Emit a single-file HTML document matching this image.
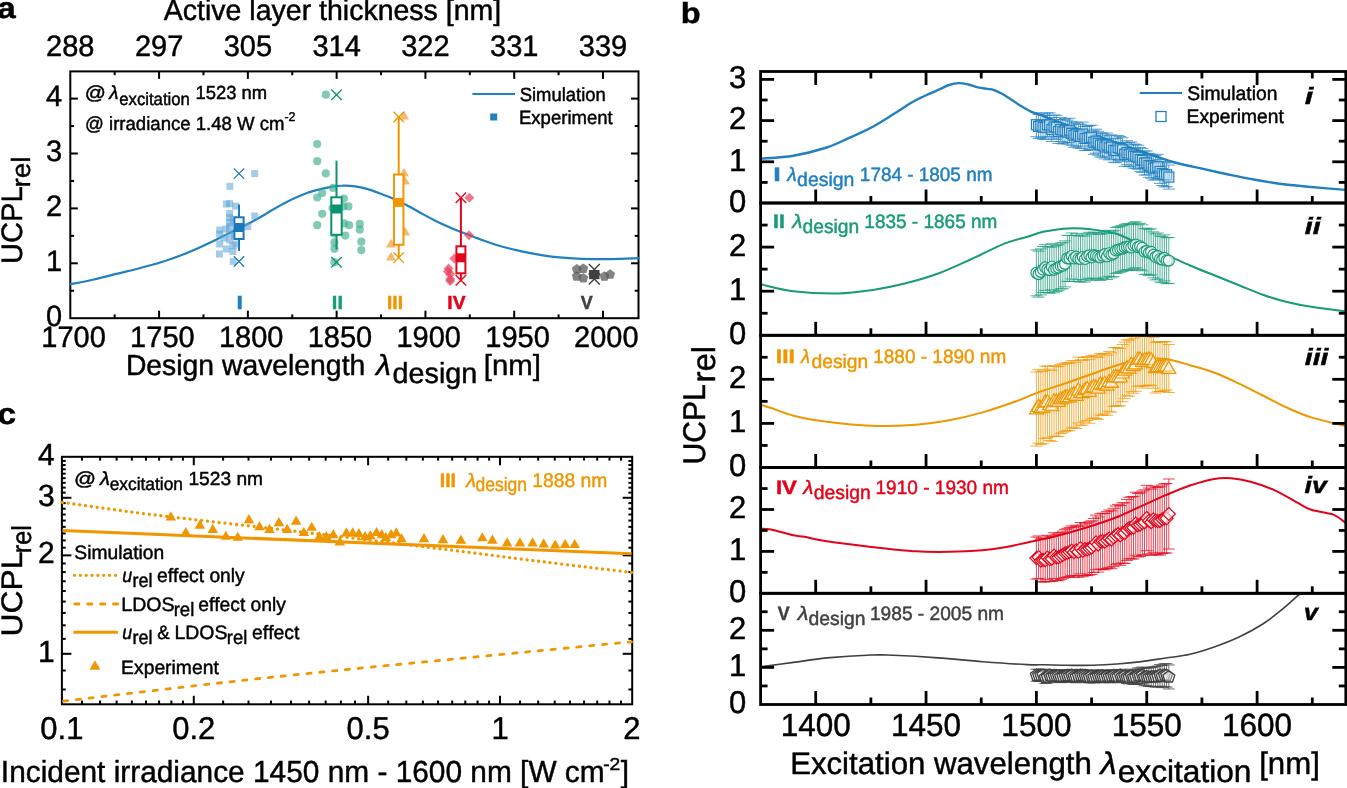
<!DOCTYPE html>
<html><head><meta charset="utf-8"><style>
html,body{margin:0;padding:0;background:#fff;overflow:hidden}
svg{display:block;font-family:"Liberation Sans",sans-serif;font-kerning:none;will-change:transform;text-rendering:geometricPrecision}
text{font-kerning:none}
</style></head><body>
<svg width="1347" height="788" viewBox="0 0 1347 788">
<rect width="1347" height="788" fill="#fff"/>
<text transform="translate(-2.87,17.90) scale(1.1447,1.0200)" font-size="29.00" fill="#000" stroke="#000" stroke-width="0.45" font-weight="bold">a</text>
<text transform="translate(163.84,20.30) scale(1.0000,1.0200)" font-size="28.51" fill="#000" stroke="#000" stroke-width="0.45">Active layer thickness [nm]</text>
<text transform="translate(46.11,55.50) scale(1,1.0200)" font-size="29.00" fill="#000" stroke="#000" stroke-width="0.45">288</text>
<text transform="translate(134.89,55.50) scale(1,1.0200)" font-size="29.00" fill="#000" stroke="#000" stroke-width="0.45">297</text>
<text transform="translate(223.67,55.50) scale(1,1.0200)" font-size="29.00" fill="#000" stroke="#000" stroke-width="0.45">305</text>
<text transform="translate(312.45,55.50) scale(1,1.0200)" font-size="29.00" fill="#000" stroke="#000" stroke-width="0.45">314</text>
<text transform="translate(401.23,55.50) scale(1,1.0200)" font-size="29.00" fill="#000" stroke="#000" stroke-width="0.45">322</text>
<text transform="translate(490.01,55.50) scale(1,1.0200)" font-size="29.00" fill="#000" stroke="#000" stroke-width="0.45">331</text>
<text transform="translate(578.79,55.50) scale(1,1.0200)" font-size="29.00" fill="#000" stroke="#000" stroke-width="0.45">339</text>
<text transform="translate(41.34,347.00) scale(1,1.0200)" font-size="29.00" fill="#000" stroke="#000" stroke-width="0.45">1700</text>
<text transform="translate(130.12,347.00) scale(1,1.0200)" font-size="29.00" fill="#000" stroke="#000" stroke-width="0.45">1750</text>
<text transform="translate(218.91,347.00) scale(1,1.0200)" font-size="29.00" fill="#000" stroke="#000" stroke-width="0.45">1800</text>
<text transform="translate(307.69,347.00) scale(1,1.0200)" font-size="29.00" fill="#000" stroke="#000" stroke-width="0.45">1850</text>
<text transform="translate(396.47,347.00) scale(1,1.0200)" font-size="29.00" fill="#000" stroke="#000" stroke-width="0.45">1900</text>
<text transform="translate(485.25,347.00) scale(1,1.0200)" font-size="29.00" fill="#000" stroke="#000" stroke-width="0.45">1950</text>
<text transform="translate(574.03,347.00) scale(1,1.0200)" font-size="29.00" fill="#000" stroke="#000" stroke-width="0.45">2000</text>
<text transform="translate(46.07,325.70) scale(1,1.0200)" font-size="29.00" fill="#000" stroke="#000" stroke-width="0.45">0</text>
<text transform="translate(46.07,270.80) scale(1,1.0200)" font-size="29.00" fill="#000" stroke="#000" stroke-width="0.45">1</text>
<text transform="translate(46.07,215.90) scale(1,1.0200)" font-size="29.00" fill="#000" stroke="#000" stroke-width="0.45">2</text>
<text transform="translate(46.07,161.00) scale(1,1.0200)" font-size="29.00" fill="#000" stroke="#000" stroke-width="0.45">3</text>
<text transform="translate(46.07,106.10) scale(1,1.0200)" font-size="29.00" fill="#000" stroke="#000" stroke-width="0.45">4</text>
<text transform="translate(125.88,375.40) scale(0.9940,1.0200)" font-size="28.50" fill="#000" stroke="#000" stroke-width="0.45">Design wavelength</text>
<text transform="translate(375.88,375.40) scale(1.0649,1.0200)" font-size="28.50" fill="#000" stroke="#000" stroke-width="0.45" font-style="italic">λ</text>
<text transform="translate(392.59,383.30) scale(1.0082,1.0200)" font-size="28.50" fill="#000" stroke="#000" stroke-width="0.45">design</text>
<text transform="translate(483.81,375.40) scale(1.0299,1.0200)" font-size="28.50" fill="#000" stroke="#000" stroke-width="0.45">[nm]</text>
<text transform="translate(22.10,264.05) rotate(-90) scale(1.0012,1.0138)" font-size="29.10" fill="#000" stroke="#000" stroke-width="0.45">UCPL</text>
<text transform="translate(29.70,187.55) rotate(-90) scale(1.0005,0.9448)" font-size="27.90" fill="#000" stroke="#000" stroke-width="0.45">rel</text>
<rect x="70.30" y="71.40" width="568.20" height="246.80" stroke="#000" stroke-width="2" fill="none"/>
<line x1="114.69" y1="318.20" x2="114.69" y2="314.40" stroke="#000" stroke-width="2"/>
<line x1="114.69" y1="71.40" x2="114.69" y2="75.20" stroke="#000" stroke-width="2"/>
<line x1="159.08" y1="318.20" x2="159.08" y2="310.70" stroke="#000" stroke-width="2"/>
<line x1="159.08" y1="71.40" x2="159.08" y2="78.90" stroke="#000" stroke-width="2"/>
<line x1="203.47" y1="318.20" x2="203.47" y2="314.40" stroke="#000" stroke-width="2"/>
<line x1="203.47" y1="71.40" x2="203.47" y2="75.20" stroke="#000" stroke-width="2"/>
<line x1="247.86" y1="318.20" x2="247.86" y2="310.70" stroke="#000" stroke-width="2"/>
<line x1="247.86" y1="71.40" x2="247.86" y2="78.90" stroke="#000" stroke-width="2"/>
<line x1="292.25" y1="318.20" x2="292.25" y2="314.40" stroke="#000" stroke-width="2"/>
<line x1="292.25" y1="71.40" x2="292.25" y2="75.20" stroke="#000" stroke-width="2"/>
<line x1="336.64" y1="318.20" x2="336.64" y2="310.70" stroke="#000" stroke-width="2"/>
<line x1="336.64" y1="71.40" x2="336.64" y2="78.90" stroke="#000" stroke-width="2"/>
<line x1="381.03" y1="318.20" x2="381.03" y2="314.40" stroke="#000" stroke-width="2"/>
<line x1="381.03" y1="71.40" x2="381.03" y2="75.20" stroke="#000" stroke-width="2"/>
<line x1="425.43" y1="318.20" x2="425.43" y2="310.70" stroke="#000" stroke-width="2"/>
<line x1="425.43" y1="71.40" x2="425.43" y2="78.90" stroke="#000" stroke-width="2"/>
<line x1="469.82" y1="318.20" x2="469.82" y2="314.40" stroke="#000" stroke-width="2"/>
<line x1="469.82" y1="71.40" x2="469.82" y2="75.20" stroke="#000" stroke-width="2"/>
<line x1="514.21" y1="318.20" x2="514.21" y2="310.70" stroke="#000" stroke-width="2"/>
<line x1="514.21" y1="71.40" x2="514.21" y2="78.90" stroke="#000" stroke-width="2"/>
<line x1="558.60" y1="318.20" x2="558.60" y2="314.40" stroke="#000" stroke-width="2"/>
<line x1="558.60" y1="71.40" x2="558.60" y2="75.20" stroke="#000" stroke-width="2"/>
<line x1="602.99" y1="318.20" x2="602.99" y2="310.70" stroke="#000" stroke-width="2"/>
<line x1="602.99" y1="71.40" x2="602.99" y2="78.90" stroke="#000" stroke-width="2"/>
<line x1="70.30" y1="290.75" x2="74.10" y2="290.75" stroke="#000" stroke-width="2"/>
<line x1="638.50" y1="290.75" x2="634.70" y2="290.75" stroke="#000" stroke-width="2"/>
<line x1="70.30" y1="263.30" x2="77.80" y2="263.30" stroke="#000" stroke-width="2"/>
<line x1="638.50" y1="263.30" x2="631.00" y2="263.30" stroke="#000" stroke-width="2"/>
<line x1="70.30" y1="235.85" x2="74.10" y2="235.85" stroke="#000" stroke-width="2"/>
<line x1="638.50" y1="235.85" x2="634.70" y2="235.85" stroke="#000" stroke-width="2"/>
<line x1="70.30" y1="208.40" x2="77.80" y2="208.40" stroke="#000" stroke-width="2"/>
<line x1="638.50" y1="208.40" x2="631.00" y2="208.40" stroke="#000" stroke-width="2"/>
<line x1="70.30" y1="180.95" x2="74.10" y2="180.95" stroke="#000" stroke-width="2"/>
<line x1="638.50" y1="180.95" x2="634.70" y2="180.95" stroke="#000" stroke-width="2"/>
<line x1="70.30" y1="153.50" x2="77.80" y2="153.50" stroke="#000" stroke-width="2"/>
<line x1="638.50" y1="153.50" x2="631.00" y2="153.50" stroke="#000" stroke-width="2"/>
<line x1="70.30" y1="126.05" x2="74.10" y2="126.05" stroke="#000" stroke-width="2"/>
<line x1="638.50" y1="126.05" x2="634.70" y2="126.05" stroke="#000" stroke-width="2"/>
<line x1="70.30" y1="98.60" x2="77.80" y2="98.60" stroke="#000" stroke-width="2"/>
<line x1="638.50" y1="98.60" x2="631.00" y2="98.60" stroke="#000" stroke-width="2"/>
<path d="M70.30,284.30 C74.22,283.50 85.93,281.28 93.80,279.50 C101.67,277.72 109.58,275.57 117.50,273.60 C125.42,271.63 133.38,269.80 141.30,267.70 C149.22,265.60 157.08,263.58 165.00,261.00 C172.92,258.42 180.88,255.45 188.80,252.20 C196.72,248.95 204.58,245.27 212.50,241.50 C220.42,237.73 229.95,232.77 236.30,229.60 C242.65,226.43 246.63,224.55 250.60,222.50 C254.57,220.45 254.57,220.47 260.10,217.30 C265.63,214.13 275.88,207.58 283.80,203.50 C291.72,199.42 299.68,195.57 307.60,192.80 C315.52,190.03 325.37,188.08 331.30,186.90 C337.23,185.72 339.25,185.80 343.20,185.70 C347.15,185.60 351.03,185.77 355.00,186.30 C358.97,186.83 362.83,187.70 367.00,188.90 C371.17,190.10 374.62,191.45 380.00,193.50 C385.38,195.55 392.87,198.15 399.30,201.20 C405.73,204.25 412.17,208.32 418.60,211.80 C425.03,215.28 431.47,218.97 437.90,222.10 C444.33,225.23 450.77,227.97 457.20,230.60 C463.63,233.23 470.07,235.55 476.50,237.90 C482.93,240.25 489.37,242.70 495.80,244.70 C502.23,246.70 508.67,248.37 515.10,249.90 C521.53,251.43 527.97,252.75 534.40,253.90 C540.83,255.05 547.27,256.05 553.70,256.80 C560.13,257.55 566.57,258.02 573.00,258.40 C579.43,258.78 585.87,258.98 592.30,259.10 C598.73,259.22 603.90,259.25 611.60,259.10 C619.30,258.95 634.02,258.35 638.50,258.20" fill="none" stroke="#2080c0" stroke-width="2.2" stroke-linejoin="round" stroke-linecap="round"/>
<text transform="translate(84.86,99.30) scale(1.1255,1.0200)" font-size="18.50" fill="#000" stroke="#000" stroke-width="0.45">@</text>
<text transform="translate(109.15,99.30) scale(1.0155,1.0200)" font-size="18.50" fill="#000" stroke="#000" stroke-width="0.45" font-style="italic">λ</text>
<text transform="translate(119.29,104.50) scale(0.9715,1.0200)" font-size="17.20" fill="#000" stroke="#000" stroke-width="0.45">excitation</text>
<text transform="translate(195.40,99.40) scale(0.9962,1.0200)" font-size="18.50" fill="#000" stroke="#000" stroke-width="0.45">1523 nm</text>
<text transform="translate(85.04,129.80) scale(0.9985,1.0200)" font-size="18.60" fill="#000" stroke="#000" stroke-width="0.45">@ irradiance 1.48 W cm</text>
<text transform="translate(284.45,121.40) scale(0.9869,1.0200)" font-size="12.50" fill="#000" stroke="#000" stroke-width="0.45">-2</text>
<line x1="472.40" y1="94.10" x2="515.10" y2="94.10" stroke="#2080c0" stroke-width="2"/>
<text transform="translate(519.66,101.00) scale(0.9825,1.0200)" font-size="18.80" fill="#000" stroke="#000" stroke-width="0.45">Simulation</text>
<rect x="490.20" y="113.50" width="7" height="7" fill="#2080c0"/>
<text transform="translate(518.98,123.60) scale(0.9871,1.0200)" font-size="18.80" fill="#000" stroke="#000" stroke-width="0.45">Experiment</text>
<rect x="251.20" y="170.10" width="7" height="7" fill="#5aa2d6" fill-opacity="0.55"/>
<rect x="226.40" y="182.80" width="7" height="7" fill="#5aa2d6" fill-opacity="0.55"/>
<rect x="226.10" y="200.10" width="7" height="7" fill="#5aa2d6" fill-opacity="0.55"/>
<rect x="231.90" y="202.60" width="7" height="7" fill="#5aa2d6" fill-opacity="0.55"/>
<rect x="223.00" y="200.50" width="7" height="7" fill="#5aa2d6" fill-opacity="0.55"/>
<rect x="226.10" y="210.00" width="7" height="7" fill="#5aa2d6" fill-opacity="0.55"/>
<rect x="226.10" y="214.20" width="7" height="7" fill="#5aa2d6" fill-opacity="0.55"/>
<rect x="251.20" y="212.50" width="7" height="7" fill="#5aa2d6" fill-opacity="0.55"/>
<rect x="226.10" y="219.10" width="7" height="7" fill="#5aa2d6" fill-opacity="0.55"/>
<rect x="226.10" y="223.20" width="7" height="7" fill="#5aa2d6" fill-opacity="0.55"/>
<rect x="216.20" y="226.50" width="7" height="7" fill="#5aa2d6" fill-opacity="0.55"/>
<rect x="244.30" y="223.20" width="7" height="7" fill="#5aa2d6" fill-opacity="0.55"/>
<rect x="216.20" y="230.70" width="7" height="7" fill="#5aa2d6" fill-opacity="0.55"/>
<rect x="226.10" y="229.80" width="7" height="7" fill="#5aa2d6" fill-opacity="0.55"/>
<rect x="231.10" y="232.30" width="7" height="7" fill="#5aa2d6" fill-opacity="0.55"/>
<rect x="226.10" y="236.50" width="7" height="7" fill="#5aa2d6" fill-opacity="0.55"/>
<rect x="216.20" y="240.50" width="7" height="7" fill="#5aa2d6" fill-opacity="0.55"/>
<rect x="222.80" y="245.50" width="7" height="7" fill="#5aa2d6" fill-opacity="0.55"/>
<rect x="229.40" y="242.20" width="7" height="7" fill="#5aa2d6" fill-opacity="0.55"/>
<rect x="229.40" y="248.00" width="7" height="7" fill="#5aa2d6" fill-opacity="0.55"/>
<rect x="215.90" y="250.50" width="7" height="7" fill="#5aa2d6" fill-opacity="0.55"/>
<rect x="229.70" y="257.90" width="7" height="7" fill="#5aa2d6" fill-opacity="0.55"/>
<rect x="236.00" y="225.70" width="7" height="7" fill="#5aa2d6" fill-opacity="0.55"/>
<rect x="234.40" y="232.30" width="7" height="7" fill="#5aa2d6" fill-opacity="0.55"/>
<rect x="222.50" y="225.50" width="7" height="7" fill="#5aa2d6" fill-opacity="0.55"/>
<rect x="229.50" y="216.50" width="7" height="7" fill="#5aa2d6" fill-opacity="0.55"/>
<rect x="220.50" y="234.50" width="7" height="7" fill="#5aa2d6" fill-opacity="0.55"/>
<rect x="232.50" y="240.50" width="7" height="7" fill="#5aa2d6" fill-opacity="0.55"/>
<line x1="239.00" y1="204.50" x2="239.00" y2="217.30" stroke="#1a78bd" stroke-width="2"/>
<line x1="239.00" y1="239.00" x2="239.00" y2="251.00" stroke="#1a78bd" stroke-width="2"/>
<rect x="234.40" y="217.30" width="9.20" height="21.70" stroke="#1a78bd" stroke-width="2" fill="#fff"/>
<rect x="234.50" y="223.00" width="9" height="9" fill="#1a78bd" fill-opacity="1.0"/>
<line x1="233.75" y1="168.35" x2="244.25" y2="178.85" stroke="#1a78bd" stroke-width="1.3"/>
<line x1="233.75" y1="178.85" x2="244.25" y2="168.35" stroke="#1a78bd" stroke-width="1.3"/>
<line x1="233.75" y1="256.25" x2="244.25" y2="266.75" stroke="#1a78bd" stroke-width="1.3"/>
<line x1="233.75" y1="266.75" x2="244.25" y2="256.25" stroke="#1a78bd" stroke-width="1.3"/>
<circle cx="325.80" cy="94.70" r="4.1" fill="#3fae8f" fill-opacity="0.65"/>
<circle cx="317.20" cy="144.00" r="4.1" fill="#3fae8f" fill-opacity="0.65"/>
<circle cx="317.20" cy="161.20" r="4.1" fill="#3fae8f" fill-opacity="0.65"/>
<circle cx="325.80" cy="173.40" r="4.1" fill="#3fae8f" fill-opacity="0.65"/>
<circle cx="333.10" cy="187.90" r="4.1" fill="#3fae8f" fill-opacity="0.65"/>
<circle cx="322.20" cy="192.90" r="4.1" fill="#3fae8f" fill-opacity="0.65"/>
<circle cx="317.20" cy="197.50" r="4.1" fill="#3fae8f" fill-opacity="0.65"/>
<circle cx="322.20" cy="213.80" r="4.1" fill="#3fae8f" fill-opacity="0.65"/>
<circle cx="317.20" cy="225.20" r="4.1" fill="#3fae8f" fill-opacity="0.65"/>
<circle cx="343.80" cy="198.50" r="4.1" fill="#3fae8f" fill-opacity="0.65"/>
<circle cx="348.40" cy="206.40" r="4.1" fill="#3fae8f" fill-opacity="0.65"/>
<circle cx="343.30" cy="206.40" r="4.1" fill="#3fae8f" fill-opacity="0.65"/>
<circle cx="344.10" cy="223.40" r="4.1" fill="#3fae8f" fill-opacity="0.65"/>
<circle cx="349.10" cy="225.20" r="4.1" fill="#3fae8f" fill-opacity="0.65"/>
<circle cx="345.30" cy="235.60" r="4.1" fill="#3fae8f" fill-opacity="0.65"/>
<circle cx="359.80" cy="223.90" r="4.1" fill="#3fae8f" fill-opacity="0.65"/>
<circle cx="359.80" cy="229.70" r="4.1" fill="#3fae8f" fill-opacity="0.65"/>
<circle cx="361.30" cy="241.70" r="4.1" fill="#3fae8f" fill-opacity="0.65"/>
<circle cx="361.30" cy="250.10" r="4.1" fill="#3fae8f" fill-opacity="0.65"/>
<circle cx="334.40" cy="233.60" r="4.1" fill="#3fae8f" fill-opacity="0.65"/>
<circle cx="334.40" cy="242.40" r="4.1" fill="#3fae8f" fill-opacity="0.65"/>
<circle cx="334.40" cy="248.80" r="4.1" fill="#3fae8f" fill-opacity="0.65"/>
<circle cx="334.40" cy="262.20" r="4.1" fill="#3fae8f" fill-opacity="0.65"/>
<circle cx="332.60" cy="208.20" r="4.1" fill="#3fae8f" fill-opacity="0.65"/>
<line x1="336.50" y1="160.70" x2="336.50" y2="197.30" stroke="#0a9370" stroke-width="2"/>
<line x1="336.50" y1="234.80" x2="336.50" y2="249.50" stroke="#0a9370" stroke-width="2"/>
<rect x="331.30" y="197.30" width="10.40" height="37.50" stroke="#0a9370" stroke-width="2" fill="#fff"/>
<rect x="332.00" y="204.50" width="9" height="9" fill="#0a9370" fill-opacity="1.0"/>
<line x1="331.25" y1="89.45" x2="341.75" y2="99.95" stroke="#0a9370" stroke-width="1.3"/>
<line x1="331.25" y1="99.95" x2="341.75" y2="89.45" stroke="#0a9370" stroke-width="1.3"/>
<line x1="331.25" y1="256.95" x2="341.75" y2="267.45" stroke="#0a9370" stroke-width="1.3"/>
<line x1="331.25" y1="267.45" x2="341.75" y2="256.95" stroke="#0a9370" stroke-width="1.3"/>
<polygon points="404.00,110.78 409.00,119.48 399.00,119.48" fill="#f2a040" fill-opacity="0.75"/>
<polygon points="404.00,167.78 409.00,176.48 399.00,176.48" fill="#f2a040" fill-opacity="0.75"/>
<polygon points="405.00,175.78 410.00,184.48 400.00,184.48" fill="#f2a040" fill-opacity="0.75"/>
<polygon points="405.00,226.78 410.00,235.48 400.00,235.48" fill="#f2a040" fill-opacity="0.75"/>
<polygon points="391.00,238.78 396.00,247.48 386.00,247.48" fill="#f2a040" fill-opacity="0.75"/>
<polygon points="391.00,251.78 396.00,260.48 386.00,260.48" fill="#f2a040" fill-opacity="0.75"/>
<line x1="398.70" y1="117.00" x2="398.70" y2="174.50" stroke="#f09600" stroke-width="2"/>
<line x1="398.70" y1="244.80" x2="398.70" y2="257.60" stroke="#f09600" stroke-width="2"/>
<rect x="393.95" y="174.50" width="9.50" height="70.30" stroke="#f09600" stroke-width="2" fill="#fff"/>
<rect x="394.20" y="197.90" width="9" height="9" fill="#f09600" fill-opacity="1.0"/>
<line x1="393.45" y1="111.75" x2="403.95" y2="122.25" stroke="#f09600" stroke-width="1.3"/>
<line x1="393.45" y1="122.25" x2="403.95" y2="111.75" stroke="#f09600" stroke-width="1.3"/>
<line x1="393.45" y1="252.35" x2="403.95" y2="262.85" stroke="#f09600" stroke-width="1.3"/>
<line x1="393.45" y1="262.85" x2="403.95" y2="252.35" stroke="#f09600" stroke-width="1.3"/>
<polygon points="469.30,192.80 474.30,197.80 469.30,202.80 464.30,197.80" fill="#e8405a" fill-opacity="0.7"/>
<polygon points="469.00,230.20 474.00,235.20 469.00,240.20 464.00,235.20" fill="#e8405a" fill-opacity="0.7"/>
<polygon points="454.30,253.60 459.30,258.60 454.30,263.60 449.30,258.60" fill="#e8405a" fill-opacity="0.7"/>
<polygon points="448.60,263.40 453.60,268.40 448.60,273.40 443.60,268.40" fill="#e8405a" fill-opacity="0.7"/>
<polygon points="447.80,266.60 452.80,271.60 447.80,276.60 442.80,271.60" fill="#e8405a" fill-opacity="0.7"/>
<polygon points="450.20,269.10 455.20,274.10 450.20,279.10 445.20,274.10" fill="#e8405a" fill-opacity="0.7"/>
<polygon points="450.20,274.00 455.20,279.00 450.20,284.00 445.20,279.00" fill="#e8405a" fill-opacity="0.7"/>
<polygon points="450.20,276.00 455.20,281.00 450.20,286.00 445.20,281.00" fill="#e8405a" fill-opacity="0.7"/>
<line x1="460.90" y1="197.80" x2="460.90" y2="246.30" stroke="#e2041a" stroke-width="2"/>
<line x1="460.90" y1="273.30" x2="460.90" y2="280.30" stroke="#e2041a" stroke-width="2"/>
<rect x="456.40" y="246.30" width="9.00" height="27.00" stroke="#e2041a" stroke-width="2" fill="#fff"/>
<rect x="456.40" y="253.30" width="9" height="9" fill="#e2041a" fill-opacity="1.0"/>
<line x1="455.65" y1="192.55" x2="466.15" y2="203.05" stroke="#e2041a" stroke-width="1.3"/>
<line x1="455.65" y1="203.05" x2="466.15" y2="192.55" stroke="#e2041a" stroke-width="1.3"/>
<line x1="455.65" y1="275.05" x2="466.15" y2="285.55" stroke="#e2041a" stroke-width="1.3"/>
<line x1="455.65" y1="285.55" x2="466.15" y2="275.05" stroke="#e2041a" stroke-width="1.3"/>
<polygon points="576.80,264.05 581.79,267.68 579.89,273.55 573.71,273.55 571.81,267.68" fill="#5a5a5a" fill-opacity="0.75"/>
<polygon points="576.80,271.15 581.79,274.78 579.89,280.65 573.71,280.65 571.81,274.78" fill="#5a5a5a" fill-opacity="0.75"/>
<polygon points="583.30,263.45 588.29,267.08 586.39,272.95 580.21,272.95 578.31,267.08" fill="#5a5a5a" fill-opacity="0.75"/>
<polygon points="583.30,272.95 588.29,276.58 586.39,282.45 580.21,282.45 578.31,276.58" fill="#5a5a5a" fill-opacity="0.75"/>
<polygon points="604.40,271.15 609.39,274.78 607.49,280.65 601.31,280.65 599.41,274.78" fill="#5a5a5a" fill-opacity="0.75"/>
<polygon points="610.10,269.35 615.09,272.98 613.19,278.85 607.01,278.85 605.11,272.98" fill="#5a5a5a" fill-opacity="0.75"/>
<line x1="588.80" y1="264.00" x2="599.80" y2="275.00" stroke="#404040" stroke-width="1.4"/>
<line x1="588.80" y1="275.00" x2="599.80" y2="264.00" stroke="#404040" stroke-width="1.4"/>
<line x1="588.80" y1="273.50" x2="599.80" y2="284.50" stroke="#404040" stroke-width="1.4"/>
<line x1="588.80" y1="284.50" x2="599.80" y2="273.50" stroke="#404040" stroke-width="1.4"/>
<rect x="589.10" y="270.00" width="10.4" height="9.2" fill="#404040"/>
<text transform="translate(236.47,308.60) scale(1.2317,1.0200)" font-size="18.60" fill="#2080c0" stroke="#2080c0" stroke-width="0.45" font-weight="bold">I</text>
<text transform="translate(331.87,308.60) scale(1.0705,1.0200)" font-size="18.60" fill="#189b7a" stroke="#189b7a" stroke-width="0.45" font-weight="bold">II</text>
<text transform="translate(387.02,308.60) scale(1.0296,1.0200)" font-size="18.60" fill="#f09600" stroke="#f09600" stroke-width="0.45" font-weight="bold">III</text>
<text transform="translate(447.31,308.60) scale(1.0369,1.0200)" font-size="18.60" fill="#e2041a" stroke="#e2041a" stroke-width="0.45" font-weight="bold">IV</text>
<text transform="translate(580.78,308.60) scale(0.9628,1.0200)" font-size="18.60" fill="#404040" stroke="#404040" stroke-width="0.45" font-weight="bold">V</text>
<text transform="translate(680.65,23.40) scale(1.1460,1.0200)" font-size="28.40" fill="#000" stroke="#000" stroke-width="0.45" font-weight="bold">b</text>
<text transform="translate(728.96,88.20) scale(1,1.0200)" font-size="31.00" fill="#000" stroke="#000" stroke-width="0.45">3</text>
<text transform="translate(728.96,129.40) scale(1,1.0200)" font-size="31.00" fill="#000" stroke="#000" stroke-width="0.45">2</text>
<text transform="translate(728.96,170.60) scale(1,1.0200)" font-size="31.00" fill="#000" stroke="#000" stroke-width="0.45">1</text>
<text transform="translate(728.96,211.80) scale(1,1.0200)" font-size="31.00" fill="#000" stroke="#000" stroke-width="0.45">0</text>
<text transform="translate(728.96,255.90) scale(1,1.0200)" font-size="31.00" fill="#000" stroke="#000" stroke-width="0.45">2</text>
<text transform="translate(728.96,300.00) scale(1,1.0200)" font-size="31.00" fill="#000" stroke="#000" stroke-width="0.45">1</text>
<text transform="translate(728.96,344.10) scale(1,1.0200)" font-size="31.00" fill="#000" stroke="#000" stroke-width="0.45">0</text>
<text transform="translate(728.96,388.10) scale(1,1.0200)" font-size="31.00" fill="#000" stroke="#000" stroke-width="0.45">2</text>
<text transform="translate(728.96,432.20) scale(1,1.0200)" font-size="31.00" fill="#000" stroke="#000" stroke-width="0.45">1</text>
<text transform="translate(728.96,476.30) scale(1,1.0200)" font-size="31.00" fill="#000" stroke="#000" stroke-width="0.45">0</text>
<text transform="translate(728.96,518.30) scale(1,1.0200)" font-size="31.00" fill="#000" stroke="#000" stroke-width="0.45">2</text>
<text transform="translate(728.96,560.20) scale(1,1.0200)" font-size="31.00" fill="#000" stroke="#000" stroke-width="0.45">1</text>
<text transform="translate(728.96,602.10) scale(1,1.0200)" font-size="31.00" fill="#000" stroke="#000" stroke-width="0.45">0</text>
<text transform="translate(728.96,639.10) scale(1,1.0200)" font-size="31.00" fill="#000" stroke="#000" stroke-width="0.45">2</text>
<text transform="translate(728.96,676.20) scale(1,1.0200)" font-size="31.00" fill="#000" stroke="#000" stroke-width="0.45">1</text>
<text transform="translate(728.96,713.30) scale(1,1.0200)" font-size="31.00" fill="#000" stroke="#000" stroke-width="0.45">0</text>
<text transform="translate(780.66,736.30) scale(1,1.0200)" font-size="31.50" fill="#000" stroke="#000" stroke-width="0.45">1400</text>
<text transform="translate(891.01,736.30) scale(1,1.0200)" font-size="31.50" fill="#000" stroke="#000" stroke-width="0.45">1450</text>
<text transform="translate(1001.36,736.30) scale(1,1.0200)" font-size="31.50" fill="#000" stroke="#000" stroke-width="0.45">1500</text>
<text transform="translate(1111.71,736.30) scale(1,1.0200)" font-size="31.50" fill="#000" stroke="#000" stroke-width="0.45">1550</text>
<text transform="translate(1222.06,736.30) scale(1,1.0200)" font-size="31.50" fill="#000" stroke="#000" stroke-width="0.45">1600</text>
<text transform="translate(790.14,774.00) scale(1.0223,1.0200)" font-size="30.50" fill="#000" stroke="#000" stroke-width="0.45">Excitation wavelength</text>
<text transform="translate(1100.60,774.10) scale(1.0830,1.0200)" font-size="30.50" fill="#000" stroke="#000" stroke-width="0.45" font-style="italic">λ</text>
<text transform="translate(1117.76,782.10) scale(1.0376,1.0200)" font-size="30.50" fill="#000" stroke="#000" stroke-width="0.45">excitation</text>
<text transform="translate(1259.18,774.00) scale(1.0224,1.0200)" font-size="30.50" fill="#000" stroke="#000" stroke-width="0.45">[nm]</text>
<text transform="translate(705.20,464.52) rotate(-90) scale(1.0004,1.0420)" font-size="30.10" fill="#000" stroke="#000" stroke-width="0.45">UCPL</text>
<text transform="translate(714.70,382.59) rotate(-90) scale(1.0008,0.9953)" font-size="33.00" fill="#000" stroke="#000" stroke-width="0.45">rel</text>
<defs><clipPath id="sp0"><rect x="760.6" y="71.5" width="585.1999999999999" height="131.5"/></clipPath><clipPath id="sp1"><rect x="760.6" y="203.0" width="585.1999999999999" height="132.3"/></clipPath><clipPath id="sp2"><rect x="760.6" y="335.3" width="585.1999999999999" height="132.2"/></clipPath><clipPath id="sp3"><rect x="760.6" y="467.5" width="585.1999999999999" height="125.79999999999995"/></clipPath><clipPath id="sp4"><rect x="760.6" y="593.3" width="585.1999999999999" height="111.20000000000005"/></clipPath></defs>
<g clip-path="url(#sp0)">
<path d="M760.60,158.60 C766.07,158.12 782.37,157.55 793.40,155.70 C804.43,153.85 817.52,150.47 826.80,147.50 C836.08,144.53 841.67,141.23 849.10,137.90 C856.53,134.57 863.98,131.47 871.40,127.50 C878.82,123.53 887.17,118.10 893.60,114.10 C900.03,110.10 905.60,106.17 910.00,103.50 C914.40,100.83 916.72,99.73 920.00,98.10 C923.28,96.47 926.48,95.15 929.70,93.70 C932.92,92.25 936.08,90.85 939.30,89.40 C942.52,87.95 945.78,86.05 949.00,85.00 C952.22,83.95 955.38,83.18 958.60,83.10 C961.82,83.02 965.08,83.78 968.30,84.50 C971.52,85.22 974.68,86.67 977.90,87.40 C981.12,88.13 985.02,88.48 987.60,88.90 C990.18,89.32 991.00,89.10 993.40,89.90 C995.80,90.70 998.95,92.02 1002.00,93.70 C1005.05,95.38 1008.47,97.90 1011.70,100.00 C1014.93,102.10 1018.18,104.37 1021.40,106.30 C1024.62,108.23 1027.78,110.15 1031.00,111.60 C1034.22,113.05 1035.87,113.18 1040.70,115.00 C1045.53,116.82 1050.12,118.83 1060.00,122.50 C1069.88,126.17 1086.67,132.25 1100.00,137.00 C1113.33,141.75 1127.85,146.83 1140.00,151.00 C1152.15,155.17 1162.57,159.05 1172.90,162.00 C1183.23,164.95 1192.73,166.62 1202.00,168.70 C1211.27,170.78 1219.67,172.65 1228.50,174.50 C1237.33,176.35 1246.17,178.22 1255.00,179.80 C1263.83,181.38 1272.67,182.85 1281.50,184.00 C1290.33,185.15 1297.38,185.72 1308.00,186.70 C1318.62,187.68 1339.00,189.37 1345.20,189.90" fill="none" stroke="#2080c0" stroke-width="2.4" stroke-linejoin="round" stroke-linecap="round"/>
<line x1="1036.40" y1="112.69" x2="1036.40" y2="136.69" stroke="#2080c0" stroke-width="1.0" stroke-opacity="0.75"/>
<line x1="1030.40" y1="112.69" x2="1042.40" y2="112.69" stroke="#2080c0" stroke-width="1.0" stroke-opacity="0.75"/>
<line x1="1030.40" y1="136.69" x2="1042.40" y2="136.69" stroke="#2080c0" stroke-width="1.0" stroke-opacity="0.75"/>
<line x1="1038.61" y1="114.42" x2="1038.61" y2="138.42" stroke="#2080c0" stroke-width="1.0" stroke-opacity="0.75"/>
<line x1="1032.61" y1="114.42" x2="1044.61" y2="114.42" stroke="#2080c0" stroke-width="1.0" stroke-opacity="0.75"/>
<line x1="1032.61" y1="138.42" x2="1044.61" y2="138.42" stroke="#2080c0" stroke-width="1.0" stroke-opacity="0.75"/>
<line x1="1040.81" y1="113.75" x2="1040.81" y2="137.75" stroke="#2080c0" stroke-width="1.0" stroke-opacity="0.75"/>
<line x1="1034.81" y1="113.75" x2="1046.81" y2="113.75" stroke="#2080c0" stroke-width="1.0" stroke-opacity="0.75"/>
<line x1="1034.81" y1="137.75" x2="1046.81" y2="137.75" stroke="#2080c0" stroke-width="1.0" stroke-opacity="0.75"/>
<line x1="1043.02" y1="115.12" x2="1043.02" y2="139.12" stroke="#2080c0" stroke-width="1.0" stroke-opacity="0.75"/>
<line x1="1037.02" y1="115.12" x2="1049.02" y2="115.12" stroke="#2080c0" stroke-width="1.0" stroke-opacity="0.75"/>
<line x1="1037.02" y1="139.12" x2="1049.02" y2="139.12" stroke="#2080c0" stroke-width="1.0" stroke-opacity="0.75"/>
<line x1="1045.23" y1="115.43" x2="1045.23" y2="139.43" stroke="#2080c0" stroke-width="1.0" stroke-opacity="0.75"/>
<line x1="1039.23" y1="115.43" x2="1051.23" y2="115.43" stroke="#2080c0" stroke-width="1.0" stroke-opacity="0.75"/>
<line x1="1039.23" y1="139.43" x2="1051.23" y2="139.43" stroke="#2080c0" stroke-width="1.0" stroke-opacity="0.75"/>
<line x1="1047.43" y1="112.83" x2="1047.43" y2="136.83" stroke="#2080c0" stroke-width="1.0" stroke-opacity="0.75"/>
<line x1="1041.43" y1="112.83" x2="1053.43" y2="112.83" stroke="#2080c0" stroke-width="1.0" stroke-opacity="0.75"/>
<line x1="1041.43" y1="136.83" x2="1053.43" y2="136.83" stroke="#2080c0" stroke-width="1.0" stroke-opacity="0.75"/>
<line x1="1049.64" y1="112.97" x2="1049.64" y2="136.97" stroke="#2080c0" stroke-width="1.0" stroke-opacity="0.75"/>
<line x1="1043.64" y1="112.97" x2="1055.64" y2="112.97" stroke="#2080c0" stroke-width="1.0" stroke-opacity="0.75"/>
<line x1="1043.64" y1="136.97" x2="1055.64" y2="136.97" stroke="#2080c0" stroke-width="1.0" stroke-opacity="0.75"/>
<line x1="1051.85" y1="117.49" x2="1051.85" y2="141.49" stroke="#2080c0" stroke-width="1.0" stroke-opacity="0.75"/>
<line x1="1045.85" y1="117.49" x2="1057.85" y2="117.49" stroke="#2080c0" stroke-width="1.0" stroke-opacity="0.75"/>
<line x1="1045.85" y1="141.49" x2="1057.85" y2="141.49" stroke="#2080c0" stroke-width="1.0" stroke-opacity="0.75"/>
<line x1="1054.06" y1="115.00" x2="1054.06" y2="139.00" stroke="#2080c0" stroke-width="1.0" stroke-opacity="0.75"/>
<line x1="1048.06" y1="115.00" x2="1060.06" y2="115.00" stroke="#2080c0" stroke-width="1.0" stroke-opacity="0.75"/>
<line x1="1048.06" y1="139.00" x2="1060.06" y2="139.00" stroke="#2080c0" stroke-width="1.0" stroke-opacity="0.75"/>
<line x1="1056.26" y1="115.27" x2="1056.26" y2="139.27" stroke="#2080c0" stroke-width="1.0" stroke-opacity="0.75"/>
<line x1="1050.26" y1="115.27" x2="1062.26" y2="115.27" stroke="#2080c0" stroke-width="1.0" stroke-opacity="0.75"/>
<line x1="1050.26" y1="139.27" x2="1062.26" y2="139.27" stroke="#2080c0" stroke-width="1.0" stroke-opacity="0.75"/>
<line x1="1058.47" y1="119.48" x2="1058.47" y2="143.48" stroke="#2080c0" stroke-width="1.0" stroke-opacity="0.75"/>
<line x1="1052.47" y1="119.48" x2="1064.47" y2="119.48" stroke="#2080c0" stroke-width="1.0" stroke-opacity="0.75"/>
<line x1="1052.47" y1="143.48" x2="1064.47" y2="143.48" stroke="#2080c0" stroke-width="1.0" stroke-opacity="0.75"/>
<line x1="1060.68" y1="117.45" x2="1060.68" y2="141.45" stroke="#2080c0" stroke-width="1.0" stroke-opacity="0.75"/>
<line x1="1054.68" y1="117.45" x2="1066.68" y2="117.45" stroke="#2080c0" stroke-width="1.0" stroke-opacity="0.75"/>
<line x1="1054.68" y1="141.45" x2="1066.68" y2="141.45" stroke="#2080c0" stroke-width="1.0" stroke-opacity="0.75"/>
<line x1="1062.88" y1="119.88" x2="1062.88" y2="143.88" stroke="#2080c0" stroke-width="1.0" stroke-opacity="0.75"/>
<line x1="1056.88" y1="119.88" x2="1068.88" y2="119.88" stroke="#2080c0" stroke-width="1.0" stroke-opacity="0.75"/>
<line x1="1056.88" y1="143.88" x2="1068.88" y2="143.88" stroke="#2080c0" stroke-width="1.0" stroke-opacity="0.75"/>
<line x1="1065.09" y1="118.68" x2="1065.09" y2="142.68" stroke="#2080c0" stroke-width="1.0" stroke-opacity="0.75"/>
<line x1="1059.09" y1="118.68" x2="1071.09" y2="118.68" stroke="#2080c0" stroke-width="1.0" stroke-opacity="0.75"/>
<line x1="1059.09" y1="142.68" x2="1071.09" y2="142.68" stroke="#2080c0" stroke-width="1.0" stroke-opacity="0.75"/>
<line x1="1067.30" y1="120.10" x2="1067.30" y2="144.10" stroke="#2080c0" stroke-width="1.0" stroke-opacity="0.75"/>
<line x1="1061.30" y1="120.10" x2="1073.30" y2="120.10" stroke="#2080c0" stroke-width="1.0" stroke-opacity="0.75"/>
<line x1="1061.30" y1="144.10" x2="1073.30" y2="144.10" stroke="#2080c0" stroke-width="1.0" stroke-opacity="0.75"/>
<line x1="1069.51" y1="118.25" x2="1069.51" y2="142.25" stroke="#2080c0" stroke-width="1.0" stroke-opacity="0.75"/>
<line x1="1063.51" y1="118.25" x2="1075.51" y2="118.25" stroke="#2080c0" stroke-width="1.0" stroke-opacity="0.75"/>
<line x1="1063.51" y1="142.25" x2="1075.51" y2="142.25" stroke="#2080c0" stroke-width="1.0" stroke-opacity="0.75"/>
<line x1="1071.71" y1="121.37" x2="1071.71" y2="145.37" stroke="#2080c0" stroke-width="1.0" stroke-opacity="0.75"/>
<line x1="1065.71" y1="121.37" x2="1077.71" y2="121.37" stroke="#2080c0" stroke-width="1.0" stroke-opacity="0.75"/>
<line x1="1065.71" y1="145.37" x2="1077.71" y2="145.37" stroke="#2080c0" stroke-width="1.0" stroke-opacity="0.75"/>
<line x1="1073.92" y1="123.24" x2="1073.92" y2="147.24" stroke="#2080c0" stroke-width="1.0" stroke-opacity="0.75"/>
<line x1="1067.92" y1="123.24" x2="1079.92" y2="123.24" stroke="#2080c0" stroke-width="1.0" stroke-opacity="0.75"/>
<line x1="1067.92" y1="147.24" x2="1079.92" y2="147.24" stroke="#2080c0" stroke-width="1.0" stroke-opacity="0.75"/>
<line x1="1076.13" y1="122.22" x2="1076.13" y2="146.22" stroke="#2080c0" stroke-width="1.0" stroke-opacity="0.75"/>
<line x1="1070.13" y1="122.22" x2="1082.13" y2="122.22" stroke="#2080c0" stroke-width="1.0" stroke-opacity="0.75"/>
<line x1="1070.13" y1="146.22" x2="1082.13" y2="146.22" stroke="#2080c0" stroke-width="1.0" stroke-opacity="0.75"/>
<line x1="1078.33" y1="124.01" x2="1078.33" y2="148.01" stroke="#2080c0" stroke-width="1.0" stroke-opacity="0.75"/>
<line x1="1072.33" y1="124.01" x2="1084.33" y2="124.01" stroke="#2080c0" stroke-width="1.0" stroke-opacity="0.75"/>
<line x1="1072.33" y1="148.01" x2="1084.33" y2="148.01" stroke="#2080c0" stroke-width="1.0" stroke-opacity="0.75"/>
<line x1="1080.54" y1="124.36" x2="1080.54" y2="148.36" stroke="#2080c0" stroke-width="1.0" stroke-opacity="0.75"/>
<line x1="1074.54" y1="124.36" x2="1086.54" y2="124.36" stroke="#2080c0" stroke-width="1.0" stroke-opacity="0.75"/>
<line x1="1074.54" y1="148.36" x2="1086.54" y2="148.36" stroke="#2080c0" stroke-width="1.0" stroke-opacity="0.75"/>
<line x1="1082.75" y1="122.12" x2="1082.75" y2="146.12" stroke="#2080c0" stroke-width="1.0" stroke-opacity="0.75"/>
<line x1="1076.75" y1="122.12" x2="1088.75" y2="122.12" stroke="#2080c0" stroke-width="1.0" stroke-opacity="0.75"/>
<line x1="1076.75" y1="146.12" x2="1088.75" y2="146.12" stroke="#2080c0" stroke-width="1.0" stroke-opacity="0.75"/>
<line x1="1084.95" y1="126.39" x2="1084.95" y2="150.39" stroke="#2080c0" stroke-width="1.0" stroke-opacity="0.75"/>
<line x1="1078.95" y1="126.39" x2="1090.95" y2="126.39" stroke="#2080c0" stroke-width="1.0" stroke-opacity="0.75"/>
<line x1="1078.95" y1="150.39" x2="1090.95" y2="150.39" stroke="#2080c0" stroke-width="1.0" stroke-opacity="0.75"/>
<line x1="1087.16" y1="126.36" x2="1087.16" y2="150.36" stroke="#2080c0" stroke-width="1.0" stroke-opacity="0.75"/>
<line x1="1081.16" y1="126.36" x2="1093.16" y2="126.36" stroke="#2080c0" stroke-width="1.0" stroke-opacity="0.75"/>
<line x1="1081.16" y1="150.36" x2="1093.16" y2="150.36" stroke="#2080c0" stroke-width="1.0" stroke-opacity="0.75"/>
<line x1="1089.37" y1="125.71" x2="1089.37" y2="149.71" stroke="#2080c0" stroke-width="1.0" stroke-opacity="0.75"/>
<line x1="1083.37" y1="125.71" x2="1095.37" y2="125.71" stroke="#2080c0" stroke-width="1.0" stroke-opacity="0.75"/>
<line x1="1083.37" y1="149.71" x2="1095.37" y2="149.71" stroke="#2080c0" stroke-width="1.0" stroke-opacity="0.75"/>
<line x1="1091.58" y1="125.16" x2="1091.58" y2="149.16" stroke="#2080c0" stroke-width="1.0" stroke-opacity="0.75"/>
<line x1="1085.58" y1="125.16" x2="1097.58" y2="125.16" stroke="#2080c0" stroke-width="1.0" stroke-opacity="0.75"/>
<line x1="1085.58" y1="149.16" x2="1097.58" y2="149.16" stroke="#2080c0" stroke-width="1.0" stroke-opacity="0.75"/>
<line x1="1093.78" y1="130.23" x2="1093.78" y2="154.23" stroke="#2080c0" stroke-width="1.0" stroke-opacity="0.75"/>
<line x1="1087.78" y1="130.23" x2="1099.78" y2="130.23" stroke="#2080c0" stroke-width="1.0" stroke-opacity="0.75"/>
<line x1="1087.78" y1="154.23" x2="1099.78" y2="154.23" stroke="#2080c0" stroke-width="1.0" stroke-opacity="0.75"/>
<line x1="1095.99" y1="129.16" x2="1095.99" y2="153.16" stroke="#2080c0" stroke-width="1.0" stroke-opacity="0.75"/>
<line x1="1089.99" y1="129.16" x2="1101.99" y2="129.16" stroke="#2080c0" stroke-width="1.0" stroke-opacity="0.75"/>
<line x1="1089.99" y1="153.16" x2="1101.99" y2="153.16" stroke="#2080c0" stroke-width="1.0" stroke-opacity="0.75"/>
<line x1="1098.20" y1="131.29" x2="1098.20" y2="155.29" stroke="#2080c0" stroke-width="1.0" stroke-opacity="0.75"/>
<line x1="1092.20" y1="131.29" x2="1104.20" y2="131.29" stroke="#2080c0" stroke-width="1.0" stroke-opacity="0.75"/>
<line x1="1092.20" y1="155.29" x2="1104.20" y2="155.29" stroke="#2080c0" stroke-width="1.0" stroke-opacity="0.75"/>
<line x1="1100.40" y1="132.99" x2="1100.40" y2="156.99" stroke="#2080c0" stroke-width="1.0" stroke-opacity="0.75"/>
<line x1="1094.40" y1="132.99" x2="1106.40" y2="132.99" stroke="#2080c0" stroke-width="1.0" stroke-opacity="0.75"/>
<line x1="1094.40" y1="156.99" x2="1106.40" y2="156.99" stroke="#2080c0" stroke-width="1.0" stroke-opacity="0.75"/>
<line x1="1102.61" y1="133.07" x2="1102.61" y2="157.07" stroke="#2080c0" stroke-width="1.0" stroke-opacity="0.75"/>
<line x1="1096.61" y1="133.07" x2="1108.61" y2="133.07" stroke="#2080c0" stroke-width="1.0" stroke-opacity="0.75"/>
<line x1="1096.61" y1="157.07" x2="1108.61" y2="157.07" stroke="#2080c0" stroke-width="1.0" stroke-opacity="0.75"/>
<line x1="1104.82" y1="134.91" x2="1104.82" y2="158.91" stroke="#2080c0" stroke-width="1.0" stroke-opacity="0.75"/>
<line x1="1098.82" y1="134.91" x2="1110.82" y2="134.91" stroke="#2080c0" stroke-width="1.0" stroke-opacity="0.75"/>
<line x1="1098.82" y1="158.91" x2="1110.82" y2="158.91" stroke="#2080c0" stroke-width="1.0" stroke-opacity="0.75"/>
<line x1="1107.02" y1="133.07" x2="1107.02" y2="157.07" stroke="#2080c0" stroke-width="1.0" stroke-opacity="0.75"/>
<line x1="1101.02" y1="133.07" x2="1113.02" y2="133.07" stroke="#2080c0" stroke-width="1.0" stroke-opacity="0.75"/>
<line x1="1101.02" y1="157.07" x2="1113.02" y2="157.07" stroke="#2080c0" stroke-width="1.0" stroke-opacity="0.75"/>
<line x1="1109.23" y1="135.90" x2="1109.23" y2="159.90" stroke="#2080c0" stroke-width="1.0" stroke-opacity="0.75"/>
<line x1="1103.23" y1="135.90" x2="1115.23" y2="135.90" stroke="#2080c0" stroke-width="1.0" stroke-opacity="0.75"/>
<line x1="1103.23" y1="159.90" x2="1115.23" y2="159.90" stroke="#2080c0" stroke-width="1.0" stroke-opacity="0.75"/>
<line x1="1111.44" y1="134.92" x2="1111.44" y2="158.92" stroke="#2080c0" stroke-width="1.0" stroke-opacity="0.75"/>
<line x1="1105.44" y1="134.92" x2="1117.44" y2="134.92" stroke="#2080c0" stroke-width="1.0" stroke-opacity="0.75"/>
<line x1="1105.44" y1="158.92" x2="1117.44" y2="158.92" stroke="#2080c0" stroke-width="1.0" stroke-opacity="0.75"/>
<line x1="1113.64" y1="138.18" x2="1113.64" y2="162.18" stroke="#2080c0" stroke-width="1.0" stroke-opacity="0.75"/>
<line x1="1107.64" y1="138.18" x2="1119.64" y2="138.18" stroke="#2080c0" stroke-width="1.0" stroke-opacity="0.75"/>
<line x1="1107.64" y1="162.18" x2="1119.64" y2="162.18" stroke="#2080c0" stroke-width="1.0" stroke-opacity="0.75"/>
<line x1="1115.85" y1="138.69" x2="1115.85" y2="162.69" stroke="#2080c0" stroke-width="1.0" stroke-opacity="0.75"/>
<line x1="1109.85" y1="138.69" x2="1121.85" y2="138.69" stroke="#2080c0" stroke-width="1.0" stroke-opacity="0.75"/>
<line x1="1109.85" y1="162.69" x2="1121.85" y2="162.69" stroke="#2080c0" stroke-width="1.0" stroke-opacity="0.75"/>
<line x1="1118.06" y1="135.59" x2="1118.06" y2="159.59" stroke="#2080c0" stroke-width="1.0" stroke-opacity="0.75"/>
<line x1="1112.06" y1="135.59" x2="1124.06" y2="135.59" stroke="#2080c0" stroke-width="1.0" stroke-opacity="0.75"/>
<line x1="1112.06" y1="159.59" x2="1124.06" y2="159.59" stroke="#2080c0" stroke-width="1.0" stroke-opacity="0.75"/>
<line x1="1120.27" y1="136.58" x2="1120.27" y2="160.58" stroke="#2080c0" stroke-width="1.0" stroke-opacity="0.75"/>
<line x1="1114.27" y1="136.58" x2="1126.27" y2="136.58" stroke="#2080c0" stroke-width="1.0" stroke-opacity="0.75"/>
<line x1="1114.27" y1="160.58" x2="1126.27" y2="160.58" stroke="#2080c0" stroke-width="1.0" stroke-opacity="0.75"/>
<line x1="1122.47" y1="137.78" x2="1122.47" y2="161.78" stroke="#2080c0" stroke-width="1.0" stroke-opacity="0.75"/>
<line x1="1116.47" y1="137.78" x2="1128.47" y2="137.78" stroke="#2080c0" stroke-width="1.0" stroke-opacity="0.75"/>
<line x1="1116.47" y1="161.78" x2="1128.47" y2="161.78" stroke="#2080c0" stroke-width="1.0" stroke-opacity="0.75"/>
<line x1="1124.68" y1="142.33" x2="1124.68" y2="166.33" stroke="#2080c0" stroke-width="1.0" stroke-opacity="0.75"/>
<line x1="1118.68" y1="142.33" x2="1130.68" y2="142.33" stroke="#2080c0" stroke-width="1.0" stroke-opacity="0.75"/>
<line x1="1118.68" y1="166.33" x2="1130.68" y2="166.33" stroke="#2080c0" stroke-width="1.0" stroke-opacity="0.75"/>
<line x1="1126.89" y1="140.68" x2="1126.89" y2="164.68" stroke="#2080c0" stroke-width="1.0" stroke-opacity="0.75"/>
<line x1="1120.89" y1="140.68" x2="1132.89" y2="140.68" stroke="#2080c0" stroke-width="1.0" stroke-opacity="0.75"/>
<line x1="1120.89" y1="164.68" x2="1132.89" y2="164.68" stroke="#2080c0" stroke-width="1.0" stroke-opacity="0.75"/>
<line x1="1129.09" y1="142.63" x2="1129.09" y2="166.63" stroke="#2080c0" stroke-width="1.0" stroke-opacity="0.75"/>
<line x1="1123.09" y1="142.63" x2="1135.09" y2="142.63" stroke="#2080c0" stroke-width="1.0" stroke-opacity="0.75"/>
<line x1="1123.09" y1="166.63" x2="1135.09" y2="166.63" stroke="#2080c0" stroke-width="1.0" stroke-opacity="0.75"/>
<line x1="1131.30" y1="142.01" x2="1131.30" y2="166.01" stroke="#2080c0" stroke-width="1.0" stroke-opacity="0.75"/>
<line x1="1125.30" y1="142.01" x2="1137.30" y2="142.01" stroke="#2080c0" stroke-width="1.0" stroke-opacity="0.75"/>
<line x1="1125.30" y1="166.01" x2="1137.30" y2="166.01" stroke="#2080c0" stroke-width="1.0" stroke-opacity="0.75"/>
<line x1="1133.51" y1="144.04" x2="1133.51" y2="168.04" stroke="#2080c0" stroke-width="1.0" stroke-opacity="0.75"/>
<line x1="1127.51" y1="144.04" x2="1139.51" y2="144.04" stroke="#2080c0" stroke-width="1.0" stroke-opacity="0.75"/>
<line x1="1127.51" y1="168.04" x2="1139.51" y2="168.04" stroke="#2080c0" stroke-width="1.0" stroke-opacity="0.75"/>
<line x1="1135.72" y1="144.43" x2="1135.72" y2="168.43" stroke="#2080c0" stroke-width="1.0" stroke-opacity="0.75"/>
<line x1="1129.72" y1="144.43" x2="1141.72" y2="144.43" stroke="#2080c0" stroke-width="1.0" stroke-opacity="0.75"/>
<line x1="1129.72" y1="168.43" x2="1141.72" y2="168.43" stroke="#2080c0" stroke-width="1.0" stroke-opacity="0.75"/>
<line x1="1137.92" y1="145.25" x2="1137.92" y2="169.25" stroke="#2080c0" stroke-width="1.0" stroke-opacity="0.75"/>
<line x1="1131.92" y1="145.25" x2="1143.92" y2="145.25" stroke="#2080c0" stroke-width="1.0" stroke-opacity="0.75"/>
<line x1="1131.92" y1="169.25" x2="1143.92" y2="169.25" stroke="#2080c0" stroke-width="1.0" stroke-opacity="0.75"/>
<line x1="1140.13" y1="147.43" x2="1140.13" y2="171.43" stroke="#2080c0" stroke-width="1.0" stroke-opacity="0.75"/>
<line x1="1134.13" y1="147.43" x2="1146.13" y2="147.43" stroke="#2080c0" stroke-width="1.0" stroke-opacity="0.75"/>
<line x1="1134.13" y1="171.43" x2="1146.13" y2="171.43" stroke="#2080c0" stroke-width="1.0" stroke-opacity="0.75"/>
<line x1="1142.34" y1="148.42" x2="1142.34" y2="172.42" stroke="#2080c0" stroke-width="1.0" stroke-opacity="0.75"/>
<line x1="1136.34" y1="148.42" x2="1148.34" y2="148.42" stroke="#2080c0" stroke-width="1.0" stroke-opacity="0.75"/>
<line x1="1136.34" y1="172.42" x2="1148.34" y2="172.42" stroke="#2080c0" stroke-width="1.0" stroke-opacity="0.75"/>
<line x1="1144.54" y1="151.02" x2="1144.54" y2="175.02" stroke="#2080c0" stroke-width="1.0" stroke-opacity="0.75"/>
<line x1="1138.54" y1="151.02" x2="1150.54" y2="151.02" stroke="#2080c0" stroke-width="1.0" stroke-opacity="0.75"/>
<line x1="1138.54" y1="175.02" x2="1150.54" y2="175.02" stroke="#2080c0" stroke-width="1.0" stroke-opacity="0.75"/>
<line x1="1146.75" y1="150.91" x2="1146.75" y2="174.91" stroke="#2080c0" stroke-width="1.0" stroke-opacity="0.75"/>
<line x1="1140.75" y1="150.91" x2="1152.75" y2="150.91" stroke="#2080c0" stroke-width="1.0" stroke-opacity="0.75"/>
<line x1="1140.75" y1="174.91" x2="1152.75" y2="174.91" stroke="#2080c0" stroke-width="1.0" stroke-opacity="0.75"/>
<line x1="1148.96" y1="153.34" x2="1148.96" y2="177.34" stroke="#2080c0" stroke-width="1.0" stroke-opacity="0.75"/>
<line x1="1142.96" y1="153.34" x2="1154.96" y2="153.34" stroke="#2080c0" stroke-width="1.0" stroke-opacity="0.75"/>
<line x1="1142.96" y1="177.34" x2="1154.96" y2="177.34" stroke="#2080c0" stroke-width="1.0" stroke-opacity="0.75"/>
<line x1="1151.16" y1="154.18" x2="1151.16" y2="178.18" stroke="#2080c0" stroke-width="1.0" stroke-opacity="0.75"/>
<line x1="1145.16" y1="154.18" x2="1157.16" y2="154.18" stroke="#2080c0" stroke-width="1.0" stroke-opacity="0.75"/>
<line x1="1145.16" y1="178.18" x2="1157.16" y2="178.18" stroke="#2080c0" stroke-width="1.0" stroke-opacity="0.75"/>
<line x1="1153.37" y1="156.05" x2="1153.37" y2="180.05" stroke="#2080c0" stroke-width="1.0" stroke-opacity="0.75"/>
<line x1="1147.37" y1="156.05" x2="1159.37" y2="156.05" stroke="#2080c0" stroke-width="1.0" stroke-opacity="0.75"/>
<line x1="1147.37" y1="180.05" x2="1159.37" y2="180.05" stroke="#2080c0" stroke-width="1.0" stroke-opacity="0.75"/>
<line x1="1155.58" y1="155.66" x2="1155.58" y2="179.66" stroke="#2080c0" stroke-width="1.0" stroke-opacity="0.75"/>
<line x1="1149.58" y1="155.66" x2="1161.58" y2="155.66" stroke="#2080c0" stroke-width="1.0" stroke-opacity="0.75"/>
<line x1="1149.58" y1="179.66" x2="1161.58" y2="179.66" stroke="#2080c0" stroke-width="1.0" stroke-opacity="0.75"/>
<line x1="1157.79" y1="154.32" x2="1157.79" y2="178.32" stroke="#2080c0" stroke-width="1.0" stroke-opacity="0.75"/>
<line x1="1151.79" y1="154.32" x2="1163.79" y2="154.32" stroke="#2080c0" stroke-width="1.0" stroke-opacity="0.75"/>
<line x1="1151.79" y1="178.32" x2="1163.79" y2="178.32" stroke="#2080c0" stroke-width="1.0" stroke-opacity="0.75"/>
<line x1="1159.99" y1="159.40" x2="1159.99" y2="183.40" stroke="#2080c0" stroke-width="1.0" stroke-opacity="0.75"/>
<line x1="1153.99" y1="159.40" x2="1165.99" y2="159.40" stroke="#2080c0" stroke-width="1.0" stroke-opacity="0.75"/>
<line x1="1153.99" y1="183.40" x2="1165.99" y2="183.40" stroke="#2080c0" stroke-width="1.0" stroke-opacity="0.75"/>
<line x1="1162.20" y1="161.52" x2="1162.20" y2="185.52" stroke="#2080c0" stroke-width="1.0" stroke-opacity="0.75"/>
<line x1="1156.20" y1="161.52" x2="1168.20" y2="161.52" stroke="#2080c0" stroke-width="1.0" stroke-opacity="0.75"/>
<line x1="1156.20" y1="185.52" x2="1168.20" y2="185.52" stroke="#2080c0" stroke-width="1.0" stroke-opacity="0.75"/>
<line x1="1164.41" y1="162.82" x2="1164.41" y2="186.82" stroke="#2080c0" stroke-width="1.0" stroke-opacity="0.75"/>
<line x1="1158.41" y1="162.82" x2="1170.41" y2="162.82" stroke="#2080c0" stroke-width="1.0" stroke-opacity="0.75"/>
<line x1="1158.41" y1="186.82" x2="1170.41" y2="186.82" stroke="#2080c0" stroke-width="1.0" stroke-opacity="0.75"/>
<line x1="1166.61" y1="162.75" x2="1166.61" y2="186.75" stroke="#2080c0" stroke-width="1.0" stroke-opacity="0.75"/>
<line x1="1160.61" y1="162.75" x2="1172.61" y2="162.75" stroke="#2080c0" stroke-width="1.0" stroke-opacity="0.75"/>
<line x1="1160.61" y1="186.75" x2="1172.61" y2="186.75" stroke="#2080c0" stroke-width="1.0" stroke-opacity="0.75"/>
<line x1="1168.82" y1="165.07" x2="1168.82" y2="189.07" stroke="#2080c0" stroke-width="1.0" stroke-opacity="0.75"/>
<line x1="1162.82" y1="165.07" x2="1174.82" y2="165.07" stroke="#2080c0" stroke-width="1.0" stroke-opacity="0.75"/>
<line x1="1162.82" y1="189.07" x2="1174.82" y2="189.07" stroke="#2080c0" stroke-width="1.0" stroke-opacity="0.75"/>
<rect x="1031.40" y="119.69" width="10" height="10" fill="#cfe3f3" fill-opacity="0.5" stroke="#2080c0" stroke-width="1.2"/>
<rect x="1033.61" y="121.42" width="10" height="10" fill="#cfe3f3" fill-opacity="0.5" stroke="#2080c0" stroke-width="1.2"/>
<rect x="1035.81" y="120.75" width="10" height="10" fill="#cfe3f3" fill-opacity="0.5" stroke="#2080c0" stroke-width="1.2"/>
<rect x="1038.02" y="122.12" width="10" height="10" fill="#cfe3f3" fill-opacity="0.5" stroke="#2080c0" stroke-width="1.2"/>
<rect x="1040.23" y="122.43" width="10" height="10" fill="#cfe3f3" fill-opacity="0.5" stroke="#2080c0" stroke-width="1.2"/>
<rect x="1042.43" y="119.83" width="10" height="10" fill="#cfe3f3" fill-opacity="0.5" stroke="#2080c0" stroke-width="1.2"/>
<rect x="1044.64" y="119.97" width="10" height="10" fill="#cfe3f3" fill-opacity="0.5" stroke="#2080c0" stroke-width="1.2"/>
<rect x="1046.85" y="124.49" width="10" height="10" fill="#cfe3f3" fill-opacity="0.5" stroke="#2080c0" stroke-width="1.2"/>
<rect x="1049.06" y="122.00" width="10" height="10" fill="#cfe3f3" fill-opacity="0.5" stroke="#2080c0" stroke-width="1.2"/>
<rect x="1051.26" y="122.27" width="10" height="10" fill="#cfe3f3" fill-opacity="0.5" stroke="#2080c0" stroke-width="1.2"/>
<rect x="1053.47" y="126.48" width="10" height="10" fill="#cfe3f3" fill-opacity="0.5" stroke="#2080c0" stroke-width="1.2"/>
<rect x="1055.68" y="124.45" width="10" height="10" fill="#cfe3f3" fill-opacity="0.5" stroke="#2080c0" stroke-width="1.2"/>
<rect x="1057.88" y="126.88" width="10" height="10" fill="#cfe3f3" fill-opacity="0.5" stroke="#2080c0" stroke-width="1.2"/>
<rect x="1060.09" y="125.68" width="10" height="10" fill="#cfe3f3" fill-opacity="0.5" stroke="#2080c0" stroke-width="1.2"/>
<rect x="1062.30" y="127.10" width="10" height="10" fill="#cfe3f3" fill-opacity="0.5" stroke="#2080c0" stroke-width="1.2"/>
<rect x="1064.51" y="125.25" width="10" height="10" fill="#cfe3f3" fill-opacity="0.5" stroke="#2080c0" stroke-width="1.2"/>
<rect x="1066.71" y="128.37" width="10" height="10" fill="#cfe3f3" fill-opacity="0.5" stroke="#2080c0" stroke-width="1.2"/>
<rect x="1068.92" y="130.24" width="10" height="10" fill="#cfe3f3" fill-opacity="0.5" stroke="#2080c0" stroke-width="1.2"/>
<rect x="1071.13" y="129.22" width="10" height="10" fill="#cfe3f3" fill-opacity="0.5" stroke="#2080c0" stroke-width="1.2"/>
<rect x="1073.33" y="131.01" width="10" height="10" fill="#cfe3f3" fill-opacity="0.5" stroke="#2080c0" stroke-width="1.2"/>
<rect x="1075.54" y="131.36" width="10" height="10" fill="#cfe3f3" fill-opacity="0.5" stroke="#2080c0" stroke-width="1.2"/>
<rect x="1077.75" y="129.12" width="10" height="10" fill="#cfe3f3" fill-opacity="0.5" stroke="#2080c0" stroke-width="1.2"/>
<rect x="1079.95" y="133.39" width="10" height="10" fill="#cfe3f3" fill-opacity="0.5" stroke="#2080c0" stroke-width="1.2"/>
<rect x="1082.16" y="133.36" width="10" height="10" fill="#cfe3f3" fill-opacity="0.5" stroke="#2080c0" stroke-width="1.2"/>
<rect x="1084.37" y="132.71" width="10" height="10" fill="#cfe3f3" fill-opacity="0.5" stroke="#2080c0" stroke-width="1.2"/>
<rect x="1086.58" y="132.16" width="10" height="10" fill="#cfe3f3" fill-opacity="0.5" stroke="#2080c0" stroke-width="1.2"/>
<rect x="1088.78" y="137.23" width="10" height="10" fill="#cfe3f3" fill-opacity="0.5" stroke="#2080c0" stroke-width="1.2"/>
<rect x="1090.99" y="136.16" width="10" height="10" fill="#cfe3f3" fill-opacity="0.5" stroke="#2080c0" stroke-width="1.2"/>
<rect x="1093.20" y="138.29" width="10" height="10" fill="#cfe3f3" fill-opacity="0.5" stroke="#2080c0" stroke-width="1.2"/>
<rect x="1095.40" y="139.99" width="10" height="10" fill="#cfe3f3" fill-opacity="0.5" stroke="#2080c0" stroke-width="1.2"/>
<rect x="1097.61" y="140.07" width="10" height="10" fill="#cfe3f3" fill-opacity="0.5" stroke="#2080c0" stroke-width="1.2"/>
<rect x="1099.82" y="141.91" width="10" height="10" fill="#cfe3f3" fill-opacity="0.5" stroke="#2080c0" stroke-width="1.2"/>
<rect x="1102.02" y="140.07" width="10" height="10" fill="#cfe3f3" fill-opacity="0.5" stroke="#2080c0" stroke-width="1.2"/>
<rect x="1104.23" y="142.90" width="10" height="10" fill="#cfe3f3" fill-opacity="0.5" stroke="#2080c0" stroke-width="1.2"/>
<rect x="1106.44" y="141.92" width="10" height="10" fill="#cfe3f3" fill-opacity="0.5" stroke="#2080c0" stroke-width="1.2"/>
<rect x="1108.64" y="145.18" width="10" height="10" fill="#cfe3f3" fill-opacity="0.5" stroke="#2080c0" stroke-width="1.2"/>
<rect x="1110.85" y="145.69" width="10" height="10" fill="#cfe3f3" fill-opacity="0.5" stroke="#2080c0" stroke-width="1.2"/>
<rect x="1113.06" y="142.59" width="10" height="10" fill="#cfe3f3" fill-opacity="0.5" stroke="#2080c0" stroke-width="1.2"/>
<rect x="1115.27" y="143.58" width="10" height="10" fill="#cfe3f3" fill-opacity="0.5" stroke="#2080c0" stroke-width="1.2"/>
<rect x="1117.47" y="144.78" width="10" height="10" fill="#cfe3f3" fill-opacity="0.5" stroke="#2080c0" stroke-width="1.2"/>
<rect x="1119.68" y="149.33" width="10" height="10" fill="#cfe3f3" fill-opacity="0.5" stroke="#2080c0" stroke-width="1.2"/>
<rect x="1121.89" y="147.68" width="10" height="10" fill="#cfe3f3" fill-opacity="0.5" stroke="#2080c0" stroke-width="1.2"/>
<rect x="1124.09" y="149.63" width="10" height="10" fill="#cfe3f3" fill-opacity="0.5" stroke="#2080c0" stroke-width="1.2"/>
<rect x="1126.30" y="149.01" width="10" height="10" fill="#cfe3f3" fill-opacity="0.5" stroke="#2080c0" stroke-width="1.2"/>
<rect x="1128.51" y="151.04" width="10" height="10" fill="#cfe3f3" fill-opacity="0.5" stroke="#2080c0" stroke-width="1.2"/>
<rect x="1130.72" y="151.43" width="10" height="10" fill="#cfe3f3" fill-opacity="0.5" stroke="#2080c0" stroke-width="1.2"/>
<rect x="1132.92" y="152.25" width="10" height="10" fill="#cfe3f3" fill-opacity="0.5" stroke="#2080c0" stroke-width="1.2"/>
<rect x="1135.13" y="154.43" width="10" height="10" fill="#cfe3f3" fill-opacity="0.5" stroke="#2080c0" stroke-width="1.2"/>
<rect x="1137.34" y="155.42" width="10" height="10" fill="#cfe3f3" fill-opacity="0.5" stroke="#2080c0" stroke-width="1.2"/>
<rect x="1139.54" y="158.02" width="10" height="10" fill="#cfe3f3" fill-opacity="0.5" stroke="#2080c0" stroke-width="1.2"/>
<rect x="1141.75" y="157.91" width="10" height="10" fill="#cfe3f3" fill-opacity="0.5" stroke="#2080c0" stroke-width="1.2"/>
<rect x="1143.96" y="160.34" width="10" height="10" fill="#cfe3f3" fill-opacity="0.5" stroke="#2080c0" stroke-width="1.2"/>
<rect x="1146.16" y="161.18" width="10" height="10" fill="#cfe3f3" fill-opacity="0.5" stroke="#2080c0" stroke-width="1.2"/>
<rect x="1148.37" y="163.05" width="10" height="10" fill="#cfe3f3" fill-opacity="0.5" stroke="#2080c0" stroke-width="1.2"/>
<rect x="1150.58" y="162.66" width="10" height="10" fill="#cfe3f3" fill-opacity="0.5" stroke="#2080c0" stroke-width="1.2"/>
<rect x="1152.79" y="161.32" width="10" height="10" fill="#cfe3f3" fill-opacity="0.5" stroke="#2080c0" stroke-width="1.2"/>
<rect x="1154.99" y="166.40" width="10" height="10" fill="#cfe3f3" fill-opacity="0.5" stroke="#2080c0" stroke-width="1.2"/>
<rect x="1157.20" y="168.52" width="10" height="10" fill="#cfe3f3" fill-opacity="0.5" stroke="#2080c0" stroke-width="1.2"/>
<rect x="1159.41" y="169.82" width="10" height="10" fill="#cfe3f3" fill-opacity="0.5" stroke="#2080c0" stroke-width="1.2"/>
<rect x="1161.61" y="169.75" width="10" height="10" fill="#cfe3f3" fill-opacity="0.5" stroke="#2080c0" stroke-width="1.2"/>
<rect x="1163.82" y="172.07" width="10" height="10" fill="#cfe3f3" fill-opacity="0.5" stroke="#2080c0" stroke-width="1.2"/>
</g>
<rect x="760.60" y="71.50" width="585.20" height="131.50" stroke="#000" stroke-width="2.8" fill="none"/>
<line x1="815.70" y1="203.00" x2="815.70" y2="189.50" stroke="#000" stroke-width="2.8"/>
<line x1="815.70" y1="71.50" x2="815.70" y2="85.00" stroke="#000" stroke-width="2.8"/>
<line x1="870.88" y1="203.00" x2="870.88" y2="196.00" stroke="#000" stroke-width="2.8"/>
<line x1="870.88" y1="71.50" x2="870.88" y2="78.50" stroke="#000" stroke-width="2.8"/>
<line x1="926.05" y1="203.00" x2="926.05" y2="189.50" stroke="#000" stroke-width="2.8"/>
<line x1="926.05" y1="71.50" x2="926.05" y2="85.00" stroke="#000" stroke-width="2.8"/>
<line x1="981.23" y1="203.00" x2="981.23" y2="196.00" stroke="#000" stroke-width="2.8"/>
<line x1="981.23" y1="71.50" x2="981.23" y2="78.50" stroke="#000" stroke-width="2.8"/>
<line x1="1036.40" y1="203.00" x2="1036.40" y2="189.50" stroke="#000" stroke-width="2.8"/>
<line x1="1036.40" y1="71.50" x2="1036.40" y2="85.00" stroke="#000" stroke-width="2.8"/>
<line x1="1091.58" y1="203.00" x2="1091.58" y2="196.00" stroke="#000" stroke-width="2.8"/>
<line x1="1091.58" y1="71.50" x2="1091.58" y2="78.50" stroke="#000" stroke-width="2.8"/>
<line x1="1146.75" y1="203.00" x2="1146.75" y2="189.50" stroke="#000" stroke-width="2.8"/>
<line x1="1146.75" y1="71.50" x2="1146.75" y2="85.00" stroke="#000" stroke-width="2.8"/>
<line x1="1201.92" y1="203.00" x2="1201.92" y2="196.00" stroke="#000" stroke-width="2.8"/>
<line x1="1201.92" y1="71.50" x2="1201.92" y2="78.50" stroke="#000" stroke-width="2.8"/>
<line x1="1257.10" y1="203.00" x2="1257.10" y2="189.50" stroke="#000" stroke-width="2.8"/>
<line x1="1257.10" y1="71.50" x2="1257.10" y2="85.00" stroke="#000" stroke-width="2.8"/>
<line x1="1312.28" y1="203.00" x2="1312.28" y2="196.00" stroke="#000" stroke-width="2.8"/>
<line x1="1312.28" y1="71.50" x2="1312.28" y2="78.50" stroke="#000" stroke-width="2.8"/>
<line x1="760.60" y1="182.40" x2="767.60" y2="182.40" stroke="#000" stroke-width="2.8"/>
<line x1="1345.80" y1="182.40" x2="1338.80" y2="182.40" stroke="#000" stroke-width="2.8"/>
<line x1="760.60" y1="161.80" x2="774.10" y2="161.80" stroke="#000" stroke-width="2.8"/>
<line x1="1345.80" y1="161.80" x2="1332.30" y2="161.80" stroke="#000" stroke-width="2.8"/>
<line x1="760.60" y1="141.20" x2="767.60" y2="141.20" stroke="#000" stroke-width="2.8"/>
<line x1="1345.80" y1="141.20" x2="1338.80" y2="141.20" stroke="#000" stroke-width="2.8"/>
<line x1="760.60" y1="120.60" x2="774.10" y2="120.60" stroke="#000" stroke-width="2.8"/>
<line x1="1345.80" y1="120.60" x2="1332.30" y2="120.60" stroke="#000" stroke-width="2.8"/>
<line x1="760.60" y1="100.00" x2="767.60" y2="100.00" stroke="#000" stroke-width="2.8"/>
<line x1="1345.80" y1="100.00" x2="1338.80" y2="100.00" stroke="#000" stroke-width="2.8"/>
<line x1="760.60" y1="79.40" x2="774.10" y2="79.40" stroke="#000" stroke-width="2.8"/>
<line x1="1345.80" y1="79.40" x2="1332.30" y2="79.40" stroke="#000" stroke-width="2.8"/>
<g clip-path="url(#sp1)">
<path d="M760.60,284.20 C766.07,285.38 780.50,289.75 793.40,291.30 C806.30,292.85 825.00,293.68 838.00,293.50 C851.00,293.32 860.27,291.87 871.40,290.20 C882.53,288.53 893.67,286.28 904.80,283.50 C915.93,280.72 927.07,277.58 938.20,273.50 C949.33,269.42 960.47,264.02 971.60,259.00 C982.73,253.98 995.72,247.12 1005.00,243.40 C1014.28,239.68 1020.75,238.67 1027.30,236.70 C1033.85,234.73 1037.42,232.98 1044.30,231.60 C1051.18,230.22 1060.52,228.73 1068.60,228.40 C1076.68,228.07 1084.72,228.67 1092.80,229.60 C1100.88,230.53 1109.00,231.45 1117.10,234.00 C1125.20,236.55 1133.30,241.47 1141.40,244.90 C1149.50,248.33 1157.60,251.17 1165.70,254.60 C1173.80,258.03 1181.92,262.05 1190.00,265.50 C1198.08,268.95 1206.12,272.05 1214.20,275.30 C1222.28,278.55 1230.40,281.77 1238.50,285.00 C1246.60,288.23 1254.72,291.87 1262.80,294.70 C1270.88,297.53 1278.92,299.98 1287.00,302.00 C1295.08,304.02 1301.60,305.27 1311.30,306.80 C1321.00,308.33 1339.55,310.47 1345.20,311.20" fill="none" stroke="#189b7a" stroke-width="2.0" stroke-linejoin="round" stroke-linecap="round"/>
<line x1="1036.40" y1="249.84" x2="1036.40" y2="295.84" stroke="#189b7a" stroke-width="1.0" stroke-opacity="0.75"/>
<line x1="1030.40" y1="249.84" x2="1042.40" y2="249.84" stroke="#189b7a" stroke-width="1.0" stroke-opacity="0.75"/>
<line x1="1030.40" y1="295.84" x2="1042.40" y2="295.84" stroke="#189b7a" stroke-width="1.0" stroke-opacity="0.75"/>
<line x1="1038.61" y1="251.13" x2="1038.61" y2="297.13" stroke="#189b7a" stroke-width="1.0" stroke-opacity="0.75"/>
<line x1="1032.61" y1="251.13" x2="1044.61" y2="251.13" stroke="#189b7a" stroke-width="1.0" stroke-opacity="0.75"/>
<line x1="1032.61" y1="297.13" x2="1044.61" y2="297.13" stroke="#189b7a" stroke-width="1.0" stroke-opacity="0.75"/>
<line x1="1040.81" y1="248.89" x2="1040.81" y2="294.89" stroke="#189b7a" stroke-width="1.0" stroke-opacity="0.75"/>
<line x1="1034.81" y1="248.89" x2="1046.81" y2="248.89" stroke="#189b7a" stroke-width="1.0" stroke-opacity="0.75"/>
<line x1="1034.81" y1="294.89" x2="1046.81" y2="294.89" stroke="#189b7a" stroke-width="1.0" stroke-opacity="0.75"/>
<line x1="1043.02" y1="246.54" x2="1043.02" y2="292.54" stroke="#189b7a" stroke-width="1.0" stroke-opacity="0.75"/>
<line x1="1037.02" y1="246.54" x2="1049.02" y2="246.54" stroke="#189b7a" stroke-width="1.0" stroke-opacity="0.75"/>
<line x1="1037.02" y1="292.54" x2="1049.02" y2="292.54" stroke="#189b7a" stroke-width="1.0" stroke-opacity="0.75"/>
<line x1="1045.23" y1="244.45" x2="1045.23" y2="290.45" stroke="#189b7a" stroke-width="1.0" stroke-opacity="0.75"/>
<line x1="1039.23" y1="244.45" x2="1051.23" y2="244.45" stroke="#189b7a" stroke-width="1.0" stroke-opacity="0.75"/>
<line x1="1039.23" y1="290.45" x2="1051.23" y2="290.45" stroke="#189b7a" stroke-width="1.0" stroke-opacity="0.75"/>
<line x1="1047.43" y1="246.42" x2="1047.43" y2="292.42" stroke="#189b7a" stroke-width="1.0" stroke-opacity="0.75"/>
<line x1="1041.43" y1="246.42" x2="1053.43" y2="246.42" stroke="#189b7a" stroke-width="1.0" stroke-opacity="0.75"/>
<line x1="1041.43" y1="292.42" x2="1053.43" y2="292.42" stroke="#189b7a" stroke-width="1.0" stroke-opacity="0.75"/>
<line x1="1049.64" y1="247.16" x2="1049.64" y2="293.16" stroke="#189b7a" stroke-width="1.0" stroke-opacity="0.75"/>
<line x1="1043.64" y1="247.16" x2="1055.64" y2="247.16" stroke="#189b7a" stroke-width="1.0" stroke-opacity="0.75"/>
<line x1="1043.64" y1="293.16" x2="1055.64" y2="293.16" stroke="#189b7a" stroke-width="1.0" stroke-opacity="0.75"/>
<line x1="1051.85" y1="243.75" x2="1051.85" y2="289.75" stroke="#189b7a" stroke-width="1.0" stroke-opacity="0.75"/>
<line x1="1045.85" y1="243.75" x2="1057.85" y2="243.75" stroke="#189b7a" stroke-width="1.0" stroke-opacity="0.75"/>
<line x1="1045.85" y1="289.75" x2="1057.85" y2="289.75" stroke="#189b7a" stroke-width="1.0" stroke-opacity="0.75"/>
<line x1="1054.06" y1="246.80" x2="1054.06" y2="292.80" stroke="#189b7a" stroke-width="1.0" stroke-opacity="0.75"/>
<line x1="1048.06" y1="246.80" x2="1060.06" y2="246.80" stroke="#189b7a" stroke-width="1.0" stroke-opacity="0.75"/>
<line x1="1048.06" y1="292.80" x2="1060.06" y2="292.80" stroke="#189b7a" stroke-width="1.0" stroke-opacity="0.75"/>
<line x1="1056.26" y1="245.44" x2="1056.26" y2="291.44" stroke="#189b7a" stroke-width="1.0" stroke-opacity="0.75"/>
<line x1="1050.26" y1="245.44" x2="1062.26" y2="245.44" stroke="#189b7a" stroke-width="1.0" stroke-opacity="0.75"/>
<line x1="1050.26" y1="291.44" x2="1062.26" y2="291.44" stroke="#189b7a" stroke-width="1.0" stroke-opacity="0.75"/>
<line x1="1058.47" y1="244.60" x2="1058.47" y2="290.60" stroke="#189b7a" stroke-width="1.0" stroke-opacity="0.75"/>
<line x1="1052.47" y1="244.60" x2="1064.47" y2="244.60" stroke="#189b7a" stroke-width="1.0" stroke-opacity="0.75"/>
<line x1="1052.47" y1="290.60" x2="1064.47" y2="290.60" stroke="#189b7a" stroke-width="1.0" stroke-opacity="0.75"/>
<line x1="1060.68" y1="242.98" x2="1060.68" y2="288.98" stroke="#189b7a" stroke-width="1.0" stroke-opacity="0.75"/>
<line x1="1054.68" y1="242.98" x2="1066.68" y2="242.98" stroke="#189b7a" stroke-width="1.0" stroke-opacity="0.75"/>
<line x1="1054.68" y1="288.98" x2="1066.68" y2="288.98" stroke="#189b7a" stroke-width="1.0" stroke-opacity="0.75"/>
<line x1="1062.88" y1="242.68" x2="1062.88" y2="288.68" stroke="#189b7a" stroke-width="1.0" stroke-opacity="0.75"/>
<line x1="1056.88" y1="242.68" x2="1068.88" y2="242.68" stroke="#189b7a" stroke-width="1.0" stroke-opacity="0.75"/>
<line x1="1056.88" y1="288.68" x2="1068.88" y2="288.68" stroke="#189b7a" stroke-width="1.0" stroke-opacity="0.75"/>
<line x1="1065.09" y1="240.89" x2="1065.09" y2="286.89" stroke="#189b7a" stroke-width="1.0" stroke-opacity="0.75"/>
<line x1="1059.09" y1="240.89" x2="1071.09" y2="240.89" stroke="#189b7a" stroke-width="1.0" stroke-opacity="0.75"/>
<line x1="1059.09" y1="286.89" x2="1071.09" y2="286.89" stroke="#189b7a" stroke-width="1.0" stroke-opacity="0.75"/>
<line x1="1067.30" y1="235.38" x2="1067.30" y2="281.38" stroke="#189b7a" stroke-width="1.0" stroke-opacity="0.75"/>
<line x1="1061.30" y1="235.38" x2="1073.30" y2="235.38" stroke="#189b7a" stroke-width="1.0" stroke-opacity="0.75"/>
<line x1="1061.30" y1="281.38" x2="1073.30" y2="281.38" stroke="#189b7a" stroke-width="1.0" stroke-opacity="0.75"/>
<line x1="1069.51" y1="235.46" x2="1069.51" y2="281.46" stroke="#189b7a" stroke-width="1.0" stroke-opacity="0.75"/>
<line x1="1063.51" y1="235.46" x2="1075.51" y2="235.46" stroke="#189b7a" stroke-width="1.0" stroke-opacity="0.75"/>
<line x1="1063.51" y1="281.46" x2="1075.51" y2="281.46" stroke="#189b7a" stroke-width="1.0" stroke-opacity="0.75"/>
<line x1="1071.71" y1="232.98" x2="1071.71" y2="278.98" stroke="#189b7a" stroke-width="1.0" stroke-opacity="0.75"/>
<line x1="1065.71" y1="232.98" x2="1077.71" y2="232.98" stroke="#189b7a" stroke-width="1.0" stroke-opacity="0.75"/>
<line x1="1065.71" y1="278.98" x2="1077.71" y2="278.98" stroke="#189b7a" stroke-width="1.0" stroke-opacity="0.75"/>
<line x1="1073.92" y1="235.47" x2="1073.92" y2="281.47" stroke="#189b7a" stroke-width="1.0" stroke-opacity="0.75"/>
<line x1="1067.92" y1="235.47" x2="1079.92" y2="235.47" stroke="#189b7a" stroke-width="1.0" stroke-opacity="0.75"/>
<line x1="1067.92" y1="281.47" x2="1079.92" y2="281.47" stroke="#189b7a" stroke-width="1.0" stroke-opacity="0.75"/>
<line x1="1076.13" y1="233.72" x2="1076.13" y2="279.72" stroke="#189b7a" stroke-width="1.0" stroke-opacity="0.75"/>
<line x1="1070.13" y1="233.72" x2="1082.13" y2="233.72" stroke="#189b7a" stroke-width="1.0" stroke-opacity="0.75"/>
<line x1="1070.13" y1="279.72" x2="1082.13" y2="279.72" stroke="#189b7a" stroke-width="1.0" stroke-opacity="0.75"/>
<line x1="1078.33" y1="235.72" x2="1078.33" y2="281.72" stroke="#189b7a" stroke-width="1.0" stroke-opacity="0.75"/>
<line x1="1072.33" y1="235.72" x2="1084.33" y2="235.72" stroke="#189b7a" stroke-width="1.0" stroke-opacity="0.75"/>
<line x1="1072.33" y1="281.72" x2="1084.33" y2="281.72" stroke="#189b7a" stroke-width="1.0" stroke-opacity="0.75"/>
<line x1="1080.54" y1="235.92" x2="1080.54" y2="281.92" stroke="#189b7a" stroke-width="1.0" stroke-opacity="0.75"/>
<line x1="1074.54" y1="235.92" x2="1086.54" y2="235.92" stroke="#189b7a" stroke-width="1.0" stroke-opacity="0.75"/>
<line x1="1074.54" y1="281.92" x2="1086.54" y2="281.92" stroke="#189b7a" stroke-width="1.0" stroke-opacity="0.75"/>
<line x1="1082.75" y1="234.02" x2="1082.75" y2="280.02" stroke="#189b7a" stroke-width="1.0" stroke-opacity="0.75"/>
<line x1="1076.75" y1="234.02" x2="1088.75" y2="234.02" stroke="#189b7a" stroke-width="1.0" stroke-opacity="0.75"/>
<line x1="1076.75" y1="280.02" x2="1088.75" y2="280.02" stroke="#189b7a" stroke-width="1.0" stroke-opacity="0.75"/>
<line x1="1084.95" y1="235.99" x2="1084.95" y2="281.99" stroke="#189b7a" stroke-width="1.0" stroke-opacity="0.75"/>
<line x1="1078.95" y1="235.99" x2="1090.95" y2="235.99" stroke="#189b7a" stroke-width="1.0" stroke-opacity="0.75"/>
<line x1="1078.95" y1="281.99" x2="1090.95" y2="281.99" stroke="#189b7a" stroke-width="1.0" stroke-opacity="0.75"/>
<line x1="1087.16" y1="233.24" x2="1087.16" y2="279.24" stroke="#189b7a" stroke-width="1.0" stroke-opacity="0.75"/>
<line x1="1081.16" y1="233.24" x2="1093.16" y2="233.24" stroke="#189b7a" stroke-width="1.0" stroke-opacity="0.75"/>
<line x1="1081.16" y1="279.24" x2="1093.16" y2="279.24" stroke="#189b7a" stroke-width="1.0" stroke-opacity="0.75"/>
<line x1="1089.37" y1="232.31" x2="1089.37" y2="278.31" stroke="#189b7a" stroke-width="1.0" stroke-opacity="0.75"/>
<line x1="1083.37" y1="232.31" x2="1095.37" y2="232.31" stroke="#189b7a" stroke-width="1.0" stroke-opacity="0.75"/>
<line x1="1083.37" y1="278.31" x2="1095.37" y2="278.31" stroke="#189b7a" stroke-width="1.0" stroke-opacity="0.75"/>
<line x1="1091.58" y1="234.40" x2="1091.58" y2="280.40" stroke="#189b7a" stroke-width="1.0" stroke-opacity="0.75"/>
<line x1="1085.58" y1="234.40" x2="1097.58" y2="234.40" stroke="#189b7a" stroke-width="1.0" stroke-opacity="0.75"/>
<line x1="1085.58" y1="280.40" x2="1097.58" y2="280.40" stroke="#189b7a" stroke-width="1.0" stroke-opacity="0.75"/>
<line x1="1093.78" y1="232.13" x2="1093.78" y2="278.13" stroke="#189b7a" stroke-width="1.0" stroke-opacity="0.75"/>
<line x1="1087.78" y1="232.13" x2="1099.78" y2="232.13" stroke="#189b7a" stroke-width="1.0" stroke-opacity="0.75"/>
<line x1="1087.78" y1="278.13" x2="1099.78" y2="278.13" stroke="#189b7a" stroke-width="1.0" stroke-opacity="0.75"/>
<line x1="1095.99" y1="232.79" x2="1095.99" y2="278.79" stroke="#189b7a" stroke-width="1.0" stroke-opacity="0.75"/>
<line x1="1089.99" y1="232.79" x2="1101.99" y2="232.79" stroke="#189b7a" stroke-width="1.0" stroke-opacity="0.75"/>
<line x1="1089.99" y1="278.79" x2="1101.99" y2="278.79" stroke="#189b7a" stroke-width="1.0" stroke-opacity="0.75"/>
<line x1="1098.20" y1="233.63" x2="1098.20" y2="279.63" stroke="#189b7a" stroke-width="1.0" stroke-opacity="0.75"/>
<line x1="1092.20" y1="233.63" x2="1104.20" y2="233.63" stroke="#189b7a" stroke-width="1.0" stroke-opacity="0.75"/>
<line x1="1092.20" y1="279.63" x2="1104.20" y2="279.63" stroke="#189b7a" stroke-width="1.0" stroke-opacity="0.75"/>
<line x1="1100.40" y1="234.44" x2="1100.40" y2="280.44" stroke="#189b7a" stroke-width="1.0" stroke-opacity="0.75"/>
<line x1="1094.40" y1="234.44" x2="1106.40" y2="234.44" stroke="#189b7a" stroke-width="1.0" stroke-opacity="0.75"/>
<line x1="1094.40" y1="280.44" x2="1106.40" y2="280.44" stroke="#189b7a" stroke-width="1.0" stroke-opacity="0.75"/>
<line x1="1102.61" y1="232.62" x2="1102.61" y2="278.62" stroke="#189b7a" stroke-width="1.0" stroke-opacity="0.75"/>
<line x1="1096.61" y1="232.62" x2="1108.61" y2="232.62" stroke="#189b7a" stroke-width="1.0" stroke-opacity="0.75"/>
<line x1="1096.61" y1="278.62" x2="1108.61" y2="278.62" stroke="#189b7a" stroke-width="1.0" stroke-opacity="0.75"/>
<line x1="1104.82" y1="231.17" x2="1104.82" y2="277.17" stroke="#189b7a" stroke-width="1.0" stroke-opacity="0.75"/>
<line x1="1098.82" y1="231.17" x2="1110.82" y2="231.17" stroke="#189b7a" stroke-width="1.0" stroke-opacity="0.75"/>
<line x1="1098.82" y1="277.17" x2="1110.82" y2="277.17" stroke="#189b7a" stroke-width="1.0" stroke-opacity="0.75"/>
<line x1="1107.02" y1="233.47" x2="1107.02" y2="279.47" stroke="#189b7a" stroke-width="1.0" stroke-opacity="0.75"/>
<line x1="1101.02" y1="233.47" x2="1113.02" y2="233.47" stroke="#189b7a" stroke-width="1.0" stroke-opacity="0.75"/>
<line x1="1101.02" y1="279.47" x2="1113.02" y2="279.47" stroke="#189b7a" stroke-width="1.0" stroke-opacity="0.75"/>
<line x1="1109.23" y1="230.26" x2="1109.23" y2="276.26" stroke="#189b7a" stroke-width="1.0" stroke-opacity="0.75"/>
<line x1="1103.23" y1="230.26" x2="1115.23" y2="230.26" stroke="#189b7a" stroke-width="1.0" stroke-opacity="0.75"/>
<line x1="1103.23" y1="276.26" x2="1115.23" y2="276.26" stroke="#189b7a" stroke-width="1.0" stroke-opacity="0.75"/>
<line x1="1111.44" y1="231.83" x2="1111.44" y2="277.83" stroke="#189b7a" stroke-width="1.0" stroke-opacity="0.75"/>
<line x1="1105.44" y1="231.83" x2="1117.44" y2="231.83" stroke="#189b7a" stroke-width="1.0" stroke-opacity="0.75"/>
<line x1="1105.44" y1="277.83" x2="1117.44" y2="277.83" stroke="#189b7a" stroke-width="1.0" stroke-opacity="0.75"/>
<line x1="1113.64" y1="230.59" x2="1113.64" y2="276.59" stroke="#189b7a" stroke-width="1.0" stroke-opacity="0.75"/>
<line x1="1107.64" y1="230.59" x2="1119.64" y2="230.59" stroke="#189b7a" stroke-width="1.0" stroke-opacity="0.75"/>
<line x1="1107.64" y1="276.59" x2="1119.64" y2="276.59" stroke="#189b7a" stroke-width="1.0" stroke-opacity="0.75"/>
<line x1="1115.85" y1="227.51" x2="1115.85" y2="273.51" stroke="#189b7a" stroke-width="1.0" stroke-opacity="0.75"/>
<line x1="1109.85" y1="227.51" x2="1121.85" y2="227.51" stroke="#189b7a" stroke-width="1.0" stroke-opacity="0.75"/>
<line x1="1109.85" y1="273.51" x2="1121.85" y2="273.51" stroke="#189b7a" stroke-width="1.0" stroke-opacity="0.75"/>
<line x1="1118.06" y1="226.84" x2="1118.06" y2="272.84" stroke="#189b7a" stroke-width="1.0" stroke-opacity="0.75"/>
<line x1="1112.06" y1="226.84" x2="1124.06" y2="226.84" stroke="#189b7a" stroke-width="1.0" stroke-opacity="0.75"/>
<line x1="1112.06" y1="272.84" x2="1124.06" y2="272.84" stroke="#189b7a" stroke-width="1.0" stroke-opacity="0.75"/>
<line x1="1120.27" y1="226.08" x2="1120.27" y2="272.08" stroke="#189b7a" stroke-width="1.0" stroke-opacity="0.75"/>
<line x1="1114.27" y1="226.08" x2="1126.27" y2="226.08" stroke="#189b7a" stroke-width="1.0" stroke-opacity="0.75"/>
<line x1="1114.27" y1="272.08" x2="1126.27" y2="272.08" stroke="#189b7a" stroke-width="1.0" stroke-opacity="0.75"/>
<line x1="1122.47" y1="225.58" x2="1122.47" y2="271.58" stroke="#189b7a" stroke-width="1.0" stroke-opacity="0.75"/>
<line x1="1116.47" y1="225.58" x2="1128.47" y2="225.58" stroke="#189b7a" stroke-width="1.0" stroke-opacity="0.75"/>
<line x1="1116.47" y1="271.58" x2="1128.47" y2="271.58" stroke="#189b7a" stroke-width="1.0" stroke-opacity="0.75"/>
<line x1="1124.68" y1="224.38" x2="1124.68" y2="270.38" stroke="#189b7a" stroke-width="1.0" stroke-opacity="0.75"/>
<line x1="1118.68" y1="224.38" x2="1130.68" y2="224.38" stroke="#189b7a" stroke-width="1.0" stroke-opacity="0.75"/>
<line x1="1118.68" y1="270.38" x2="1130.68" y2="270.38" stroke="#189b7a" stroke-width="1.0" stroke-opacity="0.75"/>
<line x1="1126.89" y1="223.84" x2="1126.89" y2="269.84" stroke="#189b7a" stroke-width="1.0" stroke-opacity="0.75"/>
<line x1="1120.89" y1="223.84" x2="1132.89" y2="223.84" stroke="#189b7a" stroke-width="1.0" stroke-opacity="0.75"/>
<line x1="1120.89" y1="269.84" x2="1132.89" y2="269.84" stroke="#189b7a" stroke-width="1.0" stroke-opacity="0.75"/>
<line x1="1129.09" y1="223.68" x2="1129.09" y2="269.68" stroke="#189b7a" stroke-width="1.0" stroke-opacity="0.75"/>
<line x1="1123.09" y1="223.68" x2="1135.09" y2="223.68" stroke="#189b7a" stroke-width="1.0" stroke-opacity="0.75"/>
<line x1="1123.09" y1="269.68" x2="1135.09" y2="269.68" stroke="#189b7a" stroke-width="1.0" stroke-opacity="0.75"/>
<line x1="1131.30" y1="224.56" x2="1131.30" y2="270.56" stroke="#189b7a" stroke-width="1.0" stroke-opacity="0.75"/>
<line x1="1125.30" y1="224.56" x2="1137.30" y2="224.56" stroke="#189b7a" stroke-width="1.0" stroke-opacity="0.75"/>
<line x1="1125.30" y1="270.56" x2="1137.30" y2="270.56" stroke="#189b7a" stroke-width="1.0" stroke-opacity="0.75"/>
<line x1="1133.51" y1="222.43" x2="1133.51" y2="268.43" stroke="#189b7a" stroke-width="1.0" stroke-opacity="0.75"/>
<line x1="1127.51" y1="222.43" x2="1139.51" y2="222.43" stroke="#189b7a" stroke-width="1.0" stroke-opacity="0.75"/>
<line x1="1127.51" y1="268.43" x2="1139.51" y2="268.43" stroke="#189b7a" stroke-width="1.0" stroke-opacity="0.75"/>
<line x1="1135.72" y1="221.72" x2="1135.72" y2="267.72" stroke="#189b7a" stroke-width="1.0" stroke-opacity="0.75"/>
<line x1="1129.72" y1="221.72" x2="1141.72" y2="221.72" stroke="#189b7a" stroke-width="1.0" stroke-opacity="0.75"/>
<line x1="1129.72" y1="267.72" x2="1141.72" y2="267.72" stroke="#189b7a" stroke-width="1.0" stroke-opacity="0.75"/>
<line x1="1137.92" y1="224.08" x2="1137.92" y2="270.08" stroke="#189b7a" stroke-width="1.0" stroke-opacity="0.75"/>
<line x1="1131.92" y1="224.08" x2="1143.92" y2="224.08" stroke="#189b7a" stroke-width="1.0" stroke-opacity="0.75"/>
<line x1="1131.92" y1="270.08" x2="1143.92" y2="270.08" stroke="#189b7a" stroke-width="1.0" stroke-opacity="0.75"/>
<line x1="1140.13" y1="223.35" x2="1140.13" y2="269.35" stroke="#189b7a" stroke-width="1.0" stroke-opacity="0.75"/>
<line x1="1134.13" y1="223.35" x2="1146.13" y2="223.35" stroke="#189b7a" stroke-width="1.0" stroke-opacity="0.75"/>
<line x1="1134.13" y1="269.35" x2="1146.13" y2="269.35" stroke="#189b7a" stroke-width="1.0" stroke-opacity="0.75"/>
<line x1="1142.34" y1="224.80" x2="1142.34" y2="270.80" stroke="#189b7a" stroke-width="1.0" stroke-opacity="0.75"/>
<line x1="1136.34" y1="224.80" x2="1148.34" y2="224.80" stroke="#189b7a" stroke-width="1.0" stroke-opacity="0.75"/>
<line x1="1136.34" y1="270.80" x2="1148.34" y2="270.80" stroke="#189b7a" stroke-width="1.0" stroke-opacity="0.75"/>
<line x1="1144.54" y1="228.71" x2="1144.54" y2="274.71" stroke="#189b7a" stroke-width="1.0" stroke-opacity="0.75"/>
<line x1="1138.54" y1="228.71" x2="1150.54" y2="228.71" stroke="#189b7a" stroke-width="1.0" stroke-opacity="0.75"/>
<line x1="1138.54" y1="274.71" x2="1150.54" y2="274.71" stroke="#189b7a" stroke-width="1.0" stroke-opacity="0.75"/>
<line x1="1146.75" y1="228.08" x2="1146.75" y2="274.08" stroke="#189b7a" stroke-width="1.0" stroke-opacity="0.75"/>
<line x1="1140.75" y1="228.08" x2="1152.75" y2="228.08" stroke="#189b7a" stroke-width="1.0" stroke-opacity="0.75"/>
<line x1="1140.75" y1="274.08" x2="1152.75" y2="274.08" stroke="#189b7a" stroke-width="1.0" stroke-opacity="0.75"/>
<line x1="1148.96" y1="229.59" x2="1148.96" y2="275.59" stroke="#189b7a" stroke-width="1.0" stroke-opacity="0.75"/>
<line x1="1142.96" y1="229.59" x2="1154.96" y2="229.59" stroke="#189b7a" stroke-width="1.0" stroke-opacity="0.75"/>
<line x1="1142.96" y1="275.59" x2="1154.96" y2="275.59" stroke="#189b7a" stroke-width="1.0" stroke-opacity="0.75"/>
<line x1="1151.16" y1="228.85" x2="1151.16" y2="274.85" stroke="#189b7a" stroke-width="1.0" stroke-opacity="0.75"/>
<line x1="1145.16" y1="228.85" x2="1157.16" y2="228.85" stroke="#189b7a" stroke-width="1.0" stroke-opacity="0.75"/>
<line x1="1145.16" y1="274.85" x2="1157.16" y2="274.85" stroke="#189b7a" stroke-width="1.0" stroke-opacity="0.75"/>
<line x1="1153.37" y1="231.86" x2="1153.37" y2="277.86" stroke="#189b7a" stroke-width="1.0" stroke-opacity="0.75"/>
<line x1="1147.37" y1="231.86" x2="1159.37" y2="231.86" stroke="#189b7a" stroke-width="1.0" stroke-opacity="0.75"/>
<line x1="1147.37" y1="277.86" x2="1159.37" y2="277.86" stroke="#189b7a" stroke-width="1.0" stroke-opacity="0.75"/>
<line x1="1155.58" y1="233.92" x2="1155.58" y2="279.92" stroke="#189b7a" stroke-width="1.0" stroke-opacity="0.75"/>
<line x1="1149.58" y1="233.92" x2="1161.58" y2="233.92" stroke="#189b7a" stroke-width="1.0" stroke-opacity="0.75"/>
<line x1="1149.58" y1="279.92" x2="1161.58" y2="279.92" stroke="#189b7a" stroke-width="1.0" stroke-opacity="0.75"/>
<line x1="1157.79" y1="233.08" x2="1157.79" y2="279.08" stroke="#189b7a" stroke-width="1.0" stroke-opacity="0.75"/>
<line x1="1151.79" y1="233.08" x2="1163.79" y2="233.08" stroke="#189b7a" stroke-width="1.0" stroke-opacity="0.75"/>
<line x1="1151.79" y1="279.08" x2="1163.79" y2="279.08" stroke="#189b7a" stroke-width="1.0" stroke-opacity="0.75"/>
<line x1="1159.99" y1="236.00" x2="1159.99" y2="282.00" stroke="#189b7a" stroke-width="1.0" stroke-opacity="0.75"/>
<line x1="1153.99" y1="236.00" x2="1165.99" y2="236.00" stroke="#189b7a" stroke-width="1.0" stroke-opacity="0.75"/>
<line x1="1153.99" y1="282.00" x2="1165.99" y2="282.00" stroke="#189b7a" stroke-width="1.0" stroke-opacity="0.75"/>
<line x1="1162.20" y1="236.61" x2="1162.20" y2="282.61" stroke="#189b7a" stroke-width="1.0" stroke-opacity="0.75"/>
<line x1="1156.20" y1="236.61" x2="1168.20" y2="236.61" stroke="#189b7a" stroke-width="1.0" stroke-opacity="0.75"/>
<line x1="1156.20" y1="282.61" x2="1168.20" y2="282.61" stroke="#189b7a" stroke-width="1.0" stroke-opacity="0.75"/>
<line x1="1164.41" y1="234.86" x2="1164.41" y2="280.86" stroke="#189b7a" stroke-width="1.0" stroke-opacity="0.75"/>
<line x1="1158.41" y1="234.86" x2="1170.41" y2="234.86" stroke="#189b7a" stroke-width="1.0" stroke-opacity="0.75"/>
<line x1="1158.41" y1="280.86" x2="1170.41" y2="280.86" stroke="#189b7a" stroke-width="1.0" stroke-opacity="0.75"/>
<line x1="1166.61" y1="237.67" x2="1166.61" y2="283.67" stroke="#189b7a" stroke-width="1.0" stroke-opacity="0.75"/>
<line x1="1160.61" y1="237.67" x2="1172.61" y2="237.67" stroke="#189b7a" stroke-width="1.0" stroke-opacity="0.75"/>
<line x1="1160.61" y1="283.67" x2="1172.61" y2="283.67" stroke="#189b7a" stroke-width="1.0" stroke-opacity="0.75"/>
<line x1="1168.82" y1="237.57" x2="1168.82" y2="283.57" stroke="#189b7a" stroke-width="1.0" stroke-opacity="0.75"/>
<line x1="1162.82" y1="237.57" x2="1174.82" y2="237.57" stroke="#189b7a" stroke-width="1.0" stroke-opacity="0.75"/>
<line x1="1162.82" y1="283.57" x2="1174.82" y2="283.57" stroke="#189b7a" stroke-width="1.0" stroke-opacity="0.75"/>
<circle cx="1036.40" cy="272.84" r="5.5" fill="#fff" fill-opacity="0.6" stroke="#189b7a" stroke-width="1.2"/>
<circle cx="1038.61" cy="274.13" r="5.5" fill="#fff" fill-opacity="0.6" stroke="#189b7a" stroke-width="1.2"/>
<circle cx="1040.81" cy="271.89" r="5.5" fill="#fff" fill-opacity="0.6" stroke="#189b7a" stroke-width="1.2"/>
<circle cx="1043.02" cy="269.54" r="5.5" fill="#fff" fill-opacity="0.6" stroke="#189b7a" stroke-width="1.2"/>
<circle cx="1045.23" cy="267.45" r="5.5" fill="#fff" fill-opacity="0.6" stroke="#189b7a" stroke-width="1.2"/>
<circle cx="1047.43" cy="269.42" r="5.5" fill="#fff" fill-opacity="0.6" stroke="#189b7a" stroke-width="1.2"/>
<circle cx="1049.64" cy="270.16" r="5.5" fill="#fff" fill-opacity="0.6" stroke="#189b7a" stroke-width="1.2"/>
<circle cx="1051.85" cy="266.75" r="5.5" fill="#fff" fill-opacity="0.6" stroke="#189b7a" stroke-width="1.2"/>
<circle cx="1054.06" cy="269.80" r="5.5" fill="#fff" fill-opacity="0.6" stroke="#189b7a" stroke-width="1.2"/>
<circle cx="1056.26" cy="268.44" r="5.5" fill="#fff" fill-opacity="0.6" stroke="#189b7a" stroke-width="1.2"/>
<circle cx="1058.47" cy="267.60" r="5.5" fill="#fff" fill-opacity="0.6" stroke="#189b7a" stroke-width="1.2"/>
<circle cx="1060.68" cy="265.98" r="5.5" fill="#fff" fill-opacity="0.6" stroke="#189b7a" stroke-width="1.2"/>
<circle cx="1062.88" cy="265.68" r="5.5" fill="#fff" fill-opacity="0.6" stroke="#189b7a" stroke-width="1.2"/>
<circle cx="1065.09" cy="263.89" r="5.5" fill="#fff" fill-opacity="0.6" stroke="#189b7a" stroke-width="1.2"/>
<circle cx="1067.30" cy="258.38" r="5.5" fill="#fff" fill-opacity="0.6" stroke="#189b7a" stroke-width="1.2"/>
<circle cx="1069.51" cy="258.46" r="5.5" fill="#fff" fill-opacity="0.6" stroke="#189b7a" stroke-width="1.2"/>
<circle cx="1071.71" cy="255.98" r="5.5" fill="#fff" fill-opacity="0.6" stroke="#189b7a" stroke-width="1.2"/>
<circle cx="1073.92" cy="258.47" r="5.5" fill="#fff" fill-opacity="0.6" stroke="#189b7a" stroke-width="1.2"/>
<circle cx="1076.13" cy="256.72" r="5.5" fill="#fff" fill-opacity="0.6" stroke="#189b7a" stroke-width="1.2"/>
<circle cx="1078.33" cy="258.72" r="5.5" fill="#fff" fill-opacity="0.6" stroke="#189b7a" stroke-width="1.2"/>
<circle cx="1080.54" cy="258.92" r="5.5" fill="#fff" fill-opacity="0.6" stroke="#189b7a" stroke-width="1.2"/>
<circle cx="1082.75" cy="257.02" r="5.5" fill="#fff" fill-opacity="0.6" stroke="#189b7a" stroke-width="1.2"/>
<circle cx="1084.95" cy="258.99" r="5.5" fill="#fff" fill-opacity="0.6" stroke="#189b7a" stroke-width="1.2"/>
<circle cx="1087.16" cy="256.24" r="5.5" fill="#fff" fill-opacity="0.6" stroke="#189b7a" stroke-width="1.2"/>
<circle cx="1089.37" cy="255.31" r="5.5" fill="#fff" fill-opacity="0.6" stroke="#189b7a" stroke-width="1.2"/>
<circle cx="1091.58" cy="257.40" r="5.5" fill="#fff" fill-opacity="0.6" stroke="#189b7a" stroke-width="1.2"/>
<circle cx="1093.78" cy="255.13" r="5.5" fill="#fff" fill-opacity="0.6" stroke="#189b7a" stroke-width="1.2"/>
<circle cx="1095.99" cy="255.79" r="5.5" fill="#fff" fill-opacity="0.6" stroke="#189b7a" stroke-width="1.2"/>
<circle cx="1098.20" cy="256.63" r="5.5" fill="#fff" fill-opacity="0.6" stroke="#189b7a" stroke-width="1.2"/>
<circle cx="1100.40" cy="257.44" r="5.5" fill="#fff" fill-opacity="0.6" stroke="#189b7a" stroke-width="1.2"/>
<circle cx="1102.61" cy="255.62" r="5.5" fill="#fff" fill-opacity="0.6" stroke="#189b7a" stroke-width="1.2"/>
<circle cx="1104.82" cy="254.17" r="5.5" fill="#fff" fill-opacity="0.6" stroke="#189b7a" stroke-width="1.2"/>
<circle cx="1107.02" cy="256.47" r="5.5" fill="#fff" fill-opacity="0.6" stroke="#189b7a" stroke-width="1.2"/>
<circle cx="1109.23" cy="253.26" r="5.5" fill="#fff" fill-opacity="0.6" stroke="#189b7a" stroke-width="1.2"/>
<circle cx="1111.44" cy="254.83" r="5.5" fill="#fff" fill-opacity="0.6" stroke="#189b7a" stroke-width="1.2"/>
<circle cx="1113.64" cy="253.59" r="5.5" fill="#fff" fill-opacity="0.6" stroke="#189b7a" stroke-width="1.2"/>
<circle cx="1115.85" cy="250.51" r="5.5" fill="#fff" fill-opacity="0.6" stroke="#189b7a" stroke-width="1.2"/>
<circle cx="1118.06" cy="249.84" r="5.5" fill="#fff" fill-opacity="0.6" stroke="#189b7a" stroke-width="1.2"/>
<circle cx="1120.27" cy="249.08" r="5.5" fill="#fff" fill-opacity="0.6" stroke="#189b7a" stroke-width="1.2"/>
<circle cx="1122.47" cy="248.58" r="5.5" fill="#fff" fill-opacity="0.6" stroke="#189b7a" stroke-width="1.2"/>
<circle cx="1124.68" cy="247.38" r="5.5" fill="#fff" fill-opacity="0.6" stroke="#189b7a" stroke-width="1.2"/>
<circle cx="1126.89" cy="246.84" r="5.5" fill="#fff" fill-opacity="0.6" stroke="#189b7a" stroke-width="1.2"/>
<circle cx="1129.09" cy="246.68" r="5.5" fill="#fff" fill-opacity="0.6" stroke="#189b7a" stroke-width="1.2"/>
<circle cx="1131.30" cy="247.56" r="5.5" fill="#fff" fill-opacity="0.6" stroke="#189b7a" stroke-width="1.2"/>
<circle cx="1133.51" cy="245.43" r="5.5" fill="#fff" fill-opacity="0.6" stroke="#189b7a" stroke-width="1.2"/>
<circle cx="1135.72" cy="244.72" r="5.5" fill="#fff" fill-opacity="0.6" stroke="#189b7a" stroke-width="1.2"/>
<circle cx="1137.92" cy="247.08" r="5.5" fill="#fff" fill-opacity="0.6" stroke="#189b7a" stroke-width="1.2"/>
<circle cx="1140.13" cy="246.35" r="5.5" fill="#fff" fill-opacity="0.6" stroke="#189b7a" stroke-width="1.2"/>
<circle cx="1142.34" cy="247.80" r="5.5" fill="#fff" fill-opacity="0.6" stroke="#189b7a" stroke-width="1.2"/>
<circle cx="1144.54" cy="251.71" r="5.5" fill="#fff" fill-opacity="0.6" stroke="#189b7a" stroke-width="1.2"/>
<circle cx="1146.75" cy="251.08" r="5.5" fill="#fff" fill-opacity="0.6" stroke="#189b7a" stroke-width="1.2"/>
<circle cx="1148.96" cy="252.59" r="5.5" fill="#fff" fill-opacity="0.6" stroke="#189b7a" stroke-width="1.2"/>
<circle cx="1151.16" cy="251.85" r="5.5" fill="#fff" fill-opacity="0.6" stroke="#189b7a" stroke-width="1.2"/>
<circle cx="1153.37" cy="254.86" r="5.5" fill="#fff" fill-opacity="0.6" stroke="#189b7a" stroke-width="1.2"/>
<circle cx="1155.58" cy="256.92" r="5.5" fill="#fff" fill-opacity="0.6" stroke="#189b7a" stroke-width="1.2"/>
<circle cx="1157.79" cy="256.08" r="5.5" fill="#fff" fill-opacity="0.6" stroke="#189b7a" stroke-width="1.2"/>
<circle cx="1159.99" cy="259.00" r="5.5" fill="#fff" fill-opacity="0.6" stroke="#189b7a" stroke-width="1.2"/>
<circle cx="1162.20" cy="259.61" r="5.5" fill="#fff" fill-opacity="0.6" stroke="#189b7a" stroke-width="1.2"/>
<circle cx="1164.41" cy="257.86" r="5.5" fill="#fff" fill-opacity="0.6" stroke="#189b7a" stroke-width="1.2"/>
<circle cx="1166.61" cy="260.67" r="5.5" fill="#fff" fill-opacity="0.6" stroke="#189b7a" stroke-width="1.2"/>
<circle cx="1168.82" cy="260.57" r="5.5" fill="#fff" fill-opacity="0.6" stroke="#189b7a" stroke-width="1.2"/>
</g>
<rect x="760.60" y="203.00" width="585.20" height="132.30" stroke="#000" stroke-width="2.8" fill="none"/>
<line x1="815.70" y1="335.30" x2="815.70" y2="321.80" stroke="#000" stroke-width="2.8"/>
<line x1="870.88" y1="335.30" x2="870.88" y2="328.30" stroke="#000" stroke-width="2.8"/>
<line x1="926.05" y1="335.30" x2="926.05" y2="321.80" stroke="#000" stroke-width="2.8"/>
<line x1="981.23" y1="335.30" x2="981.23" y2="328.30" stroke="#000" stroke-width="2.8"/>
<line x1="1036.40" y1="335.30" x2="1036.40" y2="321.80" stroke="#000" stroke-width="2.8"/>
<line x1="1091.58" y1="335.30" x2="1091.58" y2="328.30" stroke="#000" stroke-width="2.8"/>
<line x1="1146.75" y1="335.30" x2="1146.75" y2="321.80" stroke="#000" stroke-width="2.8"/>
<line x1="1201.92" y1="335.30" x2="1201.92" y2="328.30" stroke="#000" stroke-width="2.8"/>
<line x1="1257.10" y1="335.30" x2="1257.10" y2="321.80" stroke="#000" stroke-width="2.8"/>
<line x1="1312.28" y1="335.30" x2="1312.28" y2="328.30" stroke="#000" stroke-width="2.8"/>
<line x1="760.60" y1="313.25" x2="767.60" y2="313.25" stroke="#000" stroke-width="2.8"/>
<line x1="1345.80" y1="313.25" x2="1338.80" y2="313.25" stroke="#000" stroke-width="2.8"/>
<line x1="760.60" y1="291.20" x2="774.10" y2="291.20" stroke="#000" stroke-width="2.8"/>
<line x1="1345.80" y1="291.20" x2="1332.30" y2="291.20" stroke="#000" stroke-width="2.8"/>
<line x1="760.60" y1="269.15" x2="767.60" y2="269.15" stroke="#000" stroke-width="2.8"/>
<line x1="1345.80" y1="269.15" x2="1338.80" y2="269.15" stroke="#000" stroke-width="2.8"/>
<line x1="760.60" y1="247.10" x2="774.10" y2="247.10" stroke="#000" stroke-width="2.8"/>
<line x1="1345.80" y1="247.10" x2="1332.30" y2="247.10" stroke="#000" stroke-width="2.8"/>
<line x1="760.60" y1="225.05" x2="767.60" y2="225.05" stroke="#000" stroke-width="2.8"/>
<line x1="1345.80" y1="225.05" x2="1338.80" y2="225.05" stroke="#000" stroke-width="2.8"/>
<g clip-path="url(#sp2)">
<path d="M760.60,404.60 C762.35,405.17 765.63,406.15 771.10,408.00 C776.57,409.85 784.12,413.40 793.40,415.70 C802.68,418.00 813.80,420.12 826.80,421.80 C839.80,423.48 856.55,425.32 871.40,425.80 C886.25,426.28 902.92,425.63 915.90,424.70 C928.88,423.77 938.17,422.25 949.30,420.20 C960.43,418.15 971.57,415.55 982.70,412.40 C993.83,409.25 1006.82,404.63 1016.10,401.30 C1025.38,397.97 1029.65,395.58 1038.40,392.40 C1047.15,389.22 1059.53,385.32 1068.60,382.20 C1077.67,379.08 1084.72,376.53 1092.80,373.70 C1100.88,370.87 1109.00,367.55 1117.10,365.20 C1125.20,362.85 1133.30,360.62 1141.40,359.60 C1149.50,358.58 1157.60,358.17 1165.70,359.10 C1173.80,360.03 1181.92,362.97 1190.00,365.20 C1198.08,367.43 1206.12,369.47 1214.20,372.50 C1222.28,375.53 1230.40,379.57 1238.50,383.40 C1246.60,387.23 1254.72,391.45 1262.80,395.50 C1270.88,399.55 1278.92,404.05 1287.00,407.70 C1295.08,411.35 1301.60,414.37 1311.30,417.40 C1321.00,420.43 1339.55,424.48 1345.20,425.90" fill="none" stroke="#f09600" stroke-width="2.0" stroke-linejoin="round" stroke-linecap="round"/>
<line x1="1036.40" y1="372.08" x2="1036.40" y2="446.08" stroke="#f09600" stroke-width="1.0" stroke-opacity="0.75"/>
<line x1="1030.40" y1="372.08" x2="1042.40" y2="372.08" stroke="#f09600" stroke-width="1.0" stroke-opacity="0.75"/>
<line x1="1030.40" y1="446.08" x2="1042.40" y2="446.08" stroke="#f09600" stroke-width="1.0" stroke-opacity="0.75"/>
<line x1="1038.61" y1="369.63" x2="1038.61" y2="443.20" stroke="#f09600" stroke-width="1.0" stroke-opacity="0.75"/>
<line x1="1032.61" y1="369.63" x2="1044.61" y2="369.63" stroke="#f09600" stroke-width="1.0" stroke-opacity="0.75"/>
<line x1="1032.61" y1="443.20" x2="1044.61" y2="443.20" stroke="#f09600" stroke-width="1.0" stroke-opacity="0.75"/>
<line x1="1040.81" y1="371.28" x2="1040.81" y2="444.41" stroke="#f09600" stroke-width="1.0" stroke-opacity="0.75"/>
<line x1="1034.81" y1="371.28" x2="1046.81" y2="371.28" stroke="#f09600" stroke-width="1.0" stroke-opacity="0.75"/>
<line x1="1034.81" y1="444.41" x2="1046.81" y2="444.41" stroke="#f09600" stroke-width="1.0" stroke-opacity="0.75"/>
<line x1="1043.02" y1="370.98" x2="1043.02" y2="443.68" stroke="#f09600" stroke-width="1.0" stroke-opacity="0.75"/>
<line x1="1037.02" y1="370.98" x2="1049.02" y2="370.98" stroke="#f09600" stroke-width="1.0" stroke-opacity="0.75"/>
<line x1="1037.02" y1="443.68" x2="1049.02" y2="443.68" stroke="#f09600" stroke-width="1.0" stroke-opacity="0.75"/>
<line x1="1045.23" y1="366.20" x2="1045.23" y2="438.47" stroke="#f09600" stroke-width="1.0" stroke-opacity="0.75"/>
<line x1="1039.23" y1="366.20" x2="1051.23" y2="366.20" stroke="#f09600" stroke-width="1.0" stroke-opacity="0.75"/>
<line x1="1039.23" y1="438.47" x2="1051.23" y2="438.47" stroke="#f09600" stroke-width="1.0" stroke-opacity="0.75"/>
<line x1="1047.43" y1="365.95" x2="1047.43" y2="437.78" stroke="#f09600" stroke-width="1.0" stroke-opacity="0.75"/>
<line x1="1041.43" y1="365.95" x2="1053.43" y2="365.95" stroke="#f09600" stroke-width="1.0" stroke-opacity="0.75"/>
<line x1="1041.43" y1="437.78" x2="1053.43" y2="437.78" stroke="#f09600" stroke-width="1.0" stroke-opacity="0.75"/>
<line x1="1049.64" y1="369.16" x2="1049.64" y2="440.56" stroke="#f09600" stroke-width="1.0" stroke-opacity="0.75"/>
<line x1="1043.64" y1="369.16" x2="1055.64" y2="369.16" stroke="#f09600" stroke-width="1.0" stroke-opacity="0.75"/>
<line x1="1043.64" y1="440.56" x2="1055.64" y2="440.56" stroke="#f09600" stroke-width="1.0" stroke-opacity="0.75"/>
<line x1="1051.85" y1="370.40" x2="1051.85" y2="441.36" stroke="#f09600" stroke-width="1.0" stroke-opacity="0.75"/>
<line x1="1045.85" y1="370.40" x2="1057.85" y2="370.40" stroke="#f09600" stroke-width="1.0" stroke-opacity="0.75"/>
<line x1="1045.85" y1="441.36" x2="1057.85" y2="441.36" stroke="#f09600" stroke-width="1.0" stroke-opacity="0.75"/>
<line x1="1054.06" y1="365.64" x2="1054.06" y2="436.17" stroke="#f09600" stroke-width="1.0" stroke-opacity="0.75"/>
<line x1="1048.06" y1="365.64" x2="1060.06" y2="365.64" stroke="#f09600" stroke-width="1.0" stroke-opacity="0.75"/>
<line x1="1048.06" y1="436.17" x2="1060.06" y2="436.17" stroke="#f09600" stroke-width="1.0" stroke-opacity="0.75"/>
<line x1="1056.26" y1="366.39" x2="1056.26" y2="436.49" stroke="#f09600" stroke-width="1.0" stroke-opacity="0.75"/>
<line x1="1050.26" y1="366.39" x2="1062.26" y2="366.39" stroke="#f09600" stroke-width="1.0" stroke-opacity="0.75"/>
<line x1="1050.26" y1="436.49" x2="1062.26" y2="436.49" stroke="#f09600" stroke-width="1.0" stroke-opacity="0.75"/>
<line x1="1058.47" y1="366.72" x2="1058.47" y2="436.39" stroke="#f09600" stroke-width="1.0" stroke-opacity="0.75"/>
<line x1="1052.47" y1="366.72" x2="1064.47" y2="366.72" stroke="#f09600" stroke-width="1.0" stroke-opacity="0.75"/>
<line x1="1052.47" y1="436.39" x2="1064.47" y2="436.39" stroke="#f09600" stroke-width="1.0" stroke-opacity="0.75"/>
<line x1="1060.68" y1="364.40" x2="1060.68" y2="433.64" stroke="#f09600" stroke-width="1.0" stroke-opacity="0.75"/>
<line x1="1054.68" y1="364.40" x2="1066.68" y2="364.40" stroke="#f09600" stroke-width="1.0" stroke-opacity="0.75"/>
<line x1="1054.68" y1="433.64" x2="1066.68" y2="433.64" stroke="#f09600" stroke-width="1.0" stroke-opacity="0.75"/>
<line x1="1062.88" y1="363.98" x2="1062.88" y2="432.78" stroke="#f09600" stroke-width="1.0" stroke-opacity="0.75"/>
<line x1="1056.88" y1="363.98" x2="1068.88" y2="363.98" stroke="#f09600" stroke-width="1.0" stroke-opacity="0.75"/>
<line x1="1056.88" y1="432.78" x2="1068.88" y2="432.78" stroke="#f09600" stroke-width="1.0" stroke-opacity="0.75"/>
<line x1="1065.09" y1="362.99" x2="1065.09" y2="431.36" stroke="#f09600" stroke-width="1.0" stroke-opacity="0.75"/>
<line x1="1059.09" y1="362.99" x2="1071.09" y2="362.99" stroke="#f09600" stroke-width="1.0" stroke-opacity="0.75"/>
<line x1="1059.09" y1="431.36" x2="1071.09" y2="431.36" stroke="#f09600" stroke-width="1.0" stroke-opacity="0.75"/>
<line x1="1067.30" y1="362.65" x2="1067.30" y2="430.58" stroke="#f09600" stroke-width="1.0" stroke-opacity="0.75"/>
<line x1="1061.30" y1="362.65" x2="1073.30" y2="362.65" stroke="#f09600" stroke-width="1.0" stroke-opacity="0.75"/>
<line x1="1061.30" y1="430.58" x2="1073.30" y2="430.58" stroke="#f09600" stroke-width="1.0" stroke-opacity="0.75"/>
<line x1="1069.51" y1="363.32" x2="1069.51" y2="430.82" stroke="#f09600" stroke-width="1.0" stroke-opacity="0.75"/>
<line x1="1063.51" y1="363.32" x2="1075.51" y2="363.32" stroke="#f09600" stroke-width="1.0" stroke-opacity="0.75"/>
<line x1="1063.51" y1="430.82" x2="1075.51" y2="430.82" stroke="#f09600" stroke-width="1.0" stroke-opacity="0.75"/>
<line x1="1071.71" y1="360.87" x2="1071.71" y2="427.94" stroke="#f09600" stroke-width="1.0" stroke-opacity="0.75"/>
<line x1="1065.71" y1="360.87" x2="1077.71" y2="360.87" stroke="#f09600" stroke-width="1.0" stroke-opacity="0.75"/>
<line x1="1065.71" y1="427.94" x2="1077.71" y2="427.94" stroke="#f09600" stroke-width="1.0" stroke-opacity="0.75"/>
<line x1="1073.92" y1="360.65" x2="1073.92" y2="427.28" stroke="#f09600" stroke-width="1.0" stroke-opacity="0.75"/>
<line x1="1067.92" y1="360.65" x2="1079.92" y2="360.65" stroke="#f09600" stroke-width="1.0" stroke-opacity="0.75"/>
<line x1="1067.92" y1="427.28" x2="1079.92" y2="427.28" stroke="#f09600" stroke-width="1.0" stroke-opacity="0.75"/>
<line x1="1076.13" y1="362.33" x2="1076.13" y2="428.53" stroke="#f09600" stroke-width="1.0" stroke-opacity="0.75"/>
<line x1="1070.13" y1="362.33" x2="1082.13" y2="362.33" stroke="#f09600" stroke-width="1.0" stroke-opacity="0.75"/>
<line x1="1070.13" y1="428.53" x2="1082.13" y2="428.53" stroke="#f09600" stroke-width="1.0" stroke-opacity="0.75"/>
<line x1="1078.33" y1="357.18" x2="1078.33" y2="422.94" stroke="#f09600" stroke-width="1.0" stroke-opacity="0.75"/>
<line x1="1072.33" y1="357.18" x2="1084.33" y2="357.18" stroke="#f09600" stroke-width="1.0" stroke-opacity="0.75"/>
<line x1="1072.33" y1="422.94" x2="1084.33" y2="422.94" stroke="#f09600" stroke-width="1.0" stroke-opacity="0.75"/>
<line x1="1080.54" y1="359.75" x2="1080.54" y2="425.08" stroke="#f09600" stroke-width="1.0" stroke-opacity="0.75"/>
<line x1="1074.54" y1="359.75" x2="1086.54" y2="359.75" stroke="#f09600" stroke-width="1.0" stroke-opacity="0.75"/>
<line x1="1074.54" y1="425.08" x2="1086.54" y2="425.08" stroke="#f09600" stroke-width="1.0" stroke-opacity="0.75"/>
<line x1="1082.75" y1="360.36" x2="1082.75" y2="425.26" stroke="#f09600" stroke-width="1.0" stroke-opacity="0.75"/>
<line x1="1076.75" y1="360.36" x2="1088.75" y2="360.36" stroke="#f09600" stroke-width="1.0" stroke-opacity="0.75"/>
<line x1="1076.75" y1="425.26" x2="1088.75" y2="425.26" stroke="#f09600" stroke-width="1.0" stroke-opacity="0.75"/>
<line x1="1084.95" y1="357.43" x2="1084.95" y2="421.89" stroke="#f09600" stroke-width="1.0" stroke-opacity="0.75"/>
<line x1="1078.95" y1="357.43" x2="1090.95" y2="357.43" stroke="#f09600" stroke-width="1.0" stroke-opacity="0.75"/>
<line x1="1078.95" y1="421.89" x2="1090.95" y2="421.89" stroke="#f09600" stroke-width="1.0" stroke-opacity="0.75"/>
<line x1="1087.16" y1="356.52" x2="1087.16" y2="420.55" stroke="#f09600" stroke-width="1.0" stroke-opacity="0.75"/>
<line x1="1081.16" y1="356.52" x2="1093.16" y2="356.52" stroke="#f09600" stroke-width="1.0" stroke-opacity="0.75"/>
<line x1="1081.16" y1="420.55" x2="1093.16" y2="420.55" stroke="#f09600" stroke-width="1.0" stroke-opacity="0.75"/>
<line x1="1089.37" y1="359.62" x2="1089.37" y2="423.22" stroke="#f09600" stroke-width="1.0" stroke-opacity="0.75"/>
<line x1="1083.37" y1="359.62" x2="1095.37" y2="359.62" stroke="#f09600" stroke-width="1.0" stroke-opacity="0.75"/>
<line x1="1083.37" y1="423.22" x2="1095.37" y2="423.22" stroke="#f09600" stroke-width="1.0" stroke-opacity="0.75"/>
<line x1="1091.58" y1="355.85" x2="1091.58" y2="419.02" stroke="#f09600" stroke-width="1.0" stroke-opacity="0.75"/>
<line x1="1085.58" y1="355.85" x2="1097.58" y2="355.85" stroke="#f09600" stroke-width="1.0" stroke-opacity="0.75"/>
<line x1="1085.58" y1="419.02" x2="1097.58" y2="419.02" stroke="#f09600" stroke-width="1.0" stroke-opacity="0.75"/>
<line x1="1093.78" y1="355.16" x2="1093.78" y2="417.89" stroke="#f09600" stroke-width="1.0" stroke-opacity="0.75"/>
<line x1="1087.78" y1="355.16" x2="1099.78" y2="355.16" stroke="#f09600" stroke-width="1.0" stroke-opacity="0.75"/>
<line x1="1087.78" y1="417.89" x2="1099.78" y2="417.89" stroke="#f09600" stroke-width="1.0" stroke-opacity="0.75"/>
<line x1="1095.99" y1="356.26" x2="1095.99" y2="418.56" stroke="#f09600" stroke-width="1.0" stroke-opacity="0.75"/>
<line x1="1089.99" y1="356.26" x2="1101.99" y2="356.26" stroke="#f09600" stroke-width="1.0" stroke-opacity="0.75"/>
<line x1="1089.99" y1="418.56" x2="1101.99" y2="418.56" stroke="#f09600" stroke-width="1.0" stroke-opacity="0.75"/>
<line x1="1098.20" y1="357.46" x2="1098.20" y2="419.32" stroke="#f09600" stroke-width="1.0" stroke-opacity="0.75"/>
<line x1="1092.20" y1="357.46" x2="1104.20" y2="357.46" stroke="#f09600" stroke-width="1.0" stroke-opacity="0.75"/>
<line x1="1092.20" y1="419.32" x2="1104.20" y2="419.32" stroke="#f09600" stroke-width="1.0" stroke-opacity="0.75"/>
<line x1="1100.40" y1="353.49" x2="1100.40" y2="414.93" stroke="#f09600" stroke-width="1.0" stroke-opacity="0.75"/>
<line x1="1094.40" y1="353.49" x2="1106.40" y2="353.49" stroke="#f09600" stroke-width="1.0" stroke-opacity="0.75"/>
<line x1="1094.40" y1="414.93" x2="1106.40" y2="414.93" stroke="#f09600" stroke-width="1.0" stroke-opacity="0.75"/>
<line x1="1102.61" y1="354.43" x2="1102.61" y2="415.43" stroke="#f09600" stroke-width="1.0" stroke-opacity="0.75"/>
<line x1="1096.61" y1="354.43" x2="1108.61" y2="354.43" stroke="#f09600" stroke-width="1.0" stroke-opacity="0.75"/>
<line x1="1096.61" y1="415.43" x2="1108.61" y2="415.43" stroke="#f09600" stroke-width="1.0" stroke-opacity="0.75"/>
<line x1="1104.82" y1="353.32" x2="1104.82" y2="413.89" stroke="#f09600" stroke-width="1.0" stroke-opacity="0.75"/>
<line x1="1098.82" y1="353.32" x2="1110.82" y2="353.32" stroke="#f09600" stroke-width="1.0" stroke-opacity="0.75"/>
<line x1="1098.82" y1="413.89" x2="1110.82" y2="413.89" stroke="#f09600" stroke-width="1.0" stroke-opacity="0.75"/>
<line x1="1107.02" y1="355.13" x2="1107.02" y2="415.27" stroke="#f09600" stroke-width="1.0" stroke-opacity="0.75"/>
<line x1="1101.02" y1="355.13" x2="1113.02" y2="355.13" stroke="#f09600" stroke-width="1.0" stroke-opacity="0.75"/>
<line x1="1101.02" y1="415.27" x2="1113.02" y2="415.27" stroke="#f09600" stroke-width="1.0" stroke-opacity="0.75"/>
<line x1="1109.23" y1="351.58" x2="1109.23" y2="411.28" stroke="#f09600" stroke-width="1.0" stroke-opacity="0.75"/>
<line x1="1103.23" y1="351.58" x2="1115.23" y2="351.58" stroke="#f09600" stroke-width="1.0" stroke-opacity="0.75"/>
<line x1="1103.23" y1="411.28" x2="1115.23" y2="411.28" stroke="#f09600" stroke-width="1.0" stroke-opacity="0.75"/>
<line x1="1111.44" y1="352.90" x2="1111.44" y2="412.17" stroke="#f09600" stroke-width="1.0" stroke-opacity="0.75"/>
<line x1="1105.44" y1="352.90" x2="1117.44" y2="352.90" stroke="#f09600" stroke-width="1.0" stroke-opacity="0.75"/>
<line x1="1105.44" y1="412.17" x2="1117.44" y2="412.17" stroke="#f09600" stroke-width="1.0" stroke-opacity="0.75"/>
<line x1="1113.64" y1="347.60" x2="1113.64" y2="406.43" stroke="#f09600" stroke-width="1.0" stroke-opacity="0.75"/>
<line x1="1107.64" y1="347.60" x2="1119.64" y2="347.60" stroke="#f09600" stroke-width="1.0" stroke-opacity="0.75"/>
<line x1="1107.64" y1="406.43" x2="1119.64" y2="406.43" stroke="#f09600" stroke-width="1.0" stroke-opacity="0.75"/>
<line x1="1115.85" y1="347.42" x2="1115.85" y2="405.82" stroke="#f09600" stroke-width="1.0" stroke-opacity="0.75"/>
<line x1="1109.85" y1="347.42" x2="1121.85" y2="347.42" stroke="#f09600" stroke-width="1.0" stroke-opacity="0.75"/>
<line x1="1109.85" y1="405.82" x2="1121.85" y2="405.82" stroke="#f09600" stroke-width="1.0" stroke-opacity="0.75"/>
<line x1="1118.06" y1="348.12" x2="1118.06" y2="406.08" stroke="#f09600" stroke-width="1.0" stroke-opacity="0.75"/>
<line x1="1112.06" y1="348.12" x2="1124.06" y2="348.12" stroke="#f09600" stroke-width="1.0" stroke-opacity="0.75"/>
<line x1="1112.06" y1="406.08" x2="1124.06" y2="406.08" stroke="#f09600" stroke-width="1.0" stroke-opacity="0.75"/>
<line x1="1120.27" y1="348.34" x2="1120.27" y2="405.88" stroke="#f09600" stroke-width="1.0" stroke-opacity="0.75"/>
<line x1="1114.27" y1="348.34" x2="1126.27" y2="348.34" stroke="#f09600" stroke-width="1.0" stroke-opacity="0.75"/>
<line x1="1114.27" y1="405.88" x2="1126.27" y2="405.88" stroke="#f09600" stroke-width="1.0" stroke-opacity="0.75"/>
<line x1="1122.47" y1="344.56" x2="1122.47" y2="401.66" stroke="#f09600" stroke-width="1.0" stroke-opacity="0.75"/>
<line x1="1116.47" y1="344.56" x2="1128.47" y2="344.56" stroke="#f09600" stroke-width="1.0" stroke-opacity="0.75"/>
<line x1="1116.47" y1="401.66" x2="1128.47" y2="401.66" stroke="#f09600" stroke-width="1.0" stroke-opacity="0.75"/>
<line x1="1124.68" y1="342.02" x2="1124.68" y2="398.68" stroke="#f09600" stroke-width="1.0" stroke-opacity="0.75"/>
<line x1="1118.68" y1="342.02" x2="1130.68" y2="342.02" stroke="#f09600" stroke-width="1.0" stroke-opacity="0.75"/>
<line x1="1118.68" y1="398.68" x2="1130.68" y2="398.68" stroke="#f09600" stroke-width="1.0" stroke-opacity="0.75"/>
<line x1="1126.89" y1="339.61" x2="1126.89" y2="395.84" stroke="#f09600" stroke-width="1.0" stroke-opacity="0.75"/>
<line x1="1120.89" y1="339.61" x2="1132.89" y2="339.61" stroke="#f09600" stroke-width="1.0" stroke-opacity="0.75"/>
<line x1="1120.89" y1="395.84" x2="1132.89" y2="395.84" stroke="#f09600" stroke-width="1.0" stroke-opacity="0.75"/>
<line x1="1129.09" y1="340.28" x2="1129.09" y2="396.08" stroke="#f09600" stroke-width="1.0" stroke-opacity="0.75"/>
<line x1="1123.09" y1="340.28" x2="1135.09" y2="340.28" stroke="#f09600" stroke-width="1.0" stroke-opacity="0.75"/>
<line x1="1123.09" y1="396.08" x2="1135.09" y2="396.08" stroke="#f09600" stroke-width="1.0" stroke-opacity="0.75"/>
<line x1="1131.30" y1="336.46" x2="1131.30" y2="391.83" stroke="#f09600" stroke-width="1.0" stroke-opacity="0.75"/>
<line x1="1125.30" y1="336.46" x2="1137.30" y2="336.46" stroke="#f09600" stroke-width="1.0" stroke-opacity="0.75"/>
<line x1="1125.30" y1="391.83" x2="1137.30" y2="391.83" stroke="#f09600" stroke-width="1.0" stroke-opacity="0.75"/>
<line x1="1133.51" y1="338.37" x2="1133.51" y2="393.31" stroke="#f09600" stroke-width="1.0" stroke-opacity="0.75"/>
<line x1="1127.51" y1="338.37" x2="1139.51" y2="338.37" stroke="#f09600" stroke-width="1.0" stroke-opacity="0.75"/>
<line x1="1127.51" y1="393.31" x2="1139.51" y2="393.31" stroke="#f09600" stroke-width="1.0" stroke-opacity="0.75"/>
<line x1="1135.72" y1="336.78" x2="1135.72" y2="391.28" stroke="#f09600" stroke-width="1.0" stroke-opacity="0.75"/>
<line x1="1129.72" y1="336.78" x2="1141.72" y2="336.78" stroke="#f09600" stroke-width="1.0" stroke-opacity="0.75"/>
<line x1="1129.72" y1="391.28" x2="1141.72" y2="391.28" stroke="#f09600" stroke-width="1.0" stroke-opacity="0.75"/>
<line x1="1137.92" y1="332.27" x2="1137.92" y2="386.33" stroke="#f09600" stroke-width="1.0" stroke-opacity="0.75"/>
<line x1="1131.92" y1="332.27" x2="1143.92" y2="332.27" stroke="#f09600" stroke-width="1.0" stroke-opacity="0.75"/>
<line x1="1131.92" y1="386.33" x2="1143.92" y2="386.33" stroke="#f09600" stroke-width="1.0" stroke-opacity="0.75"/>
<line x1="1140.13" y1="332.25" x2="1140.13" y2="385.89" stroke="#f09600" stroke-width="1.0" stroke-opacity="0.75"/>
<line x1="1134.13" y1="332.25" x2="1146.13" y2="332.25" stroke="#f09600" stroke-width="1.0" stroke-opacity="0.75"/>
<line x1="1134.13" y1="385.89" x2="1146.13" y2="385.89" stroke="#f09600" stroke-width="1.0" stroke-opacity="0.75"/>
<line x1="1142.34" y1="334.84" x2="1142.34" y2="388.04" stroke="#f09600" stroke-width="1.0" stroke-opacity="0.75"/>
<line x1="1136.34" y1="334.84" x2="1148.34" y2="334.84" stroke="#f09600" stroke-width="1.0" stroke-opacity="0.75"/>
<line x1="1136.34" y1="388.04" x2="1148.34" y2="388.04" stroke="#f09600" stroke-width="1.0" stroke-opacity="0.75"/>
<line x1="1144.54" y1="333.27" x2="1144.54" y2="386.03" stroke="#f09600" stroke-width="1.0" stroke-opacity="0.75"/>
<line x1="1138.54" y1="333.27" x2="1150.54" y2="333.27" stroke="#f09600" stroke-width="1.0" stroke-opacity="0.75"/>
<line x1="1138.54" y1="386.03" x2="1150.54" y2="386.03" stroke="#f09600" stroke-width="1.0" stroke-opacity="0.75"/>
<line x1="1146.75" y1="333.67" x2="1146.75" y2="386.00" stroke="#f09600" stroke-width="1.0" stroke-opacity="0.75"/>
<line x1="1140.75" y1="333.67" x2="1152.75" y2="333.67" stroke="#f09600" stroke-width="1.0" stroke-opacity="0.75"/>
<line x1="1140.75" y1="386.00" x2="1152.75" y2="386.00" stroke="#f09600" stroke-width="1.0" stroke-opacity="0.75"/>
<line x1="1148.96" y1="333.12" x2="1148.96" y2="385.02" stroke="#f09600" stroke-width="1.0" stroke-opacity="0.75"/>
<line x1="1142.96" y1="333.12" x2="1154.96" y2="333.12" stroke="#f09600" stroke-width="1.0" stroke-opacity="0.75"/>
<line x1="1142.96" y1="385.02" x2="1154.96" y2="385.02" stroke="#f09600" stroke-width="1.0" stroke-opacity="0.75"/>
<line x1="1151.16" y1="334.04" x2="1151.16" y2="385.51" stroke="#f09600" stroke-width="1.0" stroke-opacity="0.75"/>
<line x1="1145.16" y1="334.04" x2="1157.16" y2="334.04" stroke="#f09600" stroke-width="1.0" stroke-opacity="0.75"/>
<line x1="1145.16" y1="385.51" x2="1157.16" y2="385.51" stroke="#f09600" stroke-width="1.0" stroke-opacity="0.75"/>
<line x1="1153.37" y1="337.23" x2="1153.37" y2="388.27" stroke="#f09600" stroke-width="1.0" stroke-opacity="0.75"/>
<line x1="1147.37" y1="337.23" x2="1159.37" y2="337.23" stroke="#f09600" stroke-width="1.0" stroke-opacity="0.75"/>
<line x1="1147.37" y1="388.27" x2="1159.37" y2="388.27" stroke="#f09600" stroke-width="1.0" stroke-opacity="0.75"/>
<line x1="1155.58" y1="342.46" x2="1155.58" y2="393.06" stroke="#f09600" stroke-width="1.0" stroke-opacity="0.75"/>
<line x1="1149.58" y1="342.46" x2="1161.58" y2="342.46" stroke="#f09600" stroke-width="1.0" stroke-opacity="0.75"/>
<line x1="1149.58" y1="393.06" x2="1161.58" y2="393.06" stroke="#f09600" stroke-width="1.0" stroke-opacity="0.75"/>
<line x1="1157.79" y1="341.54" x2="1157.79" y2="391.71" stroke="#f09600" stroke-width="1.0" stroke-opacity="0.75"/>
<line x1="1151.79" y1="341.54" x2="1163.79" y2="341.54" stroke="#f09600" stroke-width="1.0" stroke-opacity="0.75"/>
<line x1="1151.79" y1="391.71" x2="1163.79" y2="391.71" stroke="#f09600" stroke-width="1.0" stroke-opacity="0.75"/>
<line x1="1159.99" y1="341.81" x2="1159.99" y2="391.54" stroke="#f09600" stroke-width="1.0" stroke-opacity="0.75"/>
<line x1="1153.99" y1="341.81" x2="1165.99" y2="341.81" stroke="#f09600" stroke-width="1.0" stroke-opacity="0.75"/>
<line x1="1153.99" y1="391.54" x2="1165.99" y2="391.54" stroke="#f09600" stroke-width="1.0" stroke-opacity="0.75"/>
<line x1="1162.20" y1="342.05" x2="1162.20" y2="391.35" stroke="#f09600" stroke-width="1.0" stroke-opacity="0.75"/>
<line x1="1156.20" y1="342.05" x2="1168.20" y2="342.05" stroke="#f09600" stroke-width="1.0" stroke-opacity="0.75"/>
<line x1="1156.20" y1="391.35" x2="1168.20" y2="391.35" stroke="#f09600" stroke-width="1.0" stroke-opacity="0.75"/>
<line x1="1164.41" y1="341.89" x2="1164.41" y2="390.75" stroke="#f09600" stroke-width="1.0" stroke-opacity="0.75"/>
<line x1="1158.41" y1="341.89" x2="1170.41" y2="341.89" stroke="#f09600" stroke-width="1.0" stroke-opacity="0.75"/>
<line x1="1158.41" y1="390.75" x2="1170.41" y2="390.75" stroke="#f09600" stroke-width="1.0" stroke-opacity="0.75"/>
<line x1="1166.61" y1="341.64" x2="1166.61" y2="390.07" stroke="#f09600" stroke-width="1.0" stroke-opacity="0.75"/>
<line x1="1160.61" y1="341.64" x2="1172.61" y2="341.64" stroke="#f09600" stroke-width="1.0" stroke-opacity="0.75"/>
<line x1="1160.61" y1="390.07" x2="1172.61" y2="390.07" stroke="#f09600" stroke-width="1.0" stroke-opacity="0.75"/>
<line x1="1168.82" y1="344.52" x2="1168.82" y2="392.52" stroke="#f09600" stroke-width="1.0" stroke-opacity="0.75"/>
<line x1="1162.82" y1="344.52" x2="1174.82" y2="344.52" stroke="#f09600" stroke-width="1.0" stroke-opacity="0.75"/>
<line x1="1162.82" y1="392.52" x2="1174.82" y2="392.52" stroke="#f09600" stroke-width="1.0" stroke-opacity="0.75"/>
<polygon points="1036.40,401.77 1043.40,413.95 1029.40,413.95" fill="#fff" fill-opacity="0.5" stroke="#f09600" stroke-width="1.2"/>
<polygon points="1038.61,399.11 1045.61,411.29 1031.61,411.29" fill="#fff" fill-opacity="0.5" stroke="#f09600" stroke-width="1.2"/>
<polygon points="1040.81,400.53 1047.81,412.71 1033.81,412.71" fill="#fff" fill-opacity="0.5" stroke="#f09600" stroke-width="1.2"/>
<polygon points="1043.02,400.02 1050.02,412.20 1036.02,412.20" fill="#fff" fill-opacity="0.5" stroke="#f09600" stroke-width="1.2"/>
<polygon points="1045.23,395.03 1052.23,407.21 1038.23,407.21" fill="#fff" fill-opacity="0.5" stroke="#f09600" stroke-width="1.2"/>
<polygon points="1047.43,394.56 1054.43,406.74 1040.43,406.74" fill="#fff" fill-opacity="0.5" stroke="#f09600" stroke-width="1.2"/>
<polygon points="1049.64,397.55 1056.64,409.73 1042.64,409.73" fill="#fff" fill-opacity="0.5" stroke="#f09600" stroke-width="1.2"/>
<polygon points="1051.85,398.57 1058.85,410.75 1044.85,410.75" fill="#fff" fill-opacity="0.5" stroke="#f09600" stroke-width="1.2"/>
<polygon points="1054.06,393.60 1061.06,405.78 1047.06,405.78" fill="#fff" fill-opacity="0.5" stroke="#f09600" stroke-width="1.2"/>
<polygon points="1056.26,394.13 1063.26,406.31 1049.26,406.31" fill="#fff" fill-opacity="0.5" stroke="#f09600" stroke-width="1.2"/>
<polygon points="1058.47,394.25 1065.47,406.43 1051.47,406.43" fill="#fff" fill-opacity="0.5" stroke="#f09600" stroke-width="1.2"/>
<polygon points="1060.68,391.71 1067.68,403.89 1053.68,403.89" fill="#fff" fill-opacity="0.5" stroke="#f09600" stroke-width="1.2"/>
<polygon points="1062.88,391.08 1069.88,403.26 1055.88,403.26" fill="#fff" fill-opacity="0.5" stroke="#f09600" stroke-width="1.2"/>
<polygon points="1065.09,389.87 1072.09,402.05 1058.09,402.05" fill="#fff" fill-opacity="0.5" stroke="#f09600" stroke-width="1.2"/>
<polygon points="1067.30,389.31 1074.30,401.49 1060.30,401.49" fill="#fff" fill-opacity="0.5" stroke="#f09600" stroke-width="1.2"/>
<polygon points="1069.51,389.77 1076.51,401.95 1062.51,401.95" fill="#fff" fill-opacity="0.5" stroke="#f09600" stroke-width="1.2"/>
<polygon points="1071.71,387.09 1078.71,399.27 1064.71,399.27" fill="#fff" fill-opacity="0.5" stroke="#f09600" stroke-width="1.2"/>
<polygon points="1073.92,386.65 1080.92,398.83 1066.92,398.83" fill="#fff" fill-opacity="0.5" stroke="#f09600" stroke-width="1.2"/>
<polygon points="1076.13,388.13 1083.13,400.31 1069.13,400.31" fill="#fff" fill-opacity="0.5" stroke="#f09600" stroke-width="1.2"/>
<polygon points="1078.33,382.75 1085.33,394.93 1071.33,394.93" fill="#fff" fill-opacity="0.5" stroke="#f09600" stroke-width="1.2"/>
<polygon points="1080.54,385.11 1087.54,397.29 1073.54,397.29" fill="#fff" fill-opacity="0.5" stroke="#f09600" stroke-width="1.2"/>
<polygon points="1082.75,385.50 1089.75,397.68 1075.75,397.68" fill="#fff" fill-opacity="0.5" stroke="#f09600" stroke-width="1.2"/>
<polygon points="1084.95,382.35 1091.95,394.53 1077.95,394.53" fill="#fff" fill-opacity="0.5" stroke="#f09600" stroke-width="1.2"/>
<polygon points="1087.16,381.23 1094.16,393.41 1080.16,393.41" fill="#fff" fill-opacity="0.5" stroke="#f09600" stroke-width="1.2"/>
<polygon points="1089.37,384.11 1096.37,396.29 1082.37,396.29" fill="#fff" fill-opacity="0.5" stroke="#f09600" stroke-width="1.2"/>
<polygon points="1091.58,380.12 1098.58,392.30 1084.58,392.30" fill="#fff" fill-opacity="0.5" stroke="#f09600" stroke-width="1.2"/>
<polygon points="1093.78,379.22 1100.78,391.40 1086.78,391.40" fill="#fff" fill-opacity="0.5" stroke="#f09600" stroke-width="1.2"/>
<polygon points="1095.99,380.10 1102.99,392.28 1088.99,392.28" fill="#fff" fill-opacity="0.5" stroke="#f09600" stroke-width="1.2"/>
<polygon points="1098.20,381.08 1105.20,393.26 1091.20,393.26" fill="#fff" fill-opacity="0.5" stroke="#f09600" stroke-width="1.2"/>
<polygon points="1100.40,376.90 1107.40,389.08 1093.40,389.08" fill="#fff" fill-opacity="0.5" stroke="#f09600" stroke-width="1.2"/>
<polygon points="1102.61,377.62 1109.61,389.80 1095.61,389.80" fill="#fff" fill-opacity="0.5" stroke="#f09600" stroke-width="1.2"/>
<polygon points="1104.82,376.29 1111.82,388.47 1097.82,388.47" fill="#fff" fill-opacity="0.5" stroke="#f09600" stroke-width="1.2"/>
<polygon points="1107.02,377.89 1114.02,390.07 1100.02,390.07" fill="#fff" fill-opacity="0.5" stroke="#f09600" stroke-width="1.2"/>
<polygon points="1109.23,374.12 1116.23,386.30 1102.23,386.30" fill="#fff" fill-opacity="0.5" stroke="#f09600" stroke-width="1.2"/>
<polygon points="1111.44,375.23 1118.44,387.41 1104.44,387.41" fill="#fff" fill-opacity="0.5" stroke="#f09600" stroke-width="1.2"/>
<polygon points="1113.64,369.71 1120.64,381.89 1106.64,381.89" fill="#fff" fill-opacity="0.5" stroke="#f09600" stroke-width="1.2"/>
<polygon points="1115.85,369.31 1122.85,381.49 1108.85,381.49" fill="#fff" fill-opacity="0.5" stroke="#f09600" stroke-width="1.2"/>
<polygon points="1118.06,369.79 1125.06,381.97 1111.06,381.97" fill="#fff" fill-opacity="0.5" stroke="#f09600" stroke-width="1.2"/>
<polygon points="1120.27,369.80 1127.27,381.98 1113.27,381.98" fill="#fff" fill-opacity="0.5" stroke="#f09600" stroke-width="1.2"/>
<polygon points="1122.47,365.80 1129.47,377.98 1115.47,377.98" fill="#fff" fill-opacity="0.5" stroke="#f09600" stroke-width="1.2"/>
<polygon points="1124.68,363.04 1131.68,375.22 1117.68,375.22" fill="#fff" fill-opacity="0.5" stroke="#f09600" stroke-width="1.2"/>
<polygon points="1126.89,360.42 1133.89,372.60 1119.89,372.60" fill="#fff" fill-opacity="0.5" stroke="#f09600" stroke-width="1.2"/>
<polygon points="1129.09,360.87 1136.09,373.05 1122.09,373.05" fill="#fff" fill-opacity="0.5" stroke="#f09600" stroke-width="1.2"/>
<polygon points="1131.30,356.84 1138.30,369.02 1124.30,369.02" fill="#fff" fill-opacity="0.5" stroke="#f09600" stroke-width="1.2"/>
<polygon points="1133.51,358.53 1140.51,370.71 1126.51,370.71" fill="#fff" fill-opacity="0.5" stroke="#f09600" stroke-width="1.2"/>
<polygon points="1135.72,356.72 1142.72,368.90 1128.72,368.90" fill="#fff" fill-opacity="0.5" stroke="#f09600" stroke-width="1.2"/>
<polygon points="1137.92,351.99 1144.92,364.17 1130.92,364.17" fill="#fff" fill-opacity="0.5" stroke="#f09600" stroke-width="1.2"/>
<polygon points="1140.13,351.76 1147.13,363.94 1133.13,363.94" fill="#fff" fill-opacity="0.5" stroke="#f09600" stroke-width="1.2"/>
<polygon points="1142.34,354.14 1149.34,366.32 1135.34,366.32" fill="#fff" fill-opacity="0.5" stroke="#f09600" stroke-width="1.2"/>
<polygon points="1144.54,352.34 1151.54,364.52 1137.54,364.52" fill="#fff" fill-opacity="0.5" stroke="#f09600" stroke-width="1.2"/>
<polygon points="1146.75,352.53 1153.75,364.71 1139.75,364.71" fill="#fff" fill-opacity="0.5" stroke="#f09600" stroke-width="1.2"/>
<polygon points="1148.96,351.76 1155.96,363.94 1141.96,363.94" fill="#fff" fill-opacity="0.5" stroke="#f09600" stroke-width="1.2"/>
<polygon points="1151.16,352.47 1158.16,364.65 1144.16,364.65" fill="#fff" fill-opacity="0.5" stroke="#f09600" stroke-width="1.2"/>
<polygon points="1153.37,355.44 1160.37,367.62 1146.37,367.62" fill="#fff" fill-opacity="0.5" stroke="#f09600" stroke-width="1.2"/>
<polygon points="1155.58,360.46 1162.58,372.64 1148.58,372.64" fill="#fff" fill-opacity="0.5" stroke="#f09600" stroke-width="1.2"/>
<polygon points="1157.79,359.32 1164.79,371.50 1150.79,371.50" fill="#fff" fill-opacity="0.5" stroke="#f09600" stroke-width="1.2"/>
<polygon points="1159.99,359.37 1166.99,371.55 1152.99,371.55" fill="#fff" fill-opacity="0.5" stroke="#f09600" stroke-width="1.2"/>
<polygon points="1162.20,359.39 1169.20,371.57 1155.20,371.57" fill="#fff" fill-opacity="0.5" stroke="#f09600" stroke-width="1.2"/>
<polygon points="1164.41,359.01 1171.41,371.19 1157.41,371.19" fill="#fff" fill-opacity="0.5" stroke="#f09600" stroke-width="1.2"/>
<polygon points="1166.61,358.55 1173.61,370.73 1159.61,370.73" fill="#fff" fill-opacity="0.5" stroke="#f09600" stroke-width="1.2"/>
<polygon points="1168.82,361.22 1175.82,373.40 1161.82,373.40" fill="#fff" fill-opacity="0.5" stroke="#f09600" stroke-width="1.2"/>
</g>
<rect x="760.60" y="335.30" width="585.20" height="132.20" stroke="#000" stroke-width="2.8" fill="none"/>
<line x1="815.70" y1="467.50" x2="815.70" y2="454.00" stroke="#000" stroke-width="2.8"/>
<line x1="870.88" y1="467.50" x2="870.88" y2="460.50" stroke="#000" stroke-width="2.8"/>
<line x1="926.05" y1="467.50" x2="926.05" y2="454.00" stroke="#000" stroke-width="2.8"/>
<line x1="981.23" y1="467.50" x2="981.23" y2="460.50" stroke="#000" stroke-width="2.8"/>
<line x1="1036.40" y1="467.50" x2="1036.40" y2="454.00" stroke="#000" stroke-width="2.8"/>
<line x1="1091.58" y1="467.50" x2="1091.58" y2="460.50" stroke="#000" stroke-width="2.8"/>
<line x1="1146.75" y1="467.50" x2="1146.75" y2="454.00" stroke="#000" stroke-width="2.8"/>
<line x1="1201.92" y1="467.50" x2="1201.92" y2="460.50" stroke="#000" stroke-width="2.8"/>
<line x1="1257.10" y1="467.50" x2="1257.10" y2="454.00" stroke="#000" stroke-width="2.8"/>
<line x1="1312.28" y1="467.50" x2="1312.28" y2="460.50" stroke="#000" stroke-width="2.8"/>
<line x1="760.60" y1="445.45" x2="767.60" y2="445.45" stroke="#000" stroke-width="2.8"/>
<line x1="1345.80" y1="445.45" x2="1338.80" y2="445.45" stroke="#000" stroke-width="2.8"/>
<line x1="760.60" y1="423.40" x2="774.10" y2="423.40" stroke="#000" stroke-width="2.8"/>
<line x1="1345.80" y1="423.40" x2="1332.30" y2="423.40" stroke="#000" stroke-width="2.8"/>
<line x1="760.60" y1="401.35" x2="767.60" y2="401.35" stroke="#000" stroke-width="2.8"/>
<line x1="1345.80" y1="401.35" x2="1338.80" y2="401.35" stroke="#000" stroke-width="2.8"/>
<line x1="760.60" y1="379.30" x2="774.10" y2="379.30" stroke="#000" stroke-width="2.8"/>
<line x1="1345.80" y1="379.30" x2="1332.30" y2="379.30" stroke="#000" stroke-width="2.8"/>
<line x1="760.60" y1="357.25" x2="767.60" y2="357.25" stroke="#000" stroke-width="2.8"/>
<line x1="1345.80" y1="357.25" x2="1338.80" y2="357.25" stroke="#000" stroke-width="2.8"/>
<g clip-path="url(#sp3)">
<path d="M760.60,528.60 C762.35,528.75 765.63,528.38 771.10,529.50 C776.57,530.62 787.83,534.08 793.40,535.30 C798.97,536.52 798.93,535.80 804.50,536.80 C810.07,537.80 815.65,539.62 826.80,541.30 C837.95,542.98 856.55,545.23 871.40,546.90 C886.25,548.57 902.92,550.48 915.90,551.30 C928.88,552.12 938.17,551.98 949.30,551.80 C960.43,551.62 973.42,550.95 982.70,550.20 C991.98,549.45 997.57,548.60 1005.00,547.30 C1012.43,546.00 1020.75,543.80 1027.30,542.40 C1033.85,541.00 1037.42,540.50 1044.30,538.90 C1051.18,537.30 1060.52,535.03 1068.60,532.80 C1076.68,530.57 1084.72,528.13 1092.80,525.50 C1100.88,522.87 1109.00,520.23 1117.10,517.00 C1125.20,513.77 1133.30,509.73 1141.40,506.10 C1149.50,502.47 1157.60,498.63 1165.70,495.20 C1173.80,491.77 1181.92,488.22 1190.00,485.50 C1198.08,482.78 1207.33,480.12 1214.20,478.90 C1221.07,477.68 1225.13,477.72 1231.20,478.20 C1237.27,478.68 1243.32,479.78 1250.60,481.80 C1257.88,483.82 1266.80,486.65 1274.90,490.30 C1283.00,493.95 1293.13,500.45 1299.20,503.70 C1305.27,506.95 1305.63,507.98 1311.30,509.80 C1316.97,511.62 1327.55,512.47 1333.20,514.60 C1338.85,516.73 1343.20,521.27 1345.20,522.60" fill="none" stroke="#e2041a" stroke-width="2.0" stroke-linejoin="round" stroke-linecap="round"/>
<line x1="1036.40" y1="537.12" x2="1036.40" y2="579.12" stroke="#e2041a" stroke-width="1.0" stroke-opacity="0.75"/>
<line x1="1030.40" y1="537.12" x2="1042.40" y2="537.12" stroke="#e2041a" stroke-width="1.0" stroke-opacity="0.75"/>
<line x1="1030.40" y1="579.12" x2="1042.40" y2="579.12" stroke="#e2041a" stroke-width="1.0" stroke-opacity="0.75"/>
<line x1="1038.61" y1="535.94" x2="1038.61" y2="578.40" stroke="#e2041a" stroke-width="1.0" stroke-opacity="0.75"/>
<line x1="1032.61" y1="535.94" x2="1044.61" y2="535.94" stroke="#e2041a" stroke-width="1.0" stroke-opacity="0.75"/>
<line x1="1032.61" y1="578.40" x2="1044.61" y2="578.40" stroke="#e2041a" stroke-width="1.0" stroke-opacity="0.75"/>
<line x1="1040.81" y1="539.11" x2="1040.81" y2="582.04" stroke="#e2041a" stroke-width="1.0" stroke-opacity="0.75"/>
<line x1="1034.81" y1="539.11" x2="1046.81" y2="539.11" stroke="#e2041a" stroke-width="1.0" stroke-opacity="0.75"/>
<line x1="1034.81" y1="582.04" x2="1046.81" y2="582.04" stroke="#e2041a" stroke-width="1.0" stroke-opacity="0.75"/>
<line x1="1043.02" y1="538.27" x2="1043.02" y2="581.67" stroke="#e2041a" stroke-width="1.0" stroke-opacity="0.75"/>
<line x1="1037.02" y1="538.27" x2="1049.02" y2="538.27" stroke="#e2041a" stroke-width="1.0" stroke-opacity="0.75"/>
<line x1="1037.02" y1="581.67" x2="1049.02" y2="581.67" stroke="#e2041a" stroke-width="1.0" stroke-opacity="0.75"/>
<line x1="1045.23" y1="538.11" x2="1045.23" y2="581.98" stroke="#e2041a" stroke-width="1.0" stroke-opacity="0.75"/>
<line x1="1039.23" y1="538.11" x2="1051.23" y2="538.11" stroke="#e2041a" stroke-width="1.0" stroke-opacity="0.75"/>
<line x1="1039.23" y1="581.98" x2="1051.23" y2="581.98" stroke="#e2041a" stroke-width="1.0" stroke-opacity="0.75"/>
<line x1="1047.43" y1="535.32" x2="1047.43" y2="579.65" stroke="#e2041a" stroke-width="1.0" stroke-opacity="0.75"/>
<line x1="1041.43" y1="535.32" x2="1053.43" y2="535.32" stroke="#e2041a" stroke-width="1.0" stroke-opacity="0.75"/>
<line x1="1041.43" y1="579.65" x2="1053.43" y2="579.65" stroke="#e2041a" stroke-width="1.0" stroke-opacity="0.75"/>
<line x1="1049.64" y1="536.80" x2="1049.64" y2="581.60" stroke="#e2041a" stroke-width="1.0" stroke-opacity="0.75"/>
<line x1="1043.64" y1="536.80" x2="1055.64" y2="536.80" stroke="#e2041a" stroke-width="1.0" stroke-opacity="0.75"/>
<line x1="1043.64" y1="581.60" x2="1055.64" y2="581.60" stroke="#e2041a" stroke-width="1.0" stroke-opacity="0.75"/>
<line x1="1051.85" y1="536.13" x2="1051.85" y2="581.39" stroke="#e2041a" stroke-width="1.0" stroke-opacity="0.75"/>
<line x1="1045.85" y1="536.13" x2="1057.85" y2="536.13" stroke="#e2041a" stroke-width="1.0" stroke-opacity="0.75"/>
<line x1="1045.85" y1="581.39" x2="1057.85" y2="581.39" stroke="#e2041a" stroke-width="1.0" stroke-opacity="0.75"/>
<line x1="1054.06" y1="532.72" x2="1054.06" y2="578.46" stroke="#e2041a" stroke-width="1.0" stroke-opacity="0.75"/>
<line x1="1048.06" y1="532.72" x2="1060.06" y2="532.72" stroke="#e2041a" stroke-width="1.0" stroke-opacity="0.75"/>
<line x1="1048.06" y1="578.46" x2="1060.06" y2="578.46" stroke="#e2041a" stroke-width="1.0" stroke-opacity="0.75"/>
<line x1="1056.26" y1="534.23" x2="1056.26" y2="580.43" stroke="#e2041a" stroke-width="1.0" stroke-opacity="0.75"/>
<line x1="1050.26" y1="534.23" x2="1062.26" y2="534.23" stroke="#e2041a" stroke-width="1.0" stroke-opacity="0.75"/>
<line x1="1050.26" y1="580.43" x2="1062.26" y2="580.43" stroke="#e2041a" stroke-width="1.0" stroke-opacity="0.75"/>
<line x1="1058.47" y1="534.01" x2="1058.47" y2="580.68" stroke="#e2041a" stroke-width="1.0" stroke-opacity="0.75"/>
<line x1="1052.47" y1="534.01" x2="1064.47" y2="534.01" stroke="#e2041a" stroke-width="1.0" stroke-opacity="0.75"/>
<line x1="1052.47" y1="580.68" x2="1064.47" y2="580.68" stroke="#e2041a" stroke-width="1.0" stroke-opacity="0.75"/>
<line x1="1060.68" y1="532.49" x2="1060.68" y2="579.62" stroke="#e2041a" stroke-width="1.0" stroke-opacity="0.75"/>
<line x1="1054.68" y1="532.49" x2="1066.68" y2="532.49" stroke="#e2041a" stroke-width="1.0" stroke-opacity="0.75"/>
<line x1="1054.68" y1="579.62" x2="1066.68" y2="579.62" stroke="#e2041a" stroke-width="1.0" stroke-opacity="0.75"/>
<line x1="1062.88" y1="531.08" x2="1062.88" y2="578.68" stroke="#e2041a" stroke-width="1.0" stroke-opacity="0.75"/>
<line x1="1056.88" y1="531.08" x2="1068.88" y2="531.08" stroke="#e2041a" stroke-width="1.0" stroke-opacity="0.75"/>
<line x1="1056.88" y1="578.68" x2="1068.88" y2="578.68" stroke="#e2041a" stroke-width="1.0" stroke-opacity="0.75"/>
<line x1="1065.09" y1="529.32" x2="1065.09" y2="577.39" stroke="#e2041a" stroke-width="1.0" stroke-opacity="0.75"/>
<line x1="1059.09" y1="529.32" x2="1071.09" y2="529.32" stroke="#e2041a" stroke-width="1.0" stroke-opacity="0.75"/>
<line x1="1059.09" y1="577.39" x2="1071.09" y2="577.39" stroke="#e2041a" stroke-width="1.0" stroke-opacity="0.75"/>
<line x1="1067.30" y1="528.70" x2="1067.30" y2="577.23" stroke="#e2041a" stroke-width="1.0" stroke-opacity="0.75"/>
<line x1="1061.30" y1="528.70" x2="1073.30" y2="528.70" stroke="#e2041a" stroke-width="1.0" stroke-opacity="0.75"/>
<line x1="1061.30" y1="577.23" x2="1073.30" y2="577.23" stroke="#e2041a" stroke-width="1.0" stroke-opacity="0.75"/>
<line x1="1069.51" y1="527.41" x2="1069.51" y2="576.41" stroke="#e2041a" stroke-width="1.0" stroke-opacity="0.75"/>
<line x1="1063.51" y1="527.41" x2="1075.51" y2="527.41" stroke="#e2041a" stroke-width="1.0" stroke-opacity="0.75"/>
<line x1="1063.51" y1="576.41" x2="1075.51" y2="576.41" stroke="#e2041a" stroke-width="1.0" stroke-opacity="0.75"/>
<line x1="1071.71" y1="525.94" x2="1071.71" y2="575.41" stroke="#e2041a" stroke-width="1.0" stroke-opacity="0.75"/>
<line x1="1065.71" y1="525.94" x2="1077.71" y2="525.94" stroke="#e2041a" stroke-width="1.0" stroke-opacity="0.75"/>
<line x1="1065.71" y1="575.41" x2="1077.71" y2="575.41" stroke="#e2041a" stroke-width="1.0" stroke-opacity="0.75"/>
<line x1="1073.92" y1="527.19" x2="1073.92" y2="577.12" stroke="#e2041a" stroke-width="1.0" stroke-opacity="0.75"/>
<line x1="1067.92" y1="527.19" x2="1079.92" y2="527.19" stroke="#e2041a" stroke-width="1.0" stroke-opacity="0.75"/>
<line x1="1067.92" y1="577.12" x2="1079.92" y2="577.12" stroke="#e2041a" stroke-width="1.0" stroke-opacity="0.75"/>
<line x1="1076.13" y1="525.15" x2="1076.13" y2="575.55" stroke="#e2041a" stroke-width="1.0" stroke-opacity="0.75"/>
<line x1="1070.13" y1="525.15" x2="1082.13" y2="525.15" stroke="#e2041a" stroke-width="1.0" stroke-opacity="0.75"/>
<line x1="1070.13" y1="575.55" x2="1082.13" y2="575.55" stroke="#e2041a" stroke-width="1.0" stroke-opacity="0.75"/>
<line x1="1078.33" y1="526.41" x2="1078.33" y2="577.27" stroke="#e2041a" stroke-width="1.0" stroke-opacity="0.75"/>
<line x1="1072.33" y1="526.41" x2="1084.33" y2="526.41" stroke="#e2041a" stroke-width="1.0" stroke-opacity="0.75"/>
<line x1="1072.33" y1="577.27" x2="1084.33" y2="577.27" stroke="#e2041a" stroke-width="1.0" stroke-opacity="0.75"/>
<line x1="1080.54" y1="522.51" x2="1080.54" y2="573.85" stroke="#e2041a" stroke-width="1.0" stroke-opacity="0.75"/>
<line x1="1074.54" y1="522.51" x2="1086.54" y2="522.51" stroke="#e2041a" stroke-width="1.0" stroke-opacity="0.75"/>
<line x1="1074.54" y1="573.85" x2="1086.54" y2="573.85" stroke="#e2041a" stroke-width="1.0" stroke-opacity="0.75"/>
<line x1="1082.75" y1="524.91" x2="1082.75" y2="576.71" stroke="#e2041a" stroke-width="1.0" stroke-opacity="0.75"/>
<line x1="1076.75" y1="524.91" x2="1088.75" y2="524.91" stroke="#e2041a" stroke-width="1.0" stroke-opacity="0.75"/>
<line x1="1076.75" y1="576.71" x2="1088.75" y2="576.71" stroke="#e2041a" stroke-width="1.0" stroke-opacity="0.75"/>
<line x1="1084.95" y1="523.04" x2="1084.95" y2="575.31" stroke="#e2041a" stroke-width="1.0" stroke-opacity="0.75"/>
<line x1="1078.95" y1="523.04" x2="1090.95" y2="523.04" stroke="#e2041a" stroke-width="1.0" stroke-opacity="0.75"/>
<line x1="1078.95" y1="575.31" x2="1090.95" y2="575.31" stroke="#e2041a" stroke-width="1.0" stroke-opacity="0.75"/>
<line x1="1087.16" y1="522.93" x2="1087.16" y2="575.66" stroke="#e2041a" stroke-width="1.0" stroke-opacity="0.75"/>
<line x1="1081.16" y1="522.93" x2="1093.16" y2="522.93" stroke="#e2041a" stroke-width="1.0" stroke-opacity="0.75"/>
<line x1="1081.16" y1="575.66" x2="1093.16" y2="575.66" stroke="#e2041a" stroke-width="1.0" stroke-opacity="0.75"/>
<line x1="1089.37" y1="521.79" x2="1089.37" y2="574.99" stroke="#e2041a" stroke-width="1.0" stroke-opacity="0.75"/>
<line x1="1083.37" y1="521.79" x2="1095.37" y2="521.79" stroke="#e2041a" stroke-width="1.0" stroke-opacity="0.75"/>
<line x1="1083.37" y1="574.99" x2="1095.37" y2="574.99" stroke="#e2041a" stroke-width="1.0" stroke-opacity="0.75"/>
<line x1="1091.58" y1="520.77" x2="1091.58" y2="574.43" stroke="#e2041a" stroke-width="1.0" stroke-opacity="0.75"/>
<line x1="1085.58" y1="520.77" x2="1097.58" y2="520.77" stroke="#e2041a" stroke-width="1.0" stroke-opacity="0.75"/>
<line x1="1085.58" y1="574.43" x2="1097.58" y2="574.43" stroke="#e2041a" stroke-width="1.0" stroke-opacity="0.75"/>
<line x1="1093.78" y1="518.44" x2="1093.78" y2="572.57" stroke="#e2041a" stroke-width="1.0" stroke-opacity="0.75"/>
<line x1="1087.78" y1="518.44" x2="1099.78" y2="518.44" stroke="#e2041a" stroke-width="1.0" stroke-opacity="0.75"/>
<line x1="1087.78" y1="572.57" x2="1099.78" y2="572.57" stroke="#e2041a" stroke-width="1.0" stroke-opacity="0.75"/>
<line x1="1095.99" y1="515.15" x2="1095.99" y2="569.75" stroke="#e2041a" stroke-width="1.0" stroke-opacity="0.75"/>
<line x1="1089.99" y1="515.15" x2="1101.99" y2="515.15" stroke="#e2041a" stroke-width="1.0" stroke-opacity="0.75"/>
<line x1="1089.99" y1="569.75" x2="1101.99" y2="569.75" stroke="#e2041a" stroke-width="1.0" stroke-opacity="0.75"/>
<line x1="1098.20" y1="517.05" x2="1098.20" y2="572.11" stroke="#e2041a" stroke-width="1.0" stroke-opacity="0.75"/>
<line x1="1092.20" y1="517.05" x2="1104.20" y2="517.05" stroke="#e2041a" stroke-width="1.0" stroke-opacity="0.75"/>
<line x1="1092.20" y1="572.11" x2="1104.20" y2="572.11" stroke="#e2041a" stroke-width="1.0" stroke-opacity="0.75"/>
<line x1="1100.40" y1="513.72" x2="1100.40" y2="569.25" stroke="#e2041a" stroke-width="1.0" stroke-opacity="0.75"/>
<line x1="1094.40" y1="513.72" x2="1106.40" y2="513.72" stroke="#e2041a" stroke-width="1.0" stroke-opacity="0.75"/>
<line x1="1094.40" y1="569.25" x2="1106.40" y2="569.25" stroke="#e2041a" stroke-width="1.0" stroke-opacity="0.75"/>
<line x1="1102.61" y1="513.20" x2="1102.61" y2="569.20" stroke="#e2041a" stroke-width="1.0" stroke-opacity="0.75"/>
<line x1="1096.61" y1="513.20" x2="1108.61" y2="513.20" stroke="#e2041a" stroke-width="1.0" stroke-opacity="0.75"/>
<line x1="1096.61" y1="569.20" x2="1108.61" y2="569.20" stroke="#e2041a" stroke-width="1.0" stroke-opacity="0.75"/>
<line x1="1104.82" y1="513.42" x2="1104.82" y2="569.88" stroke="#e2041a" stroke-width="1.0" stroke-opacity="0.75"/>
<line x1="1098.82" y1="513.42" x2="1110.82" y2="513.42" stroke="#e2041a" stroke-width="1.0" stroke-opacity="0.75"/>
<line x1="1098.82" y1="569.88" x2="1110.82" y2="569.88" stroke="#e2041a" stroke-width="1.0" stroke-opacity="0.75"/>
<line x1="1107.02" y1="511.63" x2="1107.02" y2="568.57" stroke="#e2041a" stroke-width="1.0" stroke-opacity="0.75"/>
<line x1="1101.02" y1="511.63" x2="1113.02" y2="511.63" stroke="#e2041a" stroke-width="1.0" stroke-opacity="0.75"/>
<line x1="1101.02" y1="568.57" x2="1113.02" y2="568.57" stroke="#e2041a" stroke-width="1.0" stroke-opacity="0.75"/>
<line x1="1109.23" y1="509.96" x2="1109.23" y2="567.36" stroke="#e2041a" stroke-width="1.0" stroke-opacity="0.75"/>
<line x1="1103.23" y1="509.96" x2="1115.23" y2="509.96" stroke="#e2041a" stroke-width="1.0" stroke-opacity="0.75"/>
<line x1="1103.23" y1="567.36" x2="1115.23" y2="567.36" stroke="#e2041a" stroke-width="1.0" stroke-opacity="0.75"/>
<line x1="1111.44" y1="510.82" x2="1111.44" y2="568.69" stroke="#e2041a" stroke-width="1.0" stroke-opacity="0.75"/>
<line x1="1105.44" y1="510.82" x2="1117.44" y2="510.82" stroke="#e2041a" stroke-width="1.0" stroke-opacity="0.75"/>
<line x1="1105.44" y1="568.69" x2="1117.44" y2="568.69" stroke="#e2041a" stroke-width="1.0" stroke-opacity="0.75"/>
<line x1="1113.64" y1="508.28" x2="1113.64" y2="566.62" stroke="#e2041a" stroke-width="1.0" stroke-opacity="0.75"/>
<line x1="1107.64" y1="508.28" x2="1119.64" y2="508.28" stroke="#e2041a" stroke-width="1.0" stroke-opacity="0.75"/>
<line x1="1107.64" y1="566.62" x2="1119.64" y2="566.62" stroke="#e2041a" stroke-width="1.0" stroke-opacity="0.75"/>
<line x1="1115.85" y1="505.97" x2="1115.85" y2="564.77" stroke="#e2041a" stroke-width="1.0" stroke-opacity="0.75"/>
<line x1="1109.85" y1="505.97" x2="1121.85" y2="505.97" stroke="#e2041a" stroke-width="1.0" stroke-opacity="0.75"/>
<line x1="1109.85" y1="564.77" x2="1121.85" y2="564.77" stroke="#e2041a" stroke-width="1.0" stroke-opacity="0.75"/>
<line x1="1118.06" y1="504.38" x2="1118.06" y2="563.64" stroke="#e2041a" stroke-width="1.0" stroke-opacity="0.75"/>
<line x1="1112.06" y1="504.38" x2="1124.06" y2="504.38" stroke="#e2041a" stroke-width="1.0" stroke-opacity="0.75"/>
<line x1="1112.06" y1="563.64" x2="1124.06" y2="563.64" stroke="#e2041a" stroke-width="1.0" stroke-opacity="0.75"/>
<line x1="1120.27" y1="505.58" x2="1120.27" y2="565.31" stroke="#e2041a" stroke-width="1.0" stroke-opacity="0.75"/>
<line x1="1114.27" y1="505.58" x2="1126.27" y2="505.58" stroke="#e2041a" stroke-width="1.0" stroke-opacity="0.75"/>
<line x1="1114.27" y1="565.31" x2="1126.27" y2="565.31" stroke="#e2041a" stroke-width="1.0" stroke-opacity="0.75"/>
<line x1="1122.47" y1="502.81" x2="1122.47" y2="563.01" stroke="#e2041a" stroke-width="1.0" stroke-opacity="0.75"/>
<line x1="1116.47" y1="502.81" x2="1128.47" y2="502.81" stroke="#e2041a" stroke-width="1.0" stroke-opacity="0.75"/>
<line x1="1116.47" y1="563.01" x2="1128.47" y2="563.01" stroke="#e2041a" stroke-width="1.0" stroke-opacity="0.75"/>
<line x1="1124.68" y1="502.80" x2="1124.68" y2="563.46" stroke="#e2041a" stroke-width="1.0" stroke-opacity="0.75"/>
<line x1="1118.68" y1="502.80" x2="1130.68" y2="502.80" stroke="#e2041a" stroke-width="1.0" stroke-opacity="0.75"/>
<line x1="1118.68" y1="563.46" x2="1130.68" y2="563.46" stroke="#e2041a" stroke-width="1.0" stroke-opacity="0.75"/>
<line x1="1126.89" y1="499.44" x2="1126.89" y2="560.57" stroke="#e2041a" stroke-width="1.0" stroke-opacity="0.75"/>
<line x1="1120.89" y1="499.44" x2="1132.89" y2="499.44" stroke="#e2041a" stroke-width="1.0" stroke-opacity="0.75"/>
<line x1="1120.89" y1="560.57" x2="1132.89" y2="560.57" stroke="#e2041a" stroke-width="1.0" stroke-opacity="0.75"/>
<line x1="1129.09" y1="497.19" x2="1129.09" y2="558.79" stroke="#e2041a" stroke-width="1.0" stroke-opacity="0.75"/>
<line x1="1123.09" y1="497.19" x2="1135.09" y2="497.19" stroke="#e2041a" stroke-width="1.0" stroke-opacity="0.75"/>
<line x1="1123.09" y1="558.79" x2="1135.09" y2="558.79" stroke="#e2041a" stroke-width="1.0" stroke-opacity="0.75"/>
<line x1="1131.30" y1="496.91" x2="1131.30" y2="558.97" stroke="#e2041a" stroke-width="1.0" stroke-opacity="0.75"/>
<line x1="1125.30" y1="496.91" x2="1137.30" y2="496.91" stroke="#e2041a" stroke-width="1.0" stroke-opacity="0.75"/>
<line x1="1125.30" y1="558.97" x2="1137.30" y2="558.97" stroke="#e2041a" stroke-width="1.0" stroke-opacity="0.75"/>
<line x1="1133.51" y1="496.40" x2="1133.51" y2="558.93" stroke="#e2041a" stroke-width="1.0" stroke-opacity="0.75"/>
<line x1="1127.51" y1="496.40" x2="1139.51" y2="496.40" stroke="#e2041a" stroke-width="1.0" stroke-opacity="0.75"/>
<line x1="1127.51" y1="558.93" x2="1139.51" y2="558.93" stroke="#e2041a" stroke-width="1.0" stroke-opacity="0.75"/>
<line x1="1135.72" y1="492.19" x2="1135.72" y2="555.19" stroke="#e2041a" stroke-width="1.0" stroke-opacity="0.75"/>
<line x1="1129.72" y1="492.19" x2="1141.72" y2="492.19" stroke="#e2041a" stroke-width="1.0" stroke-opacity="0.75"/>
<line x1="1129.72" y1="555.19" x2="1141.72" y2="555.19" stroke="#e2041a" stroke-width="1.0" stroke-opacity="0.75"/>
<line x1="1137.92" y1="493.43" x2="1137.92" y2="556.90" stroke="#e2041a" stroke-width="1.0" stroke-opacity="0.75"/>
<line x1="1131.92" y1="493.43" x2="1143.92" y2="493.43" stroke="#e2041a" stroke-width="1.0" stroke-opacity="0.75"/>
<line x1="1131.92" y1="556.90" x2="1143.92" y2="556.90" stroke="#e2041a" stroke-width="1.0" stroke-opacity="0.75"/>
<line x1="1140.13" y1="492.72" x2="1140.13" y2="556.65" stroke="#e2041a" stroke-width="1.0" stroke-opacity="0.75"/>
<line x1="1134.13" y1="492.72" x2="1146.13" y2="492.72" stroke="#e2041a" stroke-width="1.0" stroke-opacity="0.75"/>
<line x1="1134.13" y1="556.65" x2="1146.13" y2="556.65" stroke="#e2041a" stroke-width="1.0" stroke-opacity="0.75"/>
<line x1="1142.34" y1="491.02" x2="1142.34" y2="555.42" stroke="#e2041a" stroke-width="1.0" stroke-opacity="0.75"/>
<line x1="1136.34" y1="491.02" x2="1148.34" y2="491.02" stroke="#e2041a" stroke-width="1.0" stroke-opacity="0.75"/>
<line x1="1136.34" y1="555.42" x2="1148.34" y2="555.42" stroke="#e2041a" stroke-width="1.0" stroke-opacity="0.75"/>
<line x1="1144.54" y1="489.86" x2="1144.54" y2="554.73" stroke="#e2041a" stroke-width="1.0" stroke-opacity="0.75"/>
<line x1="1138.54" y1="489.86" x2="1150.54" y2="489.86" stroke="#e2041a" stroke-width="1.0" stroke-opacity="0.75"/>
<line x1="1138.54" y1="554.73" x2="1150.54" y2="554.73" stroke="#e2041a" stroke-width="1.0" stroke-opacity="0.75"/>
<line x1="1146.75" y1="485.36" x2="1146.75" y2="550.70" stroke="#e2041a" stroke-width="1.0" stroke-opacity="0.75"/>
<line x1="1140.75" y1="485.36" x2="1152.75" y2="485.36" stroke="#e2041a" stroke-width="1.0" stroke-opacity="0.75"/>
<line x1="1140.75" y1="550.70" x2="1152.75" y2="550.70" stroke="#e2041a" stroke-width="1.0" stroke-opacity="0.75"/>
<line x1="1148.96" y1="488.01" x2="1148.96" y2="553.81" stroke="#e2041a" stroke-width="1.0" stroke-opacity="0.75"/>
<line x1="1142.96" y1="488.01" x2="1154.96" y2="488.01" stroke="#e2041a" stroke-width="1.0" stroke-opacity="0.75"/>
<line x1="1142.96" y1="553.81" x2="1154.96" y2="553.81" stroke="#e2041a" stroke-width="1.0" stroke-opacity="0.75"/>
<line x1="1151.16" y1="489.12" x2="1151.16" y2="555.38" stroke="#e2041a" stroke-width="1.0" stroke-opacity="0.75"/>
<line x1="1145.16" y1="489.12" x2="1157.16" y2="489.12" stroke="#e2041a" stroke-width="1.0" stroke-opacity="0.75"/>
<line x1="1145.16" y1="555.38" x2="1157.16" y2="555.38" stroke="#e2041a" stroke-width="1.0" stroke-opacity="0.75"/>
<line x1="1153.37" y1="486.03" x2="1153.37" y2="552.77" stroke="#e2041a" stroke-width="1.0" stroke-opacity="0.75"/>
<line x1="1147.37" y1="486.03" x2="1159.37" y2="486.03" stroke="#e2041a" stroke-width="1.0" stroke-opacity="0.75"/>
<line x1="1147.37" y1="552.77" x2="1159.37" y2="552.77" stroke="#e2041a" stroke-width="1.0" stroke-opacity="0.75"/>
<line x1="1155.58" y1="487.09" x2="1155.58" y2="554.29" stroke="#e2041a" stroke-width="1.0" stroke-opacity="0.75"/>
<line x1="1149.58" y1="487.09" x2="1161.58" y2="487.09" stroke="#e2041a" stroke-width="1.0" stroke-opacity="0.75"/>
<line x1="1149.58" y1="554.29" x2="1161.58" y2="554.29" stroke="#e2041a" stroke-width="1.0" stroke-opacity="0.75"/>
<line x1="1157.79" y1="487.24" x2="1157.79" y2="554.91" stroke="#e2041a" stroke-width="1.0" stroke-opacity="0.75"/>
<line x1="1151.79" y1="487.24" x2="1163.79" y2="487.24" stroke="#e2041a" stroke-width="1.0" stroke-opacity="0.75"/>
<line x1="1151.79" y1="554.91" x2="1163.79" y2="554.91" stroke="#e2041a" stroke-width="1.0" stroke-opacity="0.75"/>
<line x1="1159.99" y1="486.84" x2="1159.99" y2="554.98" stroke="#e2041a" stroke-width="1.0" stroke-opacity="0.75"/>
<line x1="1153.99" y1="486.84" x2="1165.99" y2="486.84" stroke="#e2041a" stroke-width="1.0" stroke-opacity="0.75"/>
<line x1="1153.99" y1="554.98" x2="1165.99" y2="554.98" stroke="#e2041a" stroke-width="1.0" stroke-opacity="0.75"/>
<line x1="1162.20" y1="484.99" x2="1162.20" y2="553.59" stroke="#e2041a" stroke-width="1.0" stroke-opacity="0.75"/>
<line x1="1156.20" y1="484.99" x2="1168.20" y2="484.99" stroke="#e2041a" stroke-width="1.0" stroke-opacity="0.75"/>
<line x1="1156.20" y1="553.59" x2="1168.20" y2="553.59" stroke="#e2041a" stroke-width="1.0" stroke-opacity="0.75"/>
<line x1="1164.41" y1="483.76" x2="1164.41" y2="552.82" stroke="#e2041a" stroke-width="1.0" stroke-opacity="0.75"/>
<line x1="1158.41" y1="483.76" x2="1170.41" y2="483.76" stroke="#e2041a" stroke-width="1.0" stroke-opacity="0.75"/>
<line x1="1158.41" y1="552.82" x2="1170.41" y2="552.82" stroke="#e2041a" stroke-width="1.0" stroke-opacity="0.75"/>
<line x1="1166.61" y1="483.54" x2="1166.61" y2="553.07" stroke="#e2041a" stroke-width="1.0" stroke-opacity="0.75"/>
<line x1="1160.61" y1="483.54" x2="1172.61" y2="483.54" stroke="#e2041a" stroke-width="1.0" stroke-opacity="0.75"/>
<line x1="1160.61" y1="553.07" x2="1172.61" y2="553.07" stroke="#e2041a" stroke-width="1.0" stroke-opacity="0.75"/>
<line x1="1168.82" y1="479.01" x2="1168.82" y2="549.01" stroke="#e2041a" stroke-width="1.0" stroke-opacity="0.75"/>
<line x1="1162.82" y1="479.01" x2="1174.82" y2="479.01" stroke="#e2041a" stroke-width="1.0" stroke-opacity="0.75"/>
<line x1="1162.82" y1="549.01" x2="1174.82" y2="549.01" stroke="#e2041a" stroke-width="1.0" stroke-opacity="0.75"/>
<polygon points="1036.40,551.62 1042.90,558.12 1036.40,564.62 1029.90,558.12" fill="#fff" fill-opacity="0.6" stroke="#e2041a" stroke-width="1.2"/>
<polygon points="1038.61,550.67 1045.11,557.17 1038.61,563.67 1032.11,557.17" fill="#fff" fill-opacity="0.6" stroke="#e2041a" stroke-width="1.2"/>
<polygon points="1040.81,554.07 1047.31,560.57 1040.81,567.07 1034.31,560.57" fill="#fff" fill-opacity="0.6" stroke="#e2041a" stroke-width="1.2"/>
<polygon points="1043.02,553.47 1049.52,559.97 1043.02,566.47 1036.52,559.97" fill="#fff" fill-opacity="0.6" stroke="#e2041a" stroke-width="1.2"/>
<polygon points="1045.23,553.55 1051.73,560.05 1045.23,566.55 1038.73,560.05" fill="#fff" fill-opacity="0.6" stroke="#e2041a" stroke-width="1.2"/>
<polygon points="1047.43,550.99 1053.93,557.49 1047.43,563.99 1040.93,557.49" fill="#fff" fill-opacity="0.6" stroke="#e2041a" stroke-width="1.2"/>
<polygon points="1049.64,552.70 1056.14,559.20 1049.64,565.70 1043.14,559.20" fill="#fff" fill-opacity="0.6" stroke="#e2041a" stroke-width="1.2"/>
<polygon points="1051.85,552.26 1058.35,558.76 1051.85,565.26 1045.35,558.76" fill="#fff" fill-opacity="0.6" stroke="#e2041a" stroke-width="1.2"/>
<polygon points="1054.06,549.09 1060.56,555.59 1054.06,562.09 1047.56,555.59" fill="#fff" fill-opacity="0.6" stroke="#e2041a" stroke-width="1.2"/>
<polygon points="1056.26,550.83 1062.76,557.33 1056.26,563.83 1049.76,557.33" fill="#fff" fill-opacity="0.6" stroke="#e2041a" stroke-width="1.2"/>
<polygon points="1058.47,550.85 1064.97,557.35 1058.47,563.85 1051.97,557.35" fill="#fff" fill-opacity="0.6" stroke="#e2041a" stroke-width="1.2"/>
<polygon points="1060.68,549.55 1067.18,556.05 1060.68,562.55 1054.18,556.05" fill="#fff" fill-opacity="0.6" stroke="#e2041a" stroke-width="1.2"/>
<polygon points="1062.88,548.38 1069.38,554.88 1062.88,561.38 1056.38,554.88" fill="#fff" fill-opacity="0.6" stroke="#e2041a" stroke-width="1.2"/>
<polygon points="1065.09,546.86 1071.59,553.36 1065.09,559.86 1058.59,553.36" fill="#fff" fill-opacity="0.6" stroke="#e2041a" stroke-width="1.2"/>
<polygon points="1067.30,546.46 1073.80,552.96 1067.30,559.46 1060.80,552.96" fill="#fff" fill-opacity="0.6" stroke="#e2041a" stroke-width="1.2"/>
<polygon points="1069.51,545.41 1076.01,551.91 1069.51,558.41 1063.01,551.91" fill="#fff" fill-opacity="0.6" stroke="#e2041a" stroke-width="1.2"/>
<polygon points="1071.71,544.17 1078.21,550.67 1071.71,557.17 1065.21,550.67" fill="#fff" fill-opacity="0.6" stroke="#e2041a" stroke-width="1.2"/>
<polygon points="1073.92,545.65 1080.42,552.15 1073.92,558.65 1067.42,552.15" fill="#fff" fill-opacity="0.6" stroke="#e2041a" stroke-width="1.2"/>
<polygon points="1076.13,543.85 1082.63,550.35 1076.13,556.85 1069.63,550.35" fill="#fff" fill-opacity="0.6" stroke="#e2041a" stroke-width="1.2"/>
<polygon points="1078.33,545.34 1084.83,551.84 1078.33,558.34 1071.83,551.84" fill="#fff" fill-opacity="0.6" stroke="#e2041a" stroke-width="1.2"/>
<polygon points="1080.54,541.68 1087.04,548.18 1080.54,554.68 1074.04,548.18" fill="#fff" fill-opacity="0.6" stroke="#e2041a" stroke-width="1.2"/>
<polygon points="1082.75,544.31 1089.25,550.81 1082.75,557.31 1076.25,550.81" fill="#fff" fill-opacity="0.6" stroke="#e2041a" stroke-width="1.2"/>
<polygon points="1084.95,542.67 1091.45,549.17 1084.95,555.67 1078.45,549.17" fill="#fff" fill-opacity="0.6" stroke="#e2041a" stroke-width="1.2"/>
<polygon points="1087.16,542.80 1093.66,549.30 1087.16,555.80 1080.66,549.30" fill="#fff" fill-opacity="0.6" stroke="#e2041a" stroke-width="1.2"/>
<polygon points="1089.37,541.89 1095.87,548.39 1089.37,554.89 1082.87,548.39" fill="#fff" fill-opacity="0.6" stroke="#e2041a" stroke-width="1.2"/>
<polygon points="1091.58,541.10 1098.08,547.60 1091.58,554.10 1085.08,547.60" fill="#fff" fill-opacity="0.6" stroke="#e2041a" stroke-width="1.2"/>
<polygon points="1093.78,539.01 1100.28,545.51 1093.78,552.01 1087.28,545.51" fill="#fff" fill-opacity="0.6" stroke="#e2041a" stroke-width="1.2"/>
<polygon points="1095.99,535.95 1102.49,542.45 1095.99,548.95 1089.49,542.45" fill="#fff" fill-opacity="0.6" stroke="#e2041a" stroke-width="1.2"/>
<polygon points="1098.20,538.08 1104.70,544.58 1098.20,551.08 1091.70,544.58" fill="#fff" fill-opacity="0.6" stroke="#e2041a" stroke-width="1.2"/>
<polygon points="1100.40,534.99 1106.90,541.49 1100.40,547.99 1093.90,541.49" fill="#fff" fill-opacity="0.6" stroke="#e2041a" stroke-width="1.2"/>
<polygon points="1102.61,534.70 1109.11,541.20 1102.61,547.70 1096.11,541.20" fill="#fff" fill-opacity="0.6" stroke="#e2041a" stroke-width="1.2"/>
<polygon points="1104.82,535.15 1111.32,541.65 1104.82,548.15 1098.32,541.65" fill="#fff" fill-opacity="0.6" stroke="#e2041a" stroke-width="1.2"/>
<polygon points="1107.02,533.60 1113.52,540.10 1107.02,546.60 1100.52,540.10" fill="#fff" fill-opacity="0.6" stroke="#e2041a" stroke-width="1.2"/>
<polygon points="1109.23,532.16 1115.73,538.66 1109.23,545.16 1102.73,538.66" fill="#fff" fill-opacity="0.6" stroke="#e2041a" stroke-width="1.2"/>
<polygon points="1111.44,533.26 1117.94,539.76 1111.44,546.26 1104.94,539.76" fill="#fff" fill-opacity="0.6" stroke="#e2041a" stroke-width="1.2"/>
<polygon points="1113.64,530.95 1120.14,537.45 1113.64,543.95 1107.14,537.45" fill="#fff" fill-opacity="0.6" stroke="#e2041a" stroke-width="1.2"/>
<polygon points="1115.85,528.87 1122.35,535.37 1115.85,541.87 1109.35,535.37" fill="#fff" fill-opacity="0.6" stroke="#e2041a" stroke-width="1.2"/>
<polygon points="1118.06,527.51 1124.56,534.01 1118.06,540.51 1111.56,534.01" fill="#fff" fill-opacity="0.6" stroke="#e2041a" stroke-width="1.2"/>
<polygon points="1120.27,528.95 1126.77,535.45 1120.27,541.95 1113.77,535.45" fill="#fff" fill-opacity="0.6" stroke="#e2041a" stroke-width="1.2"/>
<polygon points="1122.47,526.41 1128.97,532.91 1122.47,539.41 1115.97,532.91" fill="#fff" fill-opacity="0.6" stroke="#e2041a" stroke-width="1.2"/>
<polygon points="1124.68,526.63 1131.18,533.13 1124.68,539.63 1118.18,533.13" fill="#fff" fill-opacity="0.6" stroke="#e2041a" stroke-width="1.2"/>
<polygon points="1126.89,523.51 1133.39,530.01 1126.89,536.51 1120.39,530.01" fill="#fff" fill-opacity="0.6" stroke="#e2041a" stroke-width="1.2"/>
<polygon points="1129.09,521.49 1135.59,527.99 1129.09,534.49 1122.59,527.99" fill="#fff" fill-opacity="0.6" stroke="#e2041a" stroke-width="1.2"/>
<polygon points="1131.30,521.44 1137.80,527.94 1131.30,534.44 1124.80,527.94" fill="#fff" fill-opacity="0.6" stroke="#e2041a" stroke-width="1.2"/>
<polygon points="1133.51,521.17 1140.01,527.67 1133.51,534.17 1127.01,527.67" fill="#fff" fill-opacity="0.6" stroke="#e2041a" stroke-width="1.2"/>
<polygon points="1135.72,517.19 1142.22,523.69 1135.72,530.19 1129.22,523.69" fill="#fff" fill-opacity="0.6" stroke="#e2041a" stroke-width="1.2"/>
<polygon points="1137.92,518.67 1144.42,525.17 1137.92,531.67 1131.42,525.17" fill="#fff" fill-opacity="0.6" stroke="#e2041a" stroke-width="1.2"/>
<polygon points="1140.13,518.19 1146.63,524.69 1140.13,531.19 1133.63,524.69" fill="#fff" fill-opacity="0.6" stroke="#e2041a" stroke-width="1.2"/>
<polygon points="1142.34,516.72 1148.84,523.22 1142.34,529.72 1135.84,523.22" fill="#fff" fill-opacity="0.6" stroke="#e2041a" stroke-width="1.2"/>
<polygon points="1144.54,515.79 1151.04,522.29 1144.54,528.79 1138.04,522.29" fill="#fff" fill-opacity="0.6" stroke="#e2041a" stroke-width="1.2"/>
<polygon points="1146.75,511.53 1153.25,518.03 1146.75,524.53 1140.25,518.03" fill="#fff" fill-opacity="0.6" stroke="#e2041a" stroke-width="1.2"/>
<polygon points="1148.96,514.41 1155.46,520.91 1148.96,527.41 1142.46,520.91" fill="#fff" fill-opacity="0.6" stroke="#e2041a" stroke-width="1.2"/>
<polygon points="1151.16,515.75 1157.66,522.25 1151.16,528.75 1144.66,522.25" fill="#fff" fill-opacity="0.6" stroke="#e2041a" stroke-width="1.2"/>
<polygon points="1153.37,512.90 1159.87,519.40 1153.37,525.90 1146.87,519.40" fill="#fff" fill-opacity="0.6" stroke="#e2041a" stroke-width="1.2"/>
<polygon points="1155.58,514.19 1162.08,520.69 1155.58,527.19 1149.08,520.69" fill="#fff" fill-opacity="0.6" stroke="#e2041a" stroke-width="1.2"/>
<polygon points="1157.79,514.57 1164.29,521.07 1157.79,527.57 1151.29,521.07" fill="#fff" fill-opacity="0.6" stroke="#e2041a" stroke-width="1.2"/>
<polygon points="1159.99,514.41 1166.49,520.91 1159.99,527.41 1153.49,520.91" fill="#fff" fill-opacity="0.6" stroke="#e2041a" stroke-width="1.2"/>
<polygon points="1162.20,512.79 1168.70,519.29 1162.20,525.79 1155.70,519.29" fill="#fff" fill-opacity="0.6" stroke="#e2041a" stroke-width="1.2"/>
<polygon points="1164.41,511.79 1170.91,518.29 1164.41,524.79 1157.91,518.29" fill="#fff" fill-opacity="0.6" stroke="#e2041a" stroke-width="1.2"/>
<polygon points="1166.61,511.81 1173.11,518.31 1166.61,524.81 1160.11,518.31" fill="#fff" fill-opacity="0.6" stroke="#e2041a" stroke-width="1.2"/>
<polygon points="1168.82,507.51 1175.32,514.01 1168.82,520.51 1162.32,514.01" fill="#fff" fill-opacity="0.6" stroke="#e2041a" stroke-width="1.2"/>
</g>
<rect x="760.60" y="467.50" width="585.20" height="125.80" stroke="#000" stroke-width="2.8" fill="none"/>
<line x1="815.70" y1="593.30" x2="815.70" y2="579.80" stroke="#000" stroke-width="2.8"/>
<line x1="870.88" y1="593.30" x2="870.88" y2="586.30" stroke="#000" stroke-width="2.8"/>
<line x1="926.05" y1="593.30" x2="926.05" y2="579.80" stroke="#000" stroke-width="2.8"/>
<line x1="981.23" y1="593.30" x2="981.23" y2="586.30" stroke="#000" stroke-width="2.8"/>
<line x1="1036.40" y1="593.30" x2="1036.40" y2="579.80" stroke="#000" stroke-width="2.8"/>
<line x1="1091.58" y1="593.30" x2="1091.58" y2="586.30" stroke="#000" stroke-width="2.8"/>
<line x1="1146.75" y1="593.30" x2="1146.75" y2="579.80" stroke="#000" stroke-width="2.8"/>
<line x1="1201.92" y1="593.30" x2="1201.92" y2="586.30" stroke="#000" stroke-width="2.8"/>
<line x1="1257.10" y1="593.30" x2="1257.10" y2="579.80" stroke="#000" stroke-width="2.8"/>
<line x1="1312.28" y1="593.30" x2="1312.28" y2="586.30" stroke="#000" stroke-width="2.8"/>
<line x1="760.60" y1="572.35" x2="767.60" y2="572.35" stroke="#000" stroke-width="2.8"/>
<line x1="1345.80" y1="572.35" x2="1338.80" y2="572.35" stroke="#000" stroke-width="2.8"/>
<line x1="760.60" y1="551.40" x2="774.10" y2="551.40" stroke="#000" stroke-width="2.8"/>
<line x1="1345.80" y1="551.40" x2="1332.30" y2="551.40" stroke="#000" stroke-width="2.8"/>
<line x1="760.60" y1="530.45" x2="767.60" y2="530.45" stroke="#000" stroke-width="2.8"/>
<line x1="1345.80" y1="530.45" x2="1338.80" y2="530.45" stroke="#000" stroke-width="2.8"/>
<line x1="760.60" y1="509.50" x2="774.10" y2="509.50" stroke="#000" stroke-width="2.8"/>
<line x1="1345.80" y1="509.50" x2="1332.30" y2="509.50" stroke="#000" stroke-width="2.8"/>
<line x1="760.60" y1="488.55" x2="767.60" y2="488.55" stroke="#000" stroke-width="2.8"/>
<line x1="1345.80" y1="488.55" x2="1338.80" y2="488.55" stroke="#000" stroke-width="2.8"/>
<g clip-path="url(#sp4)">
<path d="M760.60,666.80 C766.07,666.07 782.37,663.88 793.40,662.40 C804.43,660.92 813.80,659.13 826.80,657.90 C839.80,656.67 860.27,655.43 871.40,655.00 C882.53,654.57 882.47,654.82 893.60,655.30 C904.73,655.78 923.35,656.83 938.20,657.90 C953.05,658.97 967.85,660.58 982.70,661.70 C997.55,662.82 1017.03,664.08 1027.30,664.60 C1037.57,665.12 1037.42,664.68 1044.30,664.80 C1051.18,664.92 1060.52,665.22 1068.60,665.30 C1076.68,665.38 1084.72,665.52 1092.80,665.30 C1100.88,665.08 1109.00,664.62 1117.10,664.00 C1125.20,663.38 1133.30,662.60 1141.40,661.60 C1149.50,660.60 1157.60,659.22 1165.70,658.00 C1173.80,656.78 1181.92,656.13 1190.00,654.30 C1198.08,652.47 1206.12,649.83 1214.20,647.00 C1222.28,644.17 1230.40,641.13 1238.50,637.30 C1246.60,633.47 1255.52,628.65 1262.80,624.00 C1270.08,619.35 1275.93,614.52 1282.20,609.40 C1288.47,604.28 1297.37,595.98 1300.40,593.30" fill="none" stroke="#404040" stroke-width="1.6" stroke-linejoin="round" stroke-linecap="round"/>
<line x1="1036.40" y1="669.23" x2="1036.40" y2="681.23" stroke="#404040" stroke-width="1.0" stroke-opacity="0.75"/>
<line x1="1030.40" y1="669.23" x2="1042.40" y2="669.23" stroke="#404040" stroke-width="1.0" stroke-opacity="0.75"/>
<line x1="1030.40" y1="681.23" x2="1042.40" y2="681.23" stroke="#404040" stroke-width="1.0" stroke-opacity="0.75"/>
<line x1="1038.61" y1="669.40" x2="1038.61" y2="681.40" stroke="#404040" stroke-width="1.0" stroke-opacity="0.75"/>
<line x1="1032.61" y1="669.40" x2="1044.61" y2="669.40" stroke="#404040" stroke-width="1.0" stroke-opacity="0.75"/>
<line x1="1032.61" y1="681.40" x2="1044.61" y2="681.40" stroke="#404040" stroke-width="1.0" stroke-opacity="0.75"/>
<line x1="1040.81" y1="669.40" x2="1040.81" y2="681.40" stroke="#404040" stroke-width="1.0" stroke-opacity="0.75"/>
<line x1="1034.81" y1="669.40" x2="1046.81" y2="669.40" stroke="#404040" stroke-width="1.0" stroke-opacity="0.75"/>
<line x1="1034.81" y1="681.40" x2="1046.81" y2="681.40" stroke="#404040" stroke-width="1.0" stroke-opacity="0.75"/>
<line x1="1043.02" y1="669.26" x2="1043.02" y2="681.26" stroke="#404040" stroke-width="1.0" stroke-opacity="0.75"/>
<line x1="1037.02" y1="669.26" x2="1049.02" y2="669.26" stroke="#404040" stroke-width="1.0" stroke-opacity="0.75"/>
<line x1="1037.02" y1="681.26" x2="1049.02" y2="681.26" stroke="#404040" stroke-width="1.0" stroke-opacity="0.75"/>
<line x1="1045.23" y1="671.44" x2="1045.23" y2="683.44" stroke="#404040" stroke-width="1.0" stroke-opacity="0.75"/>
<line x1="1039.23" y1="671.44" x2="1051.23" y2="671.44" stroke="#404040" stroke-width="1.0" stroke-opacity="0.75"/>
<line x1="1039.23" y1="683.44" x2="1051.23" y2="683.44" stroke="#404040" stroke-width="1.0" stroke-opacity="0.75"/>
<line x1="1047.43" y1="671.15" x2="1047.43" y2="683.15" stroke="#404040" stroke-width="1.0" stroke-opacity="0.75"/>
<line x1="1041.43" y1="671.15" x2="1053.43" y2="671.15" stroke="#404040" stroke-width="1.0" stroke-opacity="0.75"/>
<line x1="1041.43" y1="683.15" x2="1053.43" y2="683.15" stroke="#404040" stroke-width="1.0" stroke-opacity="0.75"/>
<line x1="1049.64" y1="669.31" x2="1049.64" y2="681.31" stroke="#404040" stroke-width="1.0" stroke-opacity="0.75"/>
<line x1="1043.64" y1="669.31" x2="1055.64" y2="669.31" stroke="#404040" stroke-width="1.0" stroke-opacity="0.75"/>
<line x1="1043.64" y1="681.31" x2="1055.64" y2="681.31" stroke="#404040" stroke-width="1.0" stroke-opacity="0.75"/>
<line x1="1051.85" y1="670.31" x2="1051.85" y2="682.31" stroke="#404040" stroke-width="1.0" stroke-opacity="0.75"/>
<line x1="1045.85" y1="670.31" x2="1057.85" y2="670.31" stroke="#404040" stroke-width="1.0" stroke-opacity="0.75"/>
<line x1="1045.85" y1="682.31" x2="1057.85" y2="682.31" stroke="#404040" stroke-width="1.0" stroke-opacity="0.75"/>
<line x1="1054.06" y1="669.86" x2="1054.06" y2="681.86" stroke="#404040" stroke-width="1.0" stroke-opacity="0.75"/>
<line x1="1048.06" y1="669.86" x2="1060.06" y2="669.86" stroke="#404040" stroke-width="1.0" stroke-opacity="0.75"/>
<line x1="1048.06" y1="681.86" x2="1060.06" y2="681.86" stroke="#404040" stroke-width="1.0" stroke-opacity="0.75"/>
<line x1="1056.26" y1="669.85" x2="1056.26" y2="681.85" stroke="#404040" stroke-width="1.0" stroke-opacity="0.75"/>
<line x1="1050.26" y1="669.85" x2="1062.26" y2="669.85" stroke="#404040" stroke-width="1.0" stroke-opacity="0.75"/>
<line x1="1050.26" y1="681.85" x2="1062.26" y2="681.85" stroke="#404040" stroke-width="1.0" stroke-opacity="0.75"/>
<line x1="1058.47" y1="669.94" x2="1058.47" y2="681.94" stroke="#404040" stroke-width="1.0" stroke-opacity="0.75"/>
<line x1="1052.47" y1="669.94" x2="1064.47" y2="669.94" stroke="#404040" stroke-width="1.0" stroke-opacity="0.75"/>
<line x1="1052.47" y1="681.94" x2="1064.47" y2="681.94" stroke="#404040" stroke-width="1.0" stroke-opacity="0.75"/>
<line x1="1060.68" y1="670.65" x2="1060.68" y2="682.65" stroke="#404040" stroke-width="1.0" stroke-opacity="0.75"/>
<line x1="1054.68" y1="670.65" x2="1066.68" y2="670.65" stroke="#404040" stroke-width="1.0" stroke-opacity="0.75"/>
<line x1="1054.68" y1="682.65" x2="1066.68" y2="682.65" stroke="#404040" stroke-width="1.0" stroke-opacity="0.75"/>
<line x1="1062.88" y1="670.51" x2="1062.88" y2="682.51" stroke="#404040" stroke-width="1.0" stroke-opacity="0.75"/>
<line x1="1056.88" y1="670.51" x2="1068.88" y2="670.51" stroke="#404040" stroke-width="1.0" stroke-opacity="0.75"/>
<line x1="1056.88" y1="682.51" x2="1068.88" y2="682.51" stroke="#404040" stroke-width="1.0" stroke-opacity="0.75"/>
<line x1="1065.09" y1="669.97" x2="1065.09" y2="681.97" stroke="#404040" stroke-width="1.0" stroke-opacity="0.75"/>
<line x1="1059.09" y1="669.97" x2="1071.09" y2="669.97" stroke="#404040" stroke-width="1.0" stroke-opacity="0.75"/>
<line x1="1059.09" y1="681.97" x2="1071.09" y2="681.97" stroke="#404040" stroke-width="1.0" stroke-opacity="0.75"/>
<line x1="1067.30" y1="669.56" x2="1067.30" y2="681.56" stroke="#404040" stroke-width="1.0" stroke-opacity="0.75"/>
<line x1="1061.30" y1="669.56" x2="1073.30" y2="669.56" stroke="#404040" stroke-width="1.0" stroke-opacity="0.75"/>
<line x1="1061.30" y1="681.56" x2="1073.30" y2="681.56" stroke="#404040" stroke-width="1.0" stroke-opacity="0.75"/>
<line x1="1069.51" y1="669.89" x2="1069.51" y2="681.89" stroke="#404040" stroke-width="1.0" stroke-opacity="0.75"/>
<line x1="1063.51" y1="669.89" x2="1075.51" y2="669.89" stroke="#404040" stroke-width="1.0" stroke-opacity="0.75"/>
<line x1="1063.51" y1="681.89" x2="1075.51" y2="681.89" stroke="#404040" stroke-width="1.0" stroke-opacity="0.75"/>
<line x1="1071.71" y1="669.40" x2="1071.71" y2="681.40" stroke="#404040" stroke-width="1.0" stroke-opacity="0.75"/>
<line x1="1065.71" y1="669.40" x2="1077.71" y2="669.40" stroke="#404040" stroke-width="1.0" stroke-opacity="0.75"/>
<line x1="1065.71" y1="681.40" x2="1077.71" y2="681.40" stroke="#404040" stroke-width="1.0" stroke-opacity="0.75"/>
<line x1="1073.92" y1="670.43" x2="1073.92" y2="682.43" stroke="#404040" stroke-width="1.0" stroke-opacity="0.75"/>
<line x1="1067.92" y1="670.43" x2="1079.92" y2="670.43" stroke="#404040" stroke-width="1.0" stroke-opacity="0.75"/>
<line x1="1067.92" y1="682.43" x2="1079.92" y2="682.43" stroke="#404040" stroke-width="1.0" stroke-opacity="0.75"/>
<line x1="1076.13" y1="670.82" x2="1076.13" y2="682.82" stroke="#404040" stroke-width="1.0" stroke-opacity="0.75"/>
<line x1="1070.13" y1="670.82" x2="1082.13" y2="670.82" stroke="#404040" stroke-width="1.0" stroke-opacity="0.75"/>
<line x1="1070.13" y1="682.82" x2="1082.13" y2="682.82" stroke="#404040" stroke-width="1.0" stroke-opacity="0.75"/>
<line x1="1078.33" y1="670.01" x2="1078.33" y2="682.01" stroke="#404040" stroke-width="1.0" stroke-opacity="0.75"/>
<line x1="1072.33" y1="670.01" x2="1084.33" y2="670.01" stroke="#404040" stroke-width="1.0" stroke-opacity="0.75"/>
<line x1="1072.33" y1="682.01" x2="1084.33" y2="682.01" stroke="#404040" stroke-width="1.0" stroke-opacity="0.75"/>
<line x1="1080.54" y1="669.29" x2="1080.54" y2="681.29" stroke="#404040" stroke-width="1.0" stroke-opacity="0.75"/>
<line x1="1074.54" y1="669.29" x2="1086.54" y2="669.29" stroke="#404040" stroke-width="1.0" stroke-opacity="0.75"/>
<line x1="1074.54" y1="681.29" x2="1086.54" y2="681.29" stroke="#404040" stroke-width="1.0" stroke-opacity="0.75"/>
<line x1="1082.75" y1="669.53" x2="1082.75" y2="681.53" stroke="#404040" stroke-width="1.0" stroke-opacity="0.75"/>
<line x1="1076.75" y1="669.53" x2="1088.75" y2="669.53" stroke="#404040" stroke-width="1.0" stroke-opacity="0.75"/>
<line x1="1076.75" y1="681.53" x2="1088.75" y2="681.53" stroke="#404040" stroke-width="1.0" stroke-opacity="0.75"/>
<line x1="1084.95" y1="670.00" x2="1084.95" y2="682.00" stroke="#404040" stroke-width="1.0" stroke-opacity="0.75"/>
<line x1="1078.95" y1="670.00" x2="1090.95" y2="670.00" stroke="#404040" stroke-width="1.0" stroke-opacity="0.75"/>
<line x1="1078.95" y1="682.00" x2="1090.95" y2="682.00" stroke="#404040" stroke-width="1.0" stroke-opacity="0.75"/>
<line x1="1087.16" y1="670.55" x2="1087.16" y2="682.55" stroke="#404040" stroke-width="1.0" stroke-opacity="0.75"/>
<line x1="1081.16" y1="670.55" x2="1093.16" y2="670.55" stroke="#404040" stroke-width="1.0" stroke-opacity="0.75"/>
<line x1="1081.16" y1="682.55" x2="1093.16" y2="682.55" stroke="#404040" stroke-width="1.0" stroke-opacity="0.75"/>
<line x1="1089.37" y1="670.98" x2="1089.37" y2="682.98" stroke="#404040" stroke-width="1.0" stroke-opacity="0.75"/>
<line x1="1083.37" y1="670.98" x2="1095.37" y2="670.98" stroke="#404040" stroke-width="1.0" stroke-opacity="0.75"/>
<line x1="1083.37" y1="682.98" x2="1095.37" y2="682.98" stroke="#404040" stroke-width="1.0" stroke-opacity="0.75"/>
<line x1="1091.58" y1="670.01" x2="1091.58" y2="682.01" stroke="#404040" stroke-width="1.0" stroke-opacity="0.75"/>
<line x1="1085.58" y1="670.01" x2="1097.58" y2="670.01" stroke="#404040" stroke-width="1.0" stroke-opacity="0.75"/>
<line x1="1085.58" y1="682.01" x2="1097.58" y2="682.01" stroke="#404040" stroke-width="1.0" stroke-opacity="0.75"/>
<line x1="1093.78" y1="671.02" x2="1093.78" y2="683.02" stroke="#404040" stroke-width="1.0" stroke-opacity="0.75"/>
<line x1="1087.78" y1="671.02" x2="1099.78" y2="671.02" stroke="#404040" stroke-width="1.0" stroke-opacity="0.75"/>
<line x1="1087.78" y1="683.02" x2="1099.78" y2="683.02" stroke="#404040" stroke-width="1.0" stroke-opacity="0.75"/>
<line x1="1095.99" y1="670.60" x2="1095.99" y2="682.60" stroke="#404040" stroke-width="1.0" stroke-opacity="0.75"/>
<line x1="1089.99" y1="670.60" x2="1101.99" y2="670.60" stroke="#404040" stroke-width="1.0" stroke-opacity="0.75"/>
<line x1="1089.99" y1="682.60" x2="1101.99" y2="682.60" stroke="#404040" stroke-width="1.0" stroke-opacity="0.75"/>
<line x1="1098.20" y1="670.14" x2="1098.20" y2="682.14" stroke="#404040" stroke-width="1.0" stroke-opacity="0.75"/>
<line x1="1092.20" y1="670.14" x2="1104.20" y2="670.14" stroke="#404040" stroke-width="1.0" stroke-opacity="0.75"/>
<line x1="1092.20" y1="682.14" x2="1104.20" y2="682.14" stroke="#404040" stroke-width="1.0" stroke-opacity="0.75"/>
<line x1="1100.40" y1="669.99" x2="1100.40" y2="681.99" stroke="#404040" stroke-width="1.0" stroke-opacity="0.75"/>
<line x1="1094.40" y1="669.99" x2="1106.40" y2="669.99" stroke="#404040" stroke-width="1.0" stroke-opacity="0.75"/>
<line x1="1094.40" y1="681.99" x2="1106.40" y2="681.99" stroke="#404040" stroke-width="1.0" stroke-opacity="0.75"/>
<line x1="1102.61" y1="670.29" x2="1102.61" y2="682.29" stroke="#404040" stroke-width="1.0" stroke-opacity="0.75"/>
<line x1="1096.61" y1="670.29" x2="1108.61" y2="670.29" stroke="#404040" stroke-width="1.0" stroke-opacity="0.75"/>
<line x1="1096.61" y1="682.29" x2="1108.61" y2="682.29" stroke="#404040" stroke-width="1.0" stroke-opacity="0.75"/>
<line x1="1104.82" y1="670.79" x2="1104.82" y2="682.79" stroke="#404040" stroke-width="1.0" stroke-opacity="0.75"/>
<line x1="1098.82" y1="670.79" x2="1110.82" y2="670.79" stroke="#404040" stroke-width="1.0" stroke-opacity="0.75"/>
<line x1="1098.82" y1="682.79" x2="1110.82" y2="682.79" stroke="#404040" stroke-width="1.0" stroke-opacity="0.75"/>
<line x1="1107.02" y1="670.11" x2="1107.02" y2="682.11" stroke="#404040" stroke-width="1.0" stroke-opacity="0.75"/>
<line x1="1101.02" y1="670.11" x2="1113.02" y2="670.11" stroke="#404040" stroke-width="1.0" stroke-opacity="0.75"/>
<line x1="1101.02" y1="682.11" x2="1113.02" y2="682.11" stroke="#404040" stroke-width="1.0" stroke-opacity="0.75"/>
<line x1="1109.23" y1="670.77" x2="1109.23" y2="682.77" stroke="#404040" stroke-width="1.0" stroke-opacity="0.75"/>
<line x1="1103.23" y1="670.77" x2="1115.23" y2="670.77" stroke="#404040" stroke-width="1.0" stroke-opacity="0.75"/>
<line x1="1103.23" y1="682.77" x2="1115.23" y2="682.77" stroke="#404040" stroke-width="1.0" stroke-opacity="0.75"/>
<line x1="1111.44" y1="670.21" x2="1111.44" y2="682.21" stroke="#404040" stroke-width="1.0" stroke-opacity="0.75"/>
<line x1="1105.44" y1="670.21" x2="1117.44" y2="670.21" stroke="#404040" stroke-width="1.0" stroke-opacity="0.75"/>
<line x1="1105.44" y1="682.21" x2="1117.44" y2="682.21" stroke="#404040" stroke-width="1.0" stroke-opacity="0.75"/>
<line x1="1113.64" y1="669.69" x2="1113.64" y2="681.69" stroke="#404040" stroke-width="1.0" stroke-opacity="0.75"/>
<line x1="1107.64" y1="669.69" x2="1119.64" y2="669.69" stroke="#404040" stroke-width="1.0" stroke-opacity="0.75"/>
<line x1="1107.64" y1="681.69" x2="1119.64" y2="681.69" stroke="#404040" stroke-width="1.0" stroke-opacity="0.75"/>
<line x1="1115.85" y1="670.39" x2="1115.85" y2="682.39" stroke="#404040" stroke-width="1.0" stroke-opacity="0.75"/>
<line x1="1109.85" y1="670.39" x2="1121.85" y2="670.39" stroke="#404040" stroke-width="1.0" stroke-opacity="0.75"/>
<line x1="1109.85" y1="682.39" x2="1121.85" y2="682.39" stroke="#404040" stroke-width="1.0" stroke-opacity="0.75"/>
<line x1="1118.06" y1="670.77" x2="1118.06" y2="682.77" stroke="#404040" stroke-width="1.0" stroke-opacity="0.75"/>
<line x1="1112.06" y1="670.77" x2="1124.06" y2="670.77" stroke="#404040" stroke-width="1.0" stroke-opacity="0.75"/>
<line x1="1112.06" y1="682.77" x2="1124.06" y2="682.77" stroke="#404040" stroke-width="1.0" stroke-opacity="0.75"/>
<line x1="1120.27" y1="669.27" x2="1120.27" y2="681.27" stroke="#404040" stroke-width="1.0" stroke-opacity="0.75"/>
<line x1="1114.27" y1="669.27" x2="1126.27" y2="669.27" stroke="#404040" stroke-width="1.0" stroke-opacity="0.75"/>
<line x1="1114.27" y1="681.27" x2="1126.27" y2="681.27" stroke="#404040" stroke-width="1.0" stroke-opacity="0.75"/>
<line x1="1122.47" y1="670.12" x2="1122.47" y2="682.12" stroke="#404040" stroke-width="1.0" stroke-opacity="0.75"/>
<line x1="1116.47" y1="670.12" x2="1128.47" y2="670.12" stroke="#404040" stroke-width="1.0" stroke-opacity="0.75"/>
<line x1="1116.47" y1="682.12" x2="1128.47" y2="682.12" stroke="#404040" stroke-width="1.0" stroke-opacity="0.75"/>
<line x1="1124.68" y1="670.12" x2="1124.68" y2="682.12" stroke="#404040" stroke-width="1.0" stroke-opacity="0.75"/>
<line x1="1118.68" y1="670.12" x2="1130.68" y2="670.12" stroke="#404040" stroke-width="1.0" stroke-opacity="0.75"/>
<line x1="1118.68" y1="682.12" x2="1130.68" y2="682.12" stroke="#404040" stroke-width="1.0" stroke-opacity="0.75"/>
<line x1="1126.89" y1="670.91" x2="1126.89" y2="683.51" stroke="#404040" stroke-width="1.0" stroke-opacity="0.75"/>
<line x1="1120.89" y1="670.91" x2="1132.89" y2="670.91" stroke="#404040" stroke-width="1.0" stroke-opacity="0.75"/>
<line x1="1120.89" y1="683.51" x2="1132.89" y2="683.51" stroke="#404040" stroke-width="1.0" stroke-opacity="0.75"/>
<line x1="1129.09" y1="670.75" x2="1129.09" y2="683.95" stroke="#404040" stroke-width="1.0" stroke-opacity="0.75"/>
<line x1="1123.09" y1="670.75" x2="1135.09" y2="670.75" stroke="#404040" stroke-width="1.0" stroke-opacity="0.75"/>
<line x1="1123.09" y1="683.95" x2="1135.09" y2="683.95" stroke="#404040" stroke-width="1.0" stroke-opacity="0.75"/>
<line x1="1131.30" y1="669.10" x2="1131.30" y2="682.90" stroke="#404040" stroke-width="1.0" stroke-opacity="0.75"/>
<line x1="1125.30" y1="669.10" x2="1137.30" y2="669.10" stroke="#404040" stroke-width="1.0" stroke-opacity="0.75"/>
<line x1="1125.30" y1="682.90" x2="1137.30" y2="682.90" stroke="#404040" stroke-width="1.0" stroke-opacity="0.75"/>
<line x1="1133.51" y1="670.05" x2="1133.51" y2="684.45" stroke="#404040" stroke-width="1.0" stroke-opacity="0.75"/>
<line x1="1127.51" y1="670.05" x2="1139.51" y2="670.05" stroke="#404040" stroke-width="1.0" stroke-opacity="0.75"/>
<line x1="1127.51" y1="684.45" x2="1139.51" y2="684.45" stroke="#404040" stroke-width="1.0" stroke-opacity="0.75"/>
<line x1="1135.72" y1="669.50" x2="1135.72" y2="684.50" stroke="#404040" stroke-width="1.0" stroke-opacity="0.75"/>
<line x1="1129.72" y1="669.50" x2="1141.72" y2="669.50" stroke="#404040" stroke-width="1.0" stroke-opacity="0.75"/>
<line x1="1129.72" y1="684.50" x2="1141.72" y2="684.50" stroke="#404040" stroke-width="1.0" stroke-opacity="0.75"/>
<line x1="1137.92" y1="667.93" x2="1137.92" y2="683.53" stroke="#404040" stroke-width="1.0" stroke-opacity="0.75"/>
<line x1="1131.92" y1="667.93" x2="1143.92" y2="667.93" stroke="#404040" stroke-width="1.0" stroke-opacity="0.75"/>
<line x1="1131.92" y1="683.53" x2="1143.92" y2="683.53" stroke="#404040" stroke-width="1.0" stroke-opacity="0.75"/>
<line x1="1140.13" y1="668.11" x2="1140.13" y2="684.31" stroke="#404040" stroke-width="1.0" stroke-opacity="0.75"/>
<line x1="1134.13" y1="668.11" x2="1146.13" y2="668.11" stroke="#404040" stroke-width="1.0" stroke-opacity="0.75"/>
<line x1="1134.13" y1="684.31" x2="1146.13" y2="684.31" stroke="#404040" stroke-width="1.0" stroke-opacity="0.75"/>
<line x1="1142.34" y1="667.00" x2="1142.34" y2="683.80" stroke="#404040" stroke-width="1.0" stroke-opacity="0.75"/>
<line x1="1136.34" y1="667.00" x2="1148.34" y2="667.00" stroke="#404040" stroke-width="1.0" stroke-opacity="0.75"/>
<line x1="1136.34" y1="683.80" x2="1148.34" y2="683.80" stroke="#404040" stroke-width="1.0" stroke-opacity="0.75"/>
<line x1="1144.54" y1="668.35" x2="1144.54" y2="685.75" stroke="#404040" stroke-width="1.0" stroke-opacity="0.75"/>
<line x1="1138.54" y1="668.35" x2="1150.54" y2="668.35" stroke="#404040" stroke-width="1.0" stroke-opacity="0.75"/>
<line x1="1138.54" y1="685.75" x2="1150.54" y2="685.75" stroke="#404040" stroke-width="1.0" stroke-opacity="0.75"/>
<line x1="1146.75" y1="667.69" x2="1146.75" y2="685.69" stroke="#404040" stroke-width="1.0" stroke-opacity="0.75"/>
<line x1="1140.75" y1="667.69" x2="1152.75" y2="667.69" stroke="#404040" stroke-width="1.0" stroke-opacity="0.75"/>
<line x1="1140.75" y1="685.69" x2="1152.75" y2="685.69" stroke="#404040" stroke-width="1.0" stroke-opacity="0.75"/>
<line x1="1148.96" y1="667.93" x2="1148.96" y2="686.53" stroke="#404040" stroke-width="1.0" stroke-opacity="0.75"/>
<line x1="1142.96" y1="667.93" x2="1154.96" y2="667.93" stroke="#404040" stroke-width="1.0" stroke-opacity="0.75"/>
<line x1="1142.96" y1="686.53" x2="1154.96" y2="686.53" stroke="#404040" stroke-width="1.0" stroke-opacity="0.75"/>
<line x1="1151.16" y1="667.40" x2="1151.16" y2="686.60" stroke="#404040" stroke-width="1.0" stroke-opacity="0.75"/>
<line x1="1145.16" y1="667.40" x2="1157.16" y2="667.40" stroke="#404040" stroke-width="1.0" stroke-opacity="0.75"/>
<line x1="1145.16" y1="686.60" x2="1157.16" y2="686.60" stroke="#404040" stroke-width="1.0" stroke-opacity="0.75"/>
<line x1="1153.37" y1="666.80" x2="1153.37" y2="686.60" stroke="#404040" stroke-width="1.0" stroke-opacity="0.75"/>
<line x1="1147.37" y1="666.80" x2="1159.37" y2="666.80" stroke="#404040" stroke-width="1.0" stroke-opacity="0.75"/>
<line x1="1147.37" y1="686.60" x2="1159.37" y2="686.60" stroke="#404040" stroke-width="1.0" stroke-opacity="0.75"/>
<line x1="1155.58" y1="666.66" x2="1155.58" y2="687.06" stroke="#404040" stroke-width="1.0" stroke-opacity="0.75"/>
<line x1="1149.58" y1="666.66" x2="1161.58" y2="666.66" stroke="#404040" stroke-width="1.0" stroke-opacity="0.75"/>
<line x1="1149.58" y1="687.06" x2="1161.58" y2="687.06" stroke="#404040" stroke-width="1.0" stroke-opacity="0.75"/>
<line x1="1157.79" y1="665.95" x2="1157.79" y2="686.95" stroke="#404040" stroke-width="1.0" stroke-opacity="0.75"/>
<line x1="1151.79" y1="665.95" x2="1163.79" y2="665.95" stroke="#404040" stroke-width="1.0" stroke-opacity="0.75"/>
<line x1="1151.79" y1="686.95" x2="1163.79" y2="686.95" stroke="#404040" stroke-width="1.0" stroke-opacity="0.75"/>
<line x1="1159.99" y1="664.55" x2="1159.99" y2="686.15" stroke="#404040" stroke-width="1.0" stroke-opacity="0.75"/>
<line x1="1153.99" y1="664.55" x2="1165.99" y2="664.55" stroke="#404040" stroke-width="1.0" stroke-opacity="0.75"/>
<line x1="1153.99" y1="686.15" x2="1165.99" y2="686.15" stroke="#404040" stroke-width="1.0" stroke-opacity="0.75"/>
<line x1="1162.20" y1="665.41" x2="1162.20" y2="687.61" stroke="#404040" stroke-width="1.0" stroke-opacity="0.75"/>
<line x1="1156.20" y1="665.41" x2="1168.20" y2="665.41" stroke="#404040" stroke-width="1.0" stroke-opacity="0.75"/>
<line x1="1156.20" y1="687.61" x2="1168.20" y2="687.61" stroke="#404040" stroke-width="1.0" stroke-opacity="0.75"/>
<line x1="1164.41" y1="663.71" x2="1164.41" y2="686.51" stroke="#404040" stroke-width="1.0" stroke-opacity="0.75"/>
<line x1="1158.41" y1="663.71" x2="1170.41" y2="663.71" stroke="#404040" stroke-width="1.0" stroke-opacity="0.75"/>
<line x1="1158.41" y1="686.51" x2="1170.41" y2="686.51" stroke="#404040" stroke-width="1.0" stroke-opacity="0.75"/>
<line x1="1166.61" y1="663.74" x2="1166.61" y2="687.14" stroke="#404040" stroke-width="1.0" stroke-opacity="0.75"/>
<line x1="1160.61" y1="663.74" x2="1172.61" y2="663.74" stroke="#404040" stroke-width="1.0" stroke-opacity="0.75"/>
<line x1="1160.61" y1="687.14" x2="1172.61" y2="687.14" stroke="#404040" stroke-width="1.0" stroke-opacity="0.75"/>
<line x1="1168.82" y1="664.96" x2="1168.82" y2="688.96" stroke="#404040" stroke-width="1.0" stroke-opacity="0.75"/>
<line x1="1162.82" y1="664.96" x2="1174.82" y2="664.96" stroke="#404040" stroke-width="1.0" stroke-opacity="0.75"/>
<line x1="1162.82" y1="688.96" x2="1174.82" y2="688.96" stroke="#404040" stroke-width="1.0" stroke-opacity="0.75"/>
<polygon points="1036.40,668.98 1042.34,673.30 1040.07,680.29 1032.73,680.29 1030.46,673.30" fill="#fff" fill-opacity="0.35" stroke="#404040" stroke-width="1.3"/>
<polygon points="1038.61,669.15 1044.55,673.47 1042.28,680.46 1034.93,680.46 1032.66,673.47" fill="#fff" fill-opacity="0.35" stroke="#404040" stroke-width="1.3"/>
<polygon points="1040.81,669.15 1046.76,673.47 1044.49,680.46 1037.14,680.46 1034.87,673.47" fill="#fff" fill-opacity="0.35" stroke="#404040" stroke-width="1.3"/>
<polygon points="1043.02,669.01 1048.97,673.33 1046.69,680.32 1039.35,680.32 1037.08,673.33" fill="#fff" fill-opacity="0.35" stroke="#404040" stroke-width="1.3"/>
<polygon points="1045.23,671.19 1051.17,675.51 1048.90,682.50 1041.55,682.50 1039.28,675.51" fill="#fff" fill-opacity="0.35" stroke="#404040" stroke-width="1.3"/>
<polygon points="1047.43,670.90 1053.38,675.22 1051.11,682.21 1043.76,682.21 1041.49,675.22" fill="#fff" fill-opacity="0.35" stroke="#404040" stroke-width="1.3"/>
<polygon points="1049.64,669.06 1055.59,673.38 1053.32,680.36 1045.97,680.36 1043.70,673.38" fill="#fff" fill-opacity="0.35" stroke="#404040" stroke-width="1.3"/>
<polygon points="1051.85,670.06 1057.79,674.37 1055.52,681.36 1048.18,681.36 1045.90,674.37" fill="#fff" fill-opacity="0.35" stroke="#404040" stroke-width="1.3"/>
<polygon points="1054.06,669.61 1060.00,673.93 1057.73,680.91 1050.38,680.91 1048.11,673.93" fill="#fff" fill-opacity="0.35" stroke="#404040" stroke-width="1.3"/>
<polygon points="1056.26,669.60 1062.21,673.92 1059.94,680.91 1052.59,680.91 1050.32,673.92" fill="#fff" fill-opacity="0.35" stroke="#404040" stroke-width="1.3"/>
<polygon points="1058.47,669.69 1064.41,674.01 1062.14,681.00 1054.80,681.00 1052.53,674.01" fill="#fff" fill-opacity="0.35" stroke="#404040" stroke-width="1.3"/>
<polygon points="1060.68,670.40 1066.62,674.72 1064.35,681.71 1057.00,681.71 1054.73,674.72" fill="#fff" fill-opacity="0.35" stroke="#404040" stroke-width="1.3"/>
<polygon points="1062.88,670.26 1068.83,674.58 1066.56,681.56 1059.21,681.56 1056.94,674.58" fill="#fff" fill-opacity="0.35" stroke="#404040" stroke-width="1.3"/>
<polygon points="1065.09,669.72 1071.04,674.03 1068.76,681.02 1061.42,681.02 1059.15,674.03" fill="#fff" fill-opacity="0.35" stroke="#404040" stroke-width="1.3"/>
<polygon points="1067.30,669.31 1073.24,673.63 1070.97,680.61 1063.62,680.61 1061.35,673.63" fill="#fff" fill-opacity="0.35" stroke="#404040" stroke-width="1.3"/>
<polygon points="1069.51,669.64 1075.45,673.96 1073.18,680.95 1065.83,680.95 1063.56,673.96" fill="#fff" fill-opacity="0.35" stroke="#404040" stroke-width="1.3"/>
<polygon points="1071.71,669.15 1077.66,673.47 1075.39,680.45 1068.04,680.45 1065.77,673.47" fill="#fff" fill-opacity="0.35" stroke="#404040" stroke-width="1.3"/>
<polygon points="1073.92,670.18 1079.86,674.50 1077.59,681.49 1070.25,681.49 1067.97,674.50" fill="#fff" fill-opacity="0.35" stroke="#404040" stroke-width="1.3"/>
<polygon points="1076.13,670.57 1082.07,674.89 1079.80,681.87 1072.45,681.87 1070.18,674.89" fill="#fff" fill-opacity="0.35" stroke="#404040" stroke-width="1.3"/>
<polygon points="1078.33,669.76 1084.28,674.08 1082.01,681.07 1074.66,681.07 1072.39,674.08" fill="#fff" fill-opacity="0.35" stroke="#404040" stroke-width="1.3"/>
<polygon points="1080.54,669.04 1086.48,673.36 1084.21,680.35 1076.87,680.35 1074.60,673.36" fill="#fff" fill-opacity="0.35" stroke="#404040" stroke-width="1.3"/>
<polygon points="1082.75,669.28 1088.69,673.60 1086.42,680.58 1079.07,680.58 1076.80,673.60" fill="#fff" fill-opacity="0.35" stroke="#404040" stroke-width="1.3"/>
<polygon points="1084.95,669.75 1090.90,674.06 1088.63,681.05 1081.28,681.05 1079.01,674.06" fill="#fff" fill-opacity="0.35" stroke="#404040" stroke-width="1.3"/>
<polygon points="1087.16,670.30 1093.11,674.62 1090.83,681.61 1083.49,681.61 1081.22,674.62" fill="#fff" fill-opacity="0.35" stroke="#404040" stroke-width="1.3"/>
<polygon points="1089.37,670.73 1095.31,675.05 1093.04,682.03 1085.69,682.03 1083.42,675.05" fill="#fff" fill-opacity="0.35" stroke="#404040" stroke-width="1.3"/>
<polygon points="1091.58,669.76 1097.52,674.08 1095.25,681.07 1087.90,681.07 1085.63,674.08" fill="#fff" fill-opacity="0.35" stroke="#404040" stroke-width="1.3"/>
<polygon points="1093.78,670.77 1099.73,675.09 1097.46,682.08 1090.11,682.08 1087.84,675.09" fill="#fff" fill-opacity="0.35" stroke="#404040" stroke-width="1.3"/>
<polygon points="1095.99,670.35 1101.93,674.66 1099.66,681.65 1092.32,681.65 1090.04,674.66" fill="#fff" fill-opacity="0.35" stroke="#404040" stroke-width="1.3"/>
<polygon points="1098.20,669.89 1104.14,674.20 1101.87,681.19 1094.52,681.19 1092.25,674.20" fill="#fff" fill-opacity="0.35" stroke="#404040" stroke-width="1.3"/>
<polygon points="1100.40,669.74 1106.35,674.06 1104.08,681.05 1096.73,681.05 1094.46,674.06" fill="#fff" fill-opacity="0.35" stroke="#404040" stroke-width="1.3"/>
<polygon points="1102.61,670.04 1108.55,674.36 1106.28,681.35 1098.94,681.35 1096.67,674.36" fill="#fff" fill-opacity="0.35" stroke="#404040" stroke-width="1.3"/>
<polygon points="1104.82,670.54 1110.76,674.86 1108.49,681.84 1101.14,681.84 1098.87,674.86" fill="#fff" fill-opacity="0.35" stroke="#404040" stroke-width="1.3"/>
<polygon points="1107.02,669.86 1112.97,674.18 1110.70,681.17 1103.35,681.17 1101.08,674.18" fill="#fff" fill-opacity="0.35" stroke="#404040" stroke-width="1.3"/>
<polygon points="1109.23,670.52 1115.18,674.83 1112.90,681.82 1105.56,681.82 1103.29,674.83" fill="#fff" fill-opacity="0.35" stroke="#404040" stroke-width="1.3"/>
<polygon points="1111.44,669.96 1117.38,674.27 1115.11,681.26 1107.76,681.26 1105.49,674.27" fill="#fff" fill-opacity="0.35" stroke="#404040" stroke-width="1.3"/>
<polygon points="1113.64,669.44 1119.59,673.76 1117.32,680.74 1109.97,680.74 1107.70,673.76" fill="#fff" fill-opacity="0.35" stroke="#404040" stroke-width="1.3"/>
<polygon points="1115.85,670.14 1121.80,674.45 1119.53,681.44 1112.18,681.44 1109.91,674.45" fill="#fff" fill-opacity="0.35" stroke="#404040" stroke-width="1.3"/>
<polygon points="1118.06,670.52 1124.00,674.84 1121.73,681.82 1114.39,681.82 1112.11,674.84" fill="#fff" fill-opacity="0.35" stroke="#404040" stroke-width="1.3"/>
<polygon points="1120.27,669.02 1126.21,673.34 1123.94,680.33 1116.59,680.33 1114.32,673.34" fill="#fff" fill-opacity="0.35" stroke="#404040" stroke-width="1.3"/>
<polygon points="1122.47,669.87 1128.42,674.19 1126.15,681.18 1118.80,681.18 1116.53,674.19" fill="#fff" fill-opacity="0.35" stroke="#404040" stroke-width="1.3"/>
<polygon points="1124.68,669.87 1130.62,674.19 1128.35,681.18 1121.01,681.18 1118.74,674.19" fill="#fff" fill-opacity="0.35" stroke="#404040" stroke-width="1.3"/>
<polygon points="1126.89,670.96 1132.83,675.28 1130.56,682.27 1123.21,682.27 1120.94,675.28" fill="#fff" fill-opacity="0.35" stroke="#404040" stroke-width="1.3"/>
<polygon points="1129.09,671.10 1135.04,675.42 1132.77,682.40 1125.42,682.40 1123.15,675.42" fill="#fff" fill-opacity="0.35" stroke="#404040" stroke-width="1.3"/>
<polygon points="1131.30,669.75 1137.25,674.07 1134.97,681.05 1127.63,681.05 1125.36,674.07" fill="#fff" fill-opacity="0.35" stroke="#404040" stroke-width="1.3"/>
<polygon points="1133.51,671.00 1139.45,675.32 1137.18,682.31 1129.83,682.31 1127.56,675.32" fill="#fff" fill-opacity="0.35" stroke="#404040" stroke-width="1.3"/>
<polygon points="1135.72,670.75 1141.66,675.07 1139.39,682.05 1132.04,682.05 1129.77,675.07" fill="#fff" fill-opacity="0.35" stroke="#404040" stroke-width="1.3"/>
<polygon points="1137.92,669.48 1143.87,673.80 1141.60,680.79 1134.25,680.79 1131.98,673.80" fill="#fff" fill-opacity="0.35" stroke="#404040" stroke-width="1.3"/>
<polygon points="1140.13,669.96 1146.07,674.28 1143.80,681.27 1136.46,681.27 1134.18,674.28" fill="#fff" fill-opacity="0.35" stroke="#404040" stroke-width="1.3"/>
<polygon points="1142.34,669.15 1148.28,673.46 1146.01,680.45 1138.66,680.45 1136.39,673.46" fill="#fff" fill-opacity="0.35" stroke="#404040" stroke-width="1.3"/>
<polygon points="1144.54,670.80 1150.49,675.12 1148.22,682.11 1140.87,682.11 1138.60,675.12" fill="#fff" fill-opacity="0.35" stroke="#404040" stroke-width="1.3"/>
<polygon points="1146.75,670.44 1152.69,674.76 1150.42,681.75 1143.08,681.75 1140.81,674.76" fill="#fff" fill-opacity="0.35" stroke="#404040" stroke-width="1.3"/>
<polygon points="1148.96,670.98 1154.90,675.30 1152.63,682.29 1145.28,682.29 1143.01,675.30" fill="#fff" fill-opacity="0.35" stroke="#404040" stroke-width="1.3"/>
<polygon points="1151.16,670.75 1157.11,675.07 1154.84,682.06 1147.49,682.06 1145.22,675.07" fill="#fff" fill-opacity="0.35" stroke="#404040" stroke-width="1.3"/>
<polygon points="1153.37,670.45 1159.32,674.77 1157.04,681.76 1149.70,681.76 1147.43,674.77" fill="#fff" fill-opacity="0.35" stroke="#404040" stroke-width="1.3"/>
<polygon points="1155.58,670.61 1161.52,674.93 1159.25,681.92 1151.90,681.92 1149.63,674.93" fill="#fff" fill-opacity="0.35" stroke="#404040" stroke-width="1.3"/>
<polygon points="1157.79,670.20 1163.73,674.52 1161.46,681.51 1154.11,681.51 1151.84,674.52" fill="#fff" fill-opacity="0.35" stroke="#404040" stroke-width="1.3"/>
<polygon points="1159.99,669.10 1165.94,673.42 1163.67,680.40 1156.32,680.40 1154.05,673.42" fill="#fff" fill-opacity="0.35" stroke="#404040" stroke-width="1.3"/>
<polygon points="1162.20,670.26 1168.14,674.58 1165.87,681.57 1158.53,681.57 1156.25,674.58" fill="#fff" fill-opacity="0.35" stroke="#404040" stroke-width="1.3"/>
<polygon points="1164.41,668.86 1170.35,673.18 1168.08,680.17 1160.73,680.17 1158.46,673.18" fill="#fff" fill-opacity="0.35" stroke="#404040" stroke-width="1.3"/>
<polygon points="1166.61,669.19 1172.56,673.51 1170.29,680.50 1162.94,680.50 1160.67,673.51" fill="#fff" fill-opacity="0.35" stroke="#404040" stroke-width="1.3"/>
<polygon points="1168.82,670.71 1174.76,675.03 1172.49,682.01 1165.15,682.01 1162.88,675.03" fill="#fff" fill-opacity="0.35" stroke="#404040" stroke-width="1.3"/>
</g>
<rect x="760.60" y="593.30" width="585.20" height="111.20" stroke="#000" stroke-width="2.8" fill="none"/>
<line x1="815.70" y1="704.50" x2="815.70" y2="691.00" stroke="#000" stroke-width="2.8"/>
<line x1="870.88" y1="704.50" x2="870.88" y2="697.50" stroke="#000" stroke-width="2.8"/>
<line x1="926.05" y1="704.50" x2="926.05" y2="691.00" stroke="#000" stroke-width="2.8"/>
<line x1="981.23" y1="704.50" x2="981.23" y2="697.50" stroke="#000" stroke-width="2.8"/>
<line x1="1036.40" y1="704.50" x2="1036.40" y2="691.00" stroke="#000" stroke-width="2.8"/>
<line x1="1091.58" y1="704.50" x2="1091.58" y2="697.50" stroke="#000" stroke-width="2.8"/>
<line x1="1146.75" y1="704.50" x2="1146.75" y2="691.00" stroke="#000" stroke-width="2.8"/>
<line x1="1201.92" y1="704.50" x2="1201.92" y2="697.50" stroke="#000" stroke-width="2.8"/>
<line x1="1257.10" y1="704.50" x2="1257.10" y2="691.00" stroke="#000" stroke-width="2.8"/>
<line x1="1312.28" y1="704.50" x2="1312.28" y2="697.50" stroke="#000" stroke-width="2.8"/>
<line x1="760.60" y1="685.95" x2="767.60" y2="685.95" stroke="#000" stroke-width="2.8"/>
<line x1="1345.80" y1="685.95" x2="1338.80" y2="685.95" stroke="#000" stroke-width="2.8"/>
<line x1="760.60" y1="667.40" x2="774.10" y2="667.40" stroke="#000" stroke-width="2.8"/>
<line x1="1345.80" y1="667.40" x2="1332.30" y2="667.40" stroke="#000" stroke-width="2.8"/>
<line x1="760.60" y1="648.85" x2="767.60" y2="648.85" stroke="#000" stroke-width="2.8"/>
<line x1="1345.80" y1="648.85" x2="1338.80" y2="648.85" stroke="#000" stroke-width="2.8"/>
<line x1="760.60" y1="630.30" x2="774.10" y2="630.30" stroke="#000" stroke-width="2.8"/>
<line x1="1345.80" y1="630.30" x2="1332.30" y2="630.30" stroke="#000" stroke-width="2.8"/>
<line x1="760.60" y1="611.75" x2="767.60" y2="611.75" stroke="#000" stroke-width="2.8"/>
<line x1="1345.80" y1="611.75" x2="1338.80" y2="611.75" stroke="#000" stroke-width="2.8"/>
<text transform="translate(773.29,180.80) scale(1.4250,1.0200)" font-size="19.00" fill="#2080c0" stroke="#2080c0" stroke-width="0.45" font-weight="bold">I</text>
<text transform="translate(787.17,180.80) scale(1.0105,1.0200)" font-size="19.00" fill="#2080c0" stroke="#2080c0" stroke-width="0.45" font-style="italic">λ</text>
<text transform="translate(797.08,185.60) scale(1.0230,1.0200)" font-size="19.00" fill="#2080c0" stroke="#2080c0" stroke-width="0.45">design</text>
<text transform="translate(859.86,180.80) scale(0.9962,1.0200)" font-size="19.00" fill="#2080c0" stroke="#2080c0" stroke-width="0.45">1784 - 1805 nm</text>
<text transform="translate(773.09,228.20) scale(1.1103,1.0200)" font-size="19.00" fill="#189b7a" stroke="#189b7a" stroke-width="0.45" font-weight="bold">II</text>
<text transform="translate(792.14,228.20) scale(1.0866,1.0200)" font-size="19.00" fill="#189b7a" stroke="#189b7a" stroke-width="0.45" font-style="italic">λ</text>
<text transform="translate(802.59,232.80) scale(1.0119,1.0200)" font-size="19.00" fill="#189b7a" stroke="#189b7a" stroke-width="0.45">design</text>
<text transform="translate(864.35,228.20) scale(0.9993,1.0200)" font-size="19.00" fill="#189b7a" stroke="#189b7a" stroke-width="0.45">1835 - 1865 nm</text>
<text transform="translate(775.87,363.30) scale(1.2035,1.0200)" font-size="19.00" fill="#f09600" stroke="#f09600" stroke-width="0.45" font-weight="bold">III</text>
<text transform="translate(800.93,363.30) scale(0.9671,1.0200)" font-size="19.00" fill="#f09600" stroke="#f09600" stroke-width="0.45" font-style="italic">λ</text>
<text transform="translate(811.49,368.00) scale(1.0119,1.0200)" font-size="19.00" fill="#f09600" stroke="#f09600" stroke-width="0.45">design</text>
<text transform="translate(873.25,363.30) scale(0.9993,1.0200)" font-size="19.00" fill="#f09600" stroke="#f09600" stroke-width="0.45">1880 - 1890 nm</text>
<text transform="translate(775.92,493.80) scale(1.1661,1.0200)" font-size="19.00" fill="#e2041a" stroke="#e2041a" stroke-width="0.45" font-weight="bold">IV</text>
<text transform="translate(803.24,493.80) scale(1.0866,1.0200)" font-size="19.00" fill="#e2041a" stroke="#e2041a" stroke-width="0.45" font-style="italic">λ</text>
<text transform="translate(813.79,498.90) scale(1.0193,1.0200)" font-size="19.00" fill="#e2041a" stroke="#e2041a" stroke-width="0.45">design</text>
<text transform="translate(875.45,493.80) scale(1.0031,1.0200)" font-size="19.00" fill="#e2041a" stroke="#e2041a" stroke-width="0.45">1910 - 1930 nm</text>
<text transform="translate(777.68,620.40) scale(0.9345,1.0200)" font-size="19.00" fill="#404040" stroke="#404040" stroke-width="0.45" font-weight="bold">V</text>
<text transform="translate(797.68,620.40) scale(1.1409,1.0200)" font-size="19.00" fill="#404040" stroke="#404040" stroke-width="0.45" font-style="italic">λ</text>
<text transform="translate(808.59,625.00) scale(1.0156,1.0200)" font-size="19.00" fill="#404040" stroke="#404040" stroke-width="0.45">design</text>
<text transform="translate(869.94,620.40) scale(1.0077,1.0200)" font-size="19.00" fill="#404040" stroke="#404040" stroke-width="0.45">1985 - 2005 nm</text>
<text transform="translate(1304.68,104.20) scale(1.3302,1.0200)" font-size="23.00" fill="#000" stroke="#000" stroke-width="0.45" font-weight="bold" font-style="italic">i</text>
<text transform="translate(1304.71,233.60) scale(1.2519,1.0200)" font-size="23.00" fill="#000" stroke="#000" stroke-width="0.45" font-weight="bold" font-style="italic">ii</text>
<text transform="translate(1304.71,364.70) scale(1.2415,1.0200)" font-size="23.00" fill="#000" stroke="#000" stroke-width="0.45" font-weight="bold" font-style="italic">iii</text>
<text transform="translate(1304.54,492.90) scale(1.1647,1.0200)" font-size="23.00" fill="#000" stroke="#000" stroke-width="0.45" font-weight="bold" font-style="italic">iv</text>
<text transform="translate(1303.63,619.70) scale(1.1111,1.0200)" font-size="23.00" fill="#000" stroke="#000" stroke-width="0.45" font-weight="bold" font-style="italic">v</text>
<line x1="1139.70" y1="93.10" x2="1182.00" y2="93.10" stroke="#2080c0" stroke-width="2"/>
<text transform="translate(1187.32,99.80) scale(1.0002,1.0200)" font-size="19.30" fill="#000" stroke="#000" stroke-width="0.45">Simulation</text>
<rect x="1156.00" y="111.50" width="10" height="10" fill="none" stroke="#2080c0" stroke-width="1.3"/>
<text transform="translate(1186.62,122.80) scale(0.9960,1.0200)" font-size="19.30" fill="#000" stroke="#000" stroke-width="0.45">Experiment</text>
<text transform="translate(-2.61,424.30) scale(1.1483,1.0200)" font-size="29.10" fill="#000" stroke="#000" stroke-width="0.45" font-weight="bold">c</text>
<text transform="translate(37.92,464.93) scale(1,1.0200)" font-size="30.00" fill="#000" stroke="#000" stroke-width="0.45">4</text>
<text transform="translate(37.92,505.78) scale(1,1.0200)" font-size="30.00" fill="#000" stroke="#000" stroke-width="0.45">3</text>
<text transform="translate(37.92,563.36) scale(1,1.0200)" font-size="30.00" fill="#000" stroke="#000" stroke-width="0.45">2</text>
<text transform="translate(37.92,661.80) scale(1,1.0200)" font-size="30.00" fill="#000" stroke="#000" stroke-width="0.45">1</text>
<text transform="translate(40.35,738.50) scale(1,1.0200)" font-size="31.00" fill="#000" stroke="#000" stroke-width="0.45">0.1</text>
<text transform="translate(172.23,738.50) scale(1,1.0200)" font-size="31.00" fill="#000" stroke="#000" stroke-width="0.45">0.2</text>
<text transform="translate(346.57,738.50) scale(1,1.0200)" font-size="31.00" fill="#000" stroke="#000" stroke-width="0.45">0.5</text>
<text transform="translate(491.38,738.50) scale(1,1.0200)" font-size="31.00" fill="#000" stroke="#000" stroke-width="0.45">1</text>
<text transform="translate(623.26,738.50) scale(1,1.0200)" font-size="31.00" fill="#000" stroke="#000" stroke-width="0.45">2</text>
<text transform="translate(0.85,781.90) scale(1.0000,1.0200)" font-size="29.85" fill="#000" stroke="#000" stroke-width="0.45">Incident irradiance 1450 nm - 1600 nm [W cm</text>
<text transform="translate(603.15,769.50) scale(1.1255,1.0200)" font-size="17.00" fill="#000" stroke="#000" stroke-width="0.45">-2</text>
<text transform="translate(620.87,781.90) scale(1.0000,1.0200)" font-size="29.80" fill="#000" stroke="#000" stroke-width="0.45">]</text>
<text transform="translate(22.30,636.46) rotate(-90) scale(1.0010,0.9323)" font-size="31.80" fill="#000" stroke="#000" stroke-width="0.45">UCPL</text>
<text transform="translate(30.50,553.28) rotate(-90) scale(0.9251,1.0009)" font-size="27.30" fill="#000" stroke="#000" stroke-width="0.45">rel</text>
<rect x="61.90" y="456.80" width="570.30" height="247.50" stroke="#000" stroke-width="2" fill="none"/>
<line x1="81.95" y1="704.30" x2="81.95" y2="700.50" stroke="#000" stroke-width="2"/>
<line x1="81.95" y1="456.80" x2="81.95" y2="460.60" stroke="#000" stroke-width="2"/>
<line x1="100.08" y1="704.30" x2="100.08" y2="700.50" stroke="#000" stroke-width="2"/>
<line x1="100.08" y1="456.80" x2="100.08" y2="460.60" stroke="#000" stroke-width="2"/>
<line x1="116.64" y1="704.30" x2="116.64" y2="700.50" stroke="#000" stroke-width="2"/>
<line x1="116.64" y1="456.80" x2="116.64" y2="460.60" stroke="#000" stroke-width="2"/>
<line x1="131.86" y1="704.30" x2="131.86" y2="700.50" stroke="#000" stroke-width="2"/>
<line x1="131.86" y1="456.80" x2="131.86" y2="460.60" stroke="#000" stroke-width="2"/>
<line x1="145.97" y1="704.30" x2="145.97" y2="700.50" stroke="#000" stroke-width="2"/>
<line x1="145.97" y1="456.80" x2="145.97" y2="460.60" stroke="#000" stroke-width="2"/>
<line x1="159.09" y1="704.30" x2="159.09" y2="700.50" stroke="#000" stroke-width="2"/>
<line x1="159.09" y1="456.80" x2="159.09" y2="460.60" stroke="#000" stroke-width="2"/>
<line x1="171.37" y1="704.30" x2="171.37" y2="700.50" stroke="#000" stroke-width="2"/>
<line x1="171.37" y1="456.80" x2="171.37" y2="460.60" stroke="#000" stroke-width="2"/>
<line x1="182.91" y1="704.30" x2="182.91" y2="700.50" stroke="#000" stroke-width="2"/>
<line x1="182.91" y1="456.80" x2="182.91" y2="460.60" stroke="#000" stroke-width="2"/>
<line x1="193.78" y1="704.30" x2="193.78" y2="695.80" stroke="#000" stroke-width="2"/>
<line x1="193.78" y1="456.80" x2="193.78" y2="465.30" stroke="#000" stroke-width="2"/>
<line x1="223.11" y1="704.30" x2="223.11" y2="700.50" stroke="#000" stroke-width="2"/>
<line x1="223.11" y1="456.80" x2="223.11" y2="460.60" stroke="#000" stroke-width="2"/>
<line x1="248.52" y1="704.30" x2="248.52" y2="700.50" stroke="#000" stroke-width="2"/>
<line x1="248.52" y1="456.80" x2="248.52" y2="460.60" stroke="#000" stroke-width="2"/>
<line x1="270.93" y1="704.30" x2="270.93" y2="700.50" stroke="#000" stroke-width="2"/>
<line x1="270.93" y1="456.80" x2="270.93" y2="460.60" stroke="#000" stroke-width="2"/>
<line x1="290.97" y1="704.30" x2="290.97" y2="700.50" stroke="#000" stroke-width="2"/>
<line x1="290.97" y1="456.80" x2="290.97" y2="460.60" stroke="#000" stroke-width="2"/>
<line x1="309.11" y1="704.30" x2="309.11" y2="700.50" stroke="#000" stroke-width="2"/>
<line x1="309.11" y1="456.80" x2="309.11" y2="460.60" stroke="#000" stroke-width="2"/>
<line x1="325.66" y1="704.30" x2="325.66" y2="700.50" stroke="#000" stroke-width="2"/>
<line x1="325.66" y1="456.80" x2="325.66" y2="460.60" stroke="#000" stroke-width="2"/>
<line x1="340.89" y1="704.30" x2="340.89" y2="700.50" stroke="#000" stroke-width="2"/>
<line x1="340.89" y1="456.80" x2="340.89" y2="460.60" stroke="#000" stroke-width="2"/>
<line x1="354.99" y1="704.30" x2="354.99" y2="700.50" stroke="#000" stroke-width="2"/>
<line x1="354.99" y1="456.80" x2="354.99" y2="460.60" stroke="#000" stroke-width="2"/>
<line x1="368.12" y1="704.30" x2="368.12" y2="695.80" stroke="#000" stroke-width="2"/>
<line x1="368.12" y1="456.80" x2="368.12" y2="465.30" stroke="#000" stroke-width="2"/>
<line x1="388.17" y1="704.30" x2="388.17" y2="700.50" stroke="#000" stroke-width="2"/>
<line x1="388.17" y1="456.80" x2="388.17" y2="460.60" stroke="#000" stroke-width="2"/>
<line x1="406.30" y1="704.30" x2="406.30" y2="700.50" stroke="#000" stroke-width="2"/>
<line x1="406.30" y1="456.80" x2="406.30" y2="460.60" stroke="#000" stroke-width="2"/>
<line x1="422.85" y1="704.30" x2="422.85" y2="700.50" stroke="#000" stroke-width="2"/>
<line x1="422.85" y1="456.80" x2="422.85" y2="460.60" stroke="#000" stroke-width="2"/>
<line x1="438.08" y1="704.30" x2="438.08" y2="700.50" stroke="#000" stroke-width="2"/>
<line x1="438.08" y1="456.80" x2="438.08" y2="460.60" stroke="#000" stroke-width="2"/>
<line x1="452.18" y1="704.30" x2="452.18" y2="700.50" stroke="#000" stroke-width="2"/>
<line x1="452.18" y1="456.80" x2="452.18" y2="460.60" stroke="#000" stroke-width="2"/>
<line x1="465.31" y1="704.30" x2="465.31" y2="700.50" stroke="#000" stroke-width="2"/>
<line x1="465.31" y1="456.80" x2="465.31" y2="460.60" stroke="#000" stroke-width="2"/>
<line x1="477.59" y1="704.30" x2="477.59" y2="700.50" stroke="#000" stroke-width="2"/>
<line x1="477.59" y1="456.80" x2="477.59" y2="460.60" stroke="#000" stroke-width="2"/>
<line x1="489.12" y1="704.30" x2="489.12" y2="700.50" stroke="#000" stroke-width="2"/>
<line x1="489.12" y1="456.80" x2="489.12" y2="460.60" stroke="#000" stroke-width="2"/>
<line x1="500.00" y1="704.30" x2="500.00" y2="695.80" stroke="#000" stroke-width="2"/>
<line x1="500.00" y1="456.80" x2="500.00" y2="465.30" stroke="#000" stroke-width="2"/>
<line x1="520.05" y1="704.30" x2="520.05" y2="700.50" stroke="#000" stroke-width="2"/>
<line x1="520.05" y1="456.80" x2="520.05" y2="460.60" stroke="#000" stroke-width="2"/>
<line x1="538.18" y1="704.30" x2="538.18" y2="700.50" stroke="#000" stroke-width="2"/>
<line x1="538.18" y1="456.80" x2="538.18" y2="460.60" stroke="#000" stroke-width="2"/>
<line x1="554.74" y1="704.30" x2="554.74" y2="700.50" stroke="#000" stroke-width="2"/>
<line x1="554.74" y1="456.80" x2="554.74" y2="460.60" stroke="#000" stroke-width="2"/>
<line x1="569.96" y1="704.30" x2="569.96" y2="700.50" stroke="#000" stroke-width="2"/>
<line x1="569.96" y1="456.80" x2="569.96" y2="460.60" stroke="#000" stroke-width="2"/>
<line x1="584.07" y1="704.30" x2="584.07" y2="700.50" stroke="#000" stroke-width="2"/>
<line x1="584.07" y1="456.80" x2="584.07" y2="460.60" stroke="#000" stroke-width="2"/>
<line x1="597.19" y1="704.30" x2="597.19" y2="700.50" stroke="#000" stroke-width="2"/>
<line x1="597.19" y1="456.80" x2="597.19" y2="460.60" stroke="#000" stroke-width="2"/>
<line x1="609.47" y1="704.30" x2="609.47" y2="700.50" stroke="#000" stroke-width="2"/>
<line x1="609.47" y1="456.80" x2="609.47" y2="460.60" stroke="#000" stroke-width="2"/>
<line x1="621.01" y1="704.30" x2="621.01" y2="700.50" stroke="#000" stroke-width="2"/>
<line x1="621.01" y1="456.80" x2="621.01" y2="460.60" stroke="#000" stroke-width="2"/>
<line x1="61.90" y1="689.49" x2="65.70" y2="689.49" stroke="#000" stroke-width="2"/>
<line x1="632.20" y1="689.49" x2="628.40" y2="689.49" stroke="#000" stroke-width="2"/>
<line x1="61.90" y1="670.53" x2="65.70" y2="670.53" stroke="#000" stroke-width="2"/>
<line x1="632.20" y1="670.53" x2="628.40" y2="670.53" stroke="#000" stroke-width="2"/>
<line x1="61.90" y1="653.80" x2="71.40" y2="653.80" stroke="#000" stroke-width="2"/>
<line x1="632.20" y1="653.80" x2="622.70" y2="653.80" stroke="#000" stroke-width="2"/>
<line x1="61.90" y1="638.84" x2="65.70" y2="638.84" stroke="#000" stroke-width="2"/>
<line x1="632.20" y1="638.84" x2="628.40" y2="638.84" stroke="#000" stroke-width="2"/>
<line x1="61.90" y1="625.30" x2="65.70" y2="625.30" stroke="#000" stroke-width="2"/>
<line x1="632.20" y1="625.30" x2="628.40" y2="625.30" stroke="#000" stroke-width="2"/>
<line x1="61.90" y1="612.95" x2="65.70" y2="612.95" stroke="#000" stroke-width="2"/>
<line x1="632.20" y1="612.95" x2="628.40" y2="612.95" stroke="#000" stroke-width="2"/>
<line x1="61.90" y1="601.58" x2="65.70" y2="601.58" stroke="#000" stroke-width="2"/>
<line x1="632.20" y1="601.58" x2="628.40" y2="601.58" stroke="#000" stroke-width="2"/>
<line x1="61.90" y1="591.05" x2="65.70" y2="591.05" stroke="#000" stroke-width="2"/>
<line x1="632.20" y1="591.05" x2="628.40" y2="591.05" stroke="#000" stroke-width="2"/>
<line x1="61.90" y1="581.26" x2="65.70" y2="581.26" stroke="#000" stroke-width="2"/>
<line x1="632.20" y1="581.26" x2="628.40" y2="581.26" stroke="#000" stroke-width="2"/>
<line x1="61.90" y1="572.09" x2="65.70" y2="572.09" stroke="#000" stroke-width="2"/>
<line x1="632.20" y1="572.09" x2="628.40" y2="572.09" stroke="#000" stroke-width="2"/>
<line x1="61.90" y1="563.48" x2="65.70" y2="563.48" stroke="#000" stroke-width="2"/>
<line x1="632.20" y1="563.48" x2="628.40" y2="563.48" stroke="#000" stroke-width="2"/>
<line x1="61.90" y1="555.36" x2="71.40" y2="555.36" stroke="#000" stroke-width="2"/>
<line x1="632.20" y1="555.36" x2="622.70" y2="555.36" stroke="#000" stroke-width="2"/>
<line x1="61.90" y1="547.68" x2="65.70" y2="547.68" stroke="#000" stroke-width="2"/>
<line x1="632.20" y1="547.68" x2="628.40" y2="547.68" stroke="#000" stroke-width="2"/>
<line x1="61.90" y1="540.40" x2="65.70" y2="540.40" stroke="#000" stroke-width="2"/>
<line x1="632.20" y1="540.40" x2="628.40" y2="540.40" stroke="#000" stroke-width="2"/>
<line x1="61.90" y1="533.47" x2="65.70" y2="533.47" stroke="#000" stroke-width="2"/>
<line x1="632.20" y1="533.47" x2="628.40" y2="533.47" stroke="#000" stroke-width="2"/>
<line x1="61.90" y1="526.87" x2="65.70" y2="526.87" stroke="#000" stroke-width="2"/>
<line x1="632.20" y1="526.87" x2="628.40" y2="526.87" stroke="#000" stroke-width="2"/>
<line x1="61.90" y1="520.55" x2="65.70" y2="520.55" stroke="#000" stroke-width="2"/>
<line x1="632.20" y1="520.55" x2="628.40" y2="520.55" stroke="#000" stroke-width="2"/>
<line x1="61.90" y1="514.51" x2="65.70" y2="514.51" stroke="#000" stroke-width="2"/>
<line x1="632.20" y1="514.51" x2="628.40" y2="514.51" stroke="#000" stroke-width="2"/>
<line x1="61.90" y1="508.71" x2="65.70" y2="508.71" stroke="#000" stroke-width="2"/>
<line x1="632.20" y1="508.71" x2="628.40" y2="508.71" stroke="#000" stroke-width="2"/>
<line x1="61.90" y1="503.14" x2="65.70" y2="503.14" stroke="#000" stroke-width="2"/>
<line x1="632.20" y1="503.14" x2="628.40" y2="503.14" stroke="#000" stroke-width="2"/>
<line x1="61.90" y1="497.78" x2="71.40" y2="497.78" stroke="#000" stroke-width="2"/>
<line x1="632.20" y1="497.78" x2="622.70" y2="497.78" stroke="#000" stroke-width="2"/>
<line x1="61.90" y1="492.62" x2="65.70" y2="492.62" stroke="#000" stroke-width="2"/>
<line x1="632.20" y1="492.62" x2="628.40" y2="492.62" stroke="#000" stroke-width="2"/>
<line x1="61.90" y1="487.63" x2="65.70" y2="487.63" stroke="#000" stroke-width="2"/>
<line x1="632.20" y1="487.63" x2="628.40" y2="487.63" stroke="#000" stroke-width="2"/>
<line x1="61.90" y1="482.82" x2="65.70" y2="482.82" stroke="#000" stroke-width="2"/>
<line x1="632.20" y1="482.82" x2="628.40" y2="482.82" stroke="#000" stroke-width="2"/>
<line x1="61.90" y1="478.16" x2="65.70" y2="478.16" stroke="#000" stroke-width="2"/>
<line x1="632.20" y1="478.16" x2="628.40" y2="478.16" stroke="#000" stroke-width="2"/>
<line x1="61.90" y1="473.65" x2="65.70" y2="473.65" stroke="#000" stroke-width="2"/>
<line x1="632.20" y1="473.65" x2="628.40" y2="473.65" stroke="#000" stroke-width="2"/>
<line x1="61.90" y1="469.28" x2="65.70" y2="469.28" stroke="#000" stroke-width="2"/>
<line x1="632.20" y1="469.28" x2="628.40" y2="469.28" stroke="#000" stroke-width="2"/>
<line x1="61.90" y1="465.04" x2="65.70" y2="465.04" stroke="#000" stroke-width="2"/>
<line x1="632.20" y1="465.04" x2="628.40" y2="465.04" stroke="#000" stroke-width="2"/>
<line x1="61.90" y1="460.93" x2="65.70" y2="460.93" stroke="#000" stroke-width="2"/>
<line x1="632.20" y1="460.93" x2="628.40" y2="460.93" stroke="#000" stroke-width="2"/>
<path d="M62.50,502.40 C77.92,504.50 115.42,510.10 155.00,515.00 C194.58,519.90 254.17,526.38 300.00,531.80 C345.83,537.22 389.88,542.55 430.00,547.50 C470.12,552.45 507.12,557.33 540.70,561.50 C574.28,565.67 616.37,570.67 631.50,572.50" fill="none" stroke="#f09600" stroke-width="3.3" stroke-linejoin="round" stroke-linecap="round" stroke-dasharray="0.01 5.84"/>
<line x1="62.50" y1="530.60" x2="631.50" y2="553.70" stroke="#f09600" stroke-width="3"/>
<path d="M63.50,701.20 C85.58,698.60 149.92,690.77 196.00,685.60 C242.08,680.43 267.42,677.50 340.00,670.20 C412.58,662.90 582.92,646.53 631.50,641.80" fill="none" stroke="#f09600" stroke-width="2.8" stroke-linejoin="round" stroke-linecap="round" stroke-dasharray="4.2 8.7"/>
<polygon points="170.80,511.32 176.05,520.45 165.55,520.45" fill="#f09600" fill-opacity="1.0"/>
<polygon points="185.80,526.92 191.05,536.05 180.55,536.05" fill="#f09600" fill-opacity="1.0"/>
<polygon points="199.90,519.62 205.15,528.75 194.65,528.75" fill="#f09600" fill-opacity="1.0"/>
<polygon points="212.80,523.82 218.05,532.95 207.55,532.95" fill="#f09600" fill-opacity="1.0"/>
<polygon points="225.90,530.72 231.15,539.85 220.65,539.85" fill="#f09600" fill-opacity="1.0"/>
<polygon points="237.70,531.72 242.95,540.85 232.45,540.85" fill="#f09600" fill-opacity="1.0"/>
<polygon points="248.90,514.02 254.15,523.15 243.65,523.15" fill="#f09600" fill-opacity="1.0"/>
<polygon points="259.50,521.12 264.75,530.25 254.25,530.25" fill="#f09600" fill-opacity="1.0"/>
<polygon points="269.50,523.82 274.75,532.95 264.25,532.95" fill="#f09600" fill-opacity="1.0"/>
<polygon points="278.90,517.12 284.15,526.25 273.65,526.25" fill="#f09600" fill-opacity="1.0"/>
<polygon points="287.20,523.82 292.45,532.95 281.95,532.95" fill="#f09600" fill-opacity="1.0"/>
<polygon points="296.10,515.52 301.35,524.65 290.85,524.65" fill="#f09600" fill-opacity="1.0"/>
<polygon points="303.80,526.92 309.05,536.05 298.55,536.05" fill="#f09600" fill-opacity="1.0"/>
<polygon points="311.70,521.72 316.95,530.85 306.45,530.85" fill="#f09600" fill-opacity="1.0"/>
<polygon points="319.40,531.12 324.65,540.25 314.15,540.25" fill="#f09600" fill-opacity="1.0"/>
<polygon points="326.30,531.12 331.55,540.25 321.05,540.25" fill="#f09600" fill-opacity="1.0"/>
<polygon points="333.30,529.02 338.55,538.15 328.05,538.15" fill="#f09600" fill-opacity="1.0"/>
<polygon points="339.80,536.32 345.05,545.45 334.55,545.45" fill="#f09600" fill-opacity="1.0"/>
<polygon points="346.40,527.32 351.65,536.45 341.15,536.45" fill="#f09600" fill-opacity="1.0"/>
<polygon points="352.70,527.32 357.95,536.45 347.45,536.45" fill="#f09600" fill-opacity="1.0"/>
<polygon points="358.90,528.02 364.15,537.15 353.65,537.15" fill="#f09600" fill-opacity="1.0"/>
<polygon points="365.10,531.12 370.35,540.25 359.85,540.25" fill="#f09600" fill-opacity="1.0"/>
<polygon points="370.30,530.02 375.55,539.15 365.05,539.15" fill="#f09600" fill-opacity="1.0"/>
<polygon points="376.60,526.92 381.85,536.05 371.35,536.05" fill="#f09600" fill-opacity="1.0"/>
<polygon points="381.80,529.02 387.05,538.15 376.55,538.15" fill="#f09600" fill-opacity="1.0"/>
<polygon points="385.90,532.12 391.15,541.25 380.65,541.25" fill="#f09600" fill-opacity="1.0"/>
<polygon points="391.10,529.02 396.35,538.15 385.85,538.15" fill="#f09600" fill-opacity="1.0"/>
<polygon points="396.30,527.32 401.55,536.45 391.05,536.45" fill="#f09600" fill-opacity="1.0"/>
<polygon points="401.50,533.12 406.75,542.25 396.25,542.25" fill="#f09600" fill-opacity="1.0"/>
<polygon points="424.00,533.12 429.25,542.25 418.75,542.25" fill="#f09600" fill-opacity="1.0"/>
<polygon points="443.00,534.12 448.25,543.25 437.75,543.25" fill="#f09600" fill-opacity="1.0"/>
<polygon points="460.90,534.62 466.15,543.75 455.65,543.75" fill="#f09600" fill-opacity="1.0"/>
<polygon points="482.30,532.22 487.55,541.35 477.05,541.35" fill="#f09600" fill-opacity="1.0"/>
<polygon points="492.40,534.62 497.65,543.75 487.15,543.75" fill="#f09600" fill-opacity="1.0"/>
<polygon points="507.10,537.32 512.35,546.45 501.85,546.45" fill="#f09600" fill-opacity="1.0"/>
<polygon points="519.90,537.32 525.15,546.45 514.65,546.45" fill="#f09600" fill-opacity="1.0"/>
<polygon points="532.50,537.32 537.75,546.45 527.25,546.45" fill="#f09600" fill-opacity="1.0"/>
<polygon points="543.70,538.32 548.95,547.45 538.45,547.45" fill="#f09600" fill-opacity="1.0"/>
<polygon points="555.20,539.42 560.45,548.55 549.95,548.55" fill="#f09600" fill-opacity="1.0"/>
<polygon points="565.10,538.92 570.35,548.05 559.85,548.05" fill="#f09600" fill-opacity="1.0"/>
<polygon points="574.70,538.92 579.95,548.05 569.45,548.05" fill="#f09600" fill-opacity="1.0"/>
<text transform="translate(73.89,484.60) scale(1.1763,1.0200)" font-size="18.50" fill="#000" stroke="#000" stroke-width="0.45">@</text>
<text transform="translate(99.92,484.80) scale(1.0936,1.0200)" font-size="18.50" fill="#000" stroke="#000" stroke-width="0.45" font-style="italic">λ</text>
<text transform="translate(109.66,489.50) scale(0.9910,1.0200)" font-size="17.50" fill="#000" stroke="#000" stroke-width="0.45">excitation</text>
<text transform="translate(188.44,484.60) scale(1.0365,1.0200)" font-size="18.50" fill="#000" stroke="#000" stroke-width="0.45">1523 nm</text>
<text transform="translate(439.69,486.90) scale(1.0305,1.0200)" font-size="19.00" fill="#f09600" stroke="#f09600" stroke-width="0.45" font-weight="bold">III</text>
<text transform="translate(465.93,486.90) scale(1.0757,1.0200)" font-size="19.00" fill="#f09600" stroke="#f09600" stroke-width="0.45" font-style="italic">λ</text>
<text transform="translate(475.57,491.10) scale(0.9192,1.0200)" font-size="19.00" fill="#f09600" stroke="#f09600" stroke-width="0.45">design</text>
<text transform="translate(532.23,486.90) scale(0.9939,1.0200)" font-size="19.40" fill="#f09600" stroke="#f09600" stroke-width="0.45">1888 nm</text>
<text transform="translate(74.33,558.60) scale(1.0137,1.0200)" font-size="19.00" fill="#000" stroke="#000" stroke-width="0.45">Simulation</text>
<line x1="74.50" y1="575.30" x2="117.00" y2="575.30" stroke="#f09600" stroke-width="3.3" stroke-dasharray="0.01 5.84" stroke-linecap="round"/>
<text transform="translate(122.35,582.00) scale(0.9373,1.0200)" font-size="19.00" fill="#000" stroke="#000" stroke-width="0.45" font-style="italic">u</text>
<text transform="translate(132.50,587.00) scale(0.9471,1.0200)" font-size="19.00" fill="#000" stroke="#000" stroke-width="0.45">rel</text>
<text transform="translate(156.98,582.00) scale(1.0133,1.0200)" font-size="19.00" fill="#000" stroke="#000" stroke-width="0.45">effect only</text>
<line x1="74.80" y1="604.00" x2="117.90" y2="604.00" stroke="#f09600" stroke-width="2.8" stroke-dasharray="4.2 8.7" stroke-linecap="round"/>
<text transform="translate(121.30,610.50) scale(1.0282,1.0200)" font-size="19.00" fill="#000" stroke="#000" stroke-width="0.45">LDOS</text>
<text transform="translate(173.66,615.50) scale(0.9794,1.0200)" font-size="19.00" fill="#000" stroke="#000" stroke-width="0.45">rel</text>
<text transform="translate(198.18,610.50) scale(1.0133,1.0200)" font-size="19.00" fill="#000" stroke="#000" stroke-width="0.45">effect only</text>
<line x1="73.40" y1="632.20" x2="117.90" y2="632.20" stroke="#f09600" stroke-width="3"/>
<text transform="translate(122.35,639.40) scale(0.9373,1.0200)" font-size="19.00" fill="#000" stroke="#000" stroke-width="0.45" font-style="italic">u</text>
<text transform="translate(132.50,644.30) scale(0.9471,1.0200)" font-size="19.00" fill="#000" stroke="#000" stroke-width="0.45">rel</text>
<text transform="translate(157.14,639.40) scale(0.9822,1.0200)" font-size="19.00" fill="#000" stroke="#000" stroke-width="0.45">&amp;</text>
<text transform="translate(174.40,639.40) scale(1.0242,1.0200)" font-size="19.00" fill="#000" stroke="#000" stroke-width="0.45">LDOS</text>
<text transform="translate(226.78,644.30) scale(0.9687,1.0200)" font-size="19.00" fill="#000" stroke="#000" stroke-width="0.45">rel</text>
<text transform="translate(251.98,639.40) scale(1.0192,1.0200)" font-size="19.00" fill="#000" stroke="#000" stroke-width="0.45">effect</text>
<polygon points="95.00,660.26 100.50,669.83 89.50,669.83" fill="#f09600" fill-opacity="1.0"/>
<text transform="translate(121.12,673.70) scale(1.0159,1.0200)" font-size="19.00" fill="#000" stroke="#000" stroke-width="0.45">Experiment</text>
</svg></body></html>
